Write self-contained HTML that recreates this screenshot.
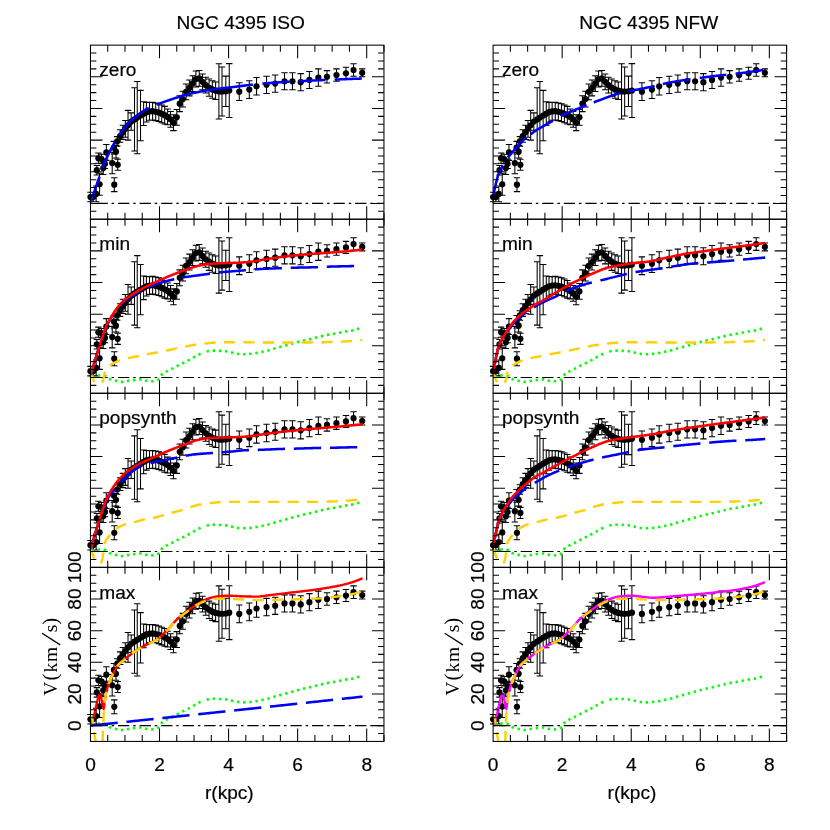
<!DOCTYPE html>
<html><head><meta charset="utf-8"><title>NGC 4395 rotation curve fits</title>
<style>
html,body{margin:0;padding:0;background:#fff;}
svg{display:block;will-change:transform;}
.t{font-family:"Liberation Sans",sans-serif;font-size:19.1px;fill:#000;stroke:#000;stroke-width:0.2px;}
.s{font-family:"Liberation Serif",serif;font-size:19.5px;fill:#000;}
</style></head><body>
<svg width="830" height="830" viewBox="0 0 830 830">
<rect width="830" height="830" fill="#ffffff"/>
<defs>
<clipPath id="c00"><rect x="90.45" y="45.15" width="293.50" height="174.07"/></clipPath>
<clipPath id="c01"><rect x="90.45" y="219.22" width="293.50" height="174.07"/></clipPath>
<clipPath id="c02"><rect x="90.45" y="393.29" width="293.50" height="174.07"/></clipPath>
<clipPath id="c03"><rect x="90.45" y="567.36" width="293.50" height="174.07"/></clipPath>
<clipPath id="c10"><rect x="493.10" y="45.15" width="293.50" height="174.07"/></clipPath>
<clipPath id="c11"><rect x="493.10" y="219.22" width="293.50" height="174.07"/></clipPath>
<clipPath id="c12"><rect x="493.10" y="393.29" width="293.50" height="174.07"/></clipPath>
<clipPath id="c13"><rect x="493.10" y="567.36" width="293.50" height="174.07"/></clipPath>
</defs>
<path d="M90.45 203.40 H383.95" stroke="#000" stroke-width="1.1" fill="none" stroke-dasharray="11.3 3.85 2.5 3.9" stroke-dashoffset="15.5"/>
<path d="M90.45 192.32 V201.81 M87.25 192.32 h6.4 M87.25 201.81 h6.4 M93.21 192.32 V201.81 M90.01 192.32 h6.4 M90.01 201.81 h6.4 M96.15 185.99 V201.81 M92.95 185.99 h6.4 M92.95 201.81 h6.4 M99.60 173.17 V195.32 M96.40 173.17 h6.4 M96.40 195.32 h6.4 M96.84 165.42 V174.91 M93.64 165.42 h6.4 M93.64 174.91 h6.4 M98.39 153.07 V163.20 M95.19 153.07 h6.4 M95.19 163.20 h6.4 M101.50 154.34 V163.83 M98.30 154.34 h6.4 M98.30 163.83 h6.4 M103.23 161.78 V174.44 M100.03 161.78 h6.4 M100.03 174.44 h6.4 M104.95 159.09 V168.58 M101.75 159.09 h6.4 M101.75 168.58 h6.4 M106.33 144.53 V160.35 M103.13 144.53 h6.4 M103.13 160.35 h6.4 M112.20 152.28 V173.80 M109.00 152.28 h6.4 M109.00 173.80 h6.4 M114.28 177.68 V191.61 M111.08 177.68 h6.4 M111.08 191.61 h6.4 M117.73 159.24 V170.32 M114.53 159.24 h6.4 M114.53 170.32 h6.4 M116.00 145.32 V157.98 M112.80 145.32 h6.4 M112.80 157.98 h6.4 M113.93 141.36 V154.02 M110.73 141.36 h6.4 M110.73 154.02 h6.4 M117.21 136.62 V146.11 M114.01 136.62 h6.4 M114.01 146.11 h6.4 M120.15 129.65 V142.31 M116.95 129.65 h6.4 M116.95 142.31 h6.4 M122.91 125.22 V139.47 M119.71 125.22 h6.4 M119.71 139.47 h6.4 M125.32 120.47 V137.24 M122.12 120.47 h6.4 M122.12 137.24 h6.4 M128.02 110.38 V140.13 M124.82 110.38 h6.4 M124.82 140.13 h6.4 M131.19 112.88 V130.29 M127.99 112.88 h6.4 M127.99 130.29 h6.4 M134.51 87.75 V151.05 M131.31 87.75 h6.4 M131.31 151.05 h6.4 M137.24 81.54 V153.70 M134.04 81.54 h6.4 M134.04 153.70 h6.4 M140.52 90.39 V140.71 M137.32 90.39 h6.4 M137.32 140.71 h6.4 M143.63 101.83 V125.57 M140.43 101.83 h6.4 M140.43 125.57 h6.4 M146.39 102.37 V121.99 M143.19 102.37 h6.4 M143.19 121.99 h6.4 M149.50 102.57 V120.30 M146.30 102.57 h6.4 M146.30 120.30 h6.4 M152.60 102.31 V120.03 M149.40 102.31 h6.4 M149.40 120.03 h6.4 M155.71 102.91 V120.63 M152.51 102.91 h6.4 M152.51 120.63 h6.4 M158.82 103.69 V121.41 M155.62 103.69 h6.4 M155.62 121.41 h6.4 M161.75 104.95 V122.67 M158.55 104.95 h6.4 M158.55 122.67 h6.4 M164.69 106.35 V124.07 M161.49 106.35 h6.4 M161.49 124.07 h6.4 M167.62 108.98 V124.81 M164.42 108.98 h6.4 M164.42 124.81 h6.4 M170.56 111.44 V127.27 M167.36 111.44 h6.4 M167.36 127.27 h6.4 M173.49 114.78 V130.60 M170.29 114.78 h6.4 M170.29 130.60 h6.4 M176.77 109.40 V125.22 M173.57 109.40 h6.4 M173.57 125.22 h6.4 M179.71 95.79 V111.61 M176.51 95.79 h6.4 M176.51 111.61 h6.4 M182.82 91.18 V107.00 M179.62 91.18 h6.4 M179.62 107.00 h6.4 M186.10 83.94 V99.76 M182.90 83.94 h6.4 M182.90 99.76 h6.4 M189.38 80.05 V95.87 M186.18 80.05 h6.4 M186.18 95.87 h6.4 M192.66 75.69 V91.51 M189.46 75.69 h6.4 M189.46 91.51 h6.4 M195.94 71.08 V86.90 M192.74 71.08 h6.4 M192.74 86.90 h6.4 M199.22 70.47 V86.29 M196.02 70.47 h6.4 M196.02 86.29 h6.4 M202.50 73.95 V89.78 M199.30 73.95 h6.4 M199.30 89.78 h6.4 M205.78 77.27 V93.09 M202.58 77.27 h6.4 M202.58 93.09 h6.4 M209.06 78.91 V96.32 M205.86 78.91 h6.4 M205.86 96.32 h6.4 M212.34 80.76 V98.16 M209.14 80.76 h6.4 M209.14 98.16 h6.4 M215.62 82.00 V99.40 M212.42 82.00 h6.4 M212.42 99.40 h6.4 M218.90 63.68 V119.07 M215.70 63.68 h6.4 M215.70 119.07 h6.4 M222.01 66.99 V116.04 M218.81 66.99 h6.4 M218.81 116.04 h6.4 M225.81 76.11 V106.49 M222.61 76.11 h6.4 M222.61 106.49 h6.4 M229.26 63.61 V117.41 M226.06 63.61 h6.4 M226.06 117.41 h6.4 M239.27 82.81 V100.54 M236.07 82.81 h6.4 M236.07 100.54 h6.4 M249.29 80.76 V98.48 M246.09 80.76 h6.4 M246.09 98.48 h6.4 M256.54 77.59 V95.00 M253.34 77.59 h6.4 M253.34 95.00 h6.4 M266.55 76.17 V93.57 M263.35 76.17 h6.4 M263.35 93.57 h6.4 M275.18 75.06 V92.15 M271.98 75.06 h6.4 M271.98 92.15 h6.4 M284.51 72.68 V89.78 M281.31 72.68 h6.4 M281.31 89.78 h6.4 M292.45 72.68 V89.78 M289.25 72.68 h6.4 M289.25 89.78 h6.4 M300.73 73.63 V90.72 M297.53 73.63 h6.4 M297.53 90.72 h6.4 M309.37 71.42 V88.51 M306.17 71.42 h6.4 M306.17 88.51 h6.4 M318.34 68.89 V86.29 M315.14 68.89 h6.4 M315.14 86.29 h6.4 M326.98 70.63 V82.97 M323.78 70.63 h6.4 M323.78 82.97 h6.4 M336.47 68.89 V81.23 M333.27 68.89 h6.4 M333.27 81.23 h6.4 M345.97 67.30 V79.33 M342.77 67.30 h6.4 M342.77 79.33 h6.4 M353.56 63.66 V76.32 M350.36 63.66 h6.4 M350.36 76.32 h6.4 M362.20 68.89 V76.80 M359.00 68.89 h6.4 M359.00 76.80 h6.4" stroke="#000" stroke-width="1.05" fill="none"/>
<circle cx="90.45" cy="197.07" r="3.1" fill="#000"/>
<circle cx="93.21" cy="197.07" r="3.1" fill="#000"/>
<circle cx="96.15" cy="193.90" r="3.1" fill="#000"/>
<circle cx="99.60" cy="184.25" r="3.1" fill="#000"/>
<circle cx="96.84" cy="170.16" r="3.1" fill="#000"/>
<circle cx="98.39" cy="158.14" r="3.1" fill="#000"/>
<circle cx="101.50" cy="159.09" r="3.1" fill="#000"/>
<circle cx="103.23" cy="168.11" r="3.1" fill="#000"/>
<circle cx="104.95" cy="163.83" r="3.1" fill="#000"/>
<circle cx="106.33" cy="152.44" r="3.1" fill="#000"/>
<circle cx="112.20" cy="163.04" r="3.1" fill="#000"/>
<circle cx="114.28" cy="184.64" r="3.1" fill="#000"/>
<circle cx="117.73" cy="164.78" r="3.1" fill="#000"/>
<circle cx="116.00" cy="151.65" r="3.1" fill="#000"/>
<circle cx="113.93" cy="147.69" r="3.1" fill="#000"/>
<circle cx="117.21" cy="141.36" r="3.1" fill="#000"/>
<circle cx="120.15" cy="135.98" r="3.1" fill="#000"/>
<circle cx="122.91" cy="132.34" r="3.1" fill="#000"/>
<circle cx="125.32" cy="128.85" r="3.1" fill="#000"/>
<circle cx="128.02" cy="125.25" r="3.1" fill="#000"/>
<circle cx="131.19" cy="121.58" r="3.1" fill="#000"/>
<circle cx="134.51" cy="119.40" r="3.1" fill="#000"/>
<circle cx="137.24" cy="117.62" r="3.1" fill="#000"/>
<circle cx="140.52" cy="115.55" r="3.1" fill="#000"/>
<circle cx="143.63" cy="113.70" r="3.1" fill="#000"/>
<circle cx="146.39" cy="112.18" r="3.1" fill="#000"/>
<circle cx="149.50" cy="111.44" r="3.1" fill="#000"/>
<circle cx="152.60" cy="111.17" r="3.1" fill="#000"/>
<circle cx="155.71" cy="111.77" r="3.1" fill="#000"/>
<circle cx="158.82" cy="112.55" r="3.1" fill="#000"/>
<circle cx="161.75" cy="113.81" r="3.1" fill="#000"/>
<circle cx="164.69" cy="115.21" r="3.1" fill="#000"/>
<circle cx="167.62" cy="116.89" r="3.1" fill="#000"/>
<circle cx="170.56" cy="119.35" r="3.1" fill="#000"/>
<circle cx="173.49" cy="122.69" r="3.1" fill="#000"/>
<circle cx="176.77" cy="117.31" r="3.1" fill="#000"/>
<circle cx="179.71" cy="103.70" r="3.1" fill="#000"/>
<circle cx="182.82" cy="99.09" r="3.1" fill="#000"/>
<circle cx="186.10" cy="91.85" r="3.1" fill="#000"/>
<circle cx="189.38" cy="87.96" r="3.1" fill="#000"/>
<circle cx="192.66" cy="83.60" r="3.1" fill="#000"/>
<circle cx="195.94" cy="78.99" r="3.1" fill="#000"/>
<circle cx="199.22" cy="78.38" r="3.1" fill="#000"/>
<circle cx="202.50" cy="81.86" r="3.1" fill="#000"/>
<circle cx="205.78" cy="85.18" r="3.1" fill="#000"/>
<circle cx="209.06" cy="87.62" r="3.1" fill="#000"/>
<circle cx="212.34" cy="89.46" r="3.1" fill="#000"/>
<circle cx="215.62" cy="90.70" r="3.1" fill="#000"/>
<circle cx="218.90" cy="91.38" r="3.1" fill="#000"/>
<circle cx="222.01" cy="91.52" r="3.1" fill="#000"/>
<circle cx="225.81" cy="91.30" r="3.1" fill="#000"/>
<circle cx="229.26" cy="90.51" r="3.1" fill="#000"/>
<circle cx="239.27" cy="91.67" r="3.1" fill="#000"/>
<circle cx="249.29" cy="89.62" r="3.1" fill="#000"/>
<circle cx="256.54" cy="86.29" r="3.1" fill="#000"/>
<circle cx="266.55" cy="84.87" r="3.1" fill="#000"/>
<circle cx="275.18" cy="83.60" r="3.1" fill="#000"/>
<circle cx="284.51" cy="81.23" r="3.1" fill="#000"/>
<circle cx="292.45" cy="81.23" r="3.1" fill="#000"/>
<circle cx="300.73" cy="82.18" r="3.1" fill="#000"/>
<circle cx="309.37" cy="79.96" r="3.1" fill="#000"/>
<circle cx="318.34" cy="77.59" r="3.1" fill="#000"/>
<circle cx="326.98" cy="76.80" r="3.1" fill="#000"/>
<circle cx="336.47" cy="75.06" r="3.1" fill="#000"/>
<circle cx="345.97" cy="73.32" r="3.1" fill="#000"/>
<circle cx="353.56" cy="69.99" r="3.1" fill="#000"/>
<circle cx="362.20" cy="72.84" r="3.1" fill="#000"/>
<g clip-path="url(#c00)">
<path d="M90.45 201.02 L90.70 200.91 L90.95 200.72 L91.20 200.39 L91.44 199.87 L91.50 199.72 L91.69 199.19 L91.94 198.50 L92.19 197.80 L92.44 197.10 L92.55 196.80 L92.69 196.40 L92.93 195.70 L93.18 194.99 L93.43 194.27 L93.59 193.80 L93.68 193.56 L93.93 192.84 L94.18 192.12 L94.42 191.40 L94.64 190.76 L94.67 190.67 L94.92 189.95 L95.17 189.22 L95.42 188.49 L95.67 187.76 L95.69 187.70 L95.92 187.03 L96.16 186.30 L96.41 185.58 L96.66 184.85 L96.74 184.62 L96.91 184.12 L97.16 183.39 L97.41 182.67 L97.65 181.94 L97.79 181.56 L97.90 181.22 L98.15 180.50 L98.40 179.79 L98.65 179.07 L98.83 178.54 L98.90 178.36 L99.14 177.65 L99.39 176.95 L99.48 176.70 M102.50 168.30 L102.62 167.97 L102.87 167.30 L103.02 166.89 L103.12 166.64 L103.37 165.99 L103.62 165.35 L103.86 164.72 L104.07 164.20 L104.11 164.10 L104.36 163.48 L104.61 162.87 L104.86 162.27 L105.11 161.68 L105.12 161.64 L105.35 161.09 L105.60 160.51 L105.85 159.94 L106.10 159.37 L106.17 159.21 L106.35 158.81 L106.60 158.26 L106.85 157.71 L107.09 157.17 L107.22 156.90 L107.34 156.63 L107.59 156.10 L107.84 155.57 L108.09 155.05 L108.26 154.69 L108.34 154.54 L108.58 154.03 L108.83 153.52 L109.08 153.02 L109.31 152.56 L109.33 152.53 L109.58 152.04 L109.83 151.55 L110.07 151.06 L110.32 150.58 L110.36 150.51 L110.57 150.11 L110.82 149.63 L111.07 149.16 L111.32 148.70 L111.41 148.52 L111.57 148.23 L111.81 147.77 L112.06 147.31 L112.31 146.85 L112.46 146.59 L112.56 146.40 L112.81 145.94 L113.06 145.49 L113.30 145.04 L113.50 144.68 L113.55 144.60 L113.80 144.15 L114.05 143.70 L114.30 143.26 L114.55 142.82 L114.55 142.81 L114.79 142.37 L115.04 141.93 L115.14 141.76 M119.11 135.30 L119.27 135.07 L119.51 134.71 L119.76 134.36 L119.79 134.32 L120.01 134.01 L120.26 133.66 L120.51 133.31 L120.76 132.96 L120.84 132.85 L121.00 132.62 L121.25 132.28 L121.50 131.94 L121.75 131.60 L121.89 131.42 L122.00 131.27 L122.25 130.93 L122.50 130.60 L122.74 130.27 L122.93 130.02 L122.99 129.95 L123.24 129.62 L123.49 129.30 L123.74 128.98 L123.98 128.66 L123.99 128.66 L124.23 128.34 L124.48 128.03 L124.73 127.72 L124.98 127.41 L125.03 127.35 L126.08 126.08 L127.13 124.85 L128.17 123.68 L129.22 122.57 L130.27 121.51 L131.32 120.52 L132.37 119.56 L133.41 118.62 L134.46 117.70 L135.51 116.81 L136.56 115.93 L137.60 115.09 L138.65 114.27 L139.70 113.47 L140.75 112.71 L141.80 111.98 L142.84 111.27 L143.89 110.61 L144.94 109.98 L145.99 109.38 L147.04 108.82 L148.08 108.31 L148.80 107.97 M156.68 104.61 L157.51 104.31 L158.56 103.93 L159.61 103.55 L160.66 103.17 L161.71 102.79 L162.75 102.41 L163.80 102.04 L164.85 101.66 L165.90 101.29 L166.95 100.92 L167.99 100.55 L169.04 100.19 L170.09 99.83 L171.14 99.47 L172.18 99.11 L173.23 98.75 L174.28 98.40 L175.33 98.05 L176.38 97.70 L177.42 97.35 L178.47 97.01 L179.52 96.67 L180.57 96.33 L181.62 96.00 L182.66 95.68 L183.71 95.36 L184.76 95.06 L185.81 94.78 L186.86 94.51 L187.90 94.25 L188.95 94.01 L190.00 93.77 L191.05 93.54 L192.09 93.31 L193.14 93.09 L194.19 92.87 L195.24 92.66 L196.29 92.44 L197.33 92.22 L198.38 92.01 L199.43 91.80 L200.48 91.60 L201.53 91.39 L202.57 91.19 L203.62 91.00 L204.67 90.80 L205.72 90.61 L206.76 90.43 L207.81 90.24 L208.86 90.07 L209.91 89.89 L210.96 89.73 L212.00 89.56 L213.05 89.40 L214.10 89.25 L215.15 89.10 L216.20 88.96 L217.24 88.83 L218.29 88.70 L219.34 88.58 L220.39 88.46 L221.44 88.34 L222.48 88.22 L223.53 88.11 L224.58 88.00 L225.63 87.88 L226.67 87.77 L227.72 87.66 L228.77 87.54 L229.82 87.42 L230.87 87.29 L231.91 87.17 L232.96 87.04 L234.01 86.91 L235.06 86.79 L236.11 86.66 L237.15 86.52 L238.20 86.39 L239.25 86.26 L240.30 86.13 L241.34 86.00 L242.39 85.87 L243.44 85.74 L244.49 85.61 L245.54 85.48 L246.58 85.35 L247.63 85.23 L248.68 85.10 L249.73 84.98 L250.78 84.85 L251.82 84.73 L252.87 84.62 L252.91 84.61 M262.41 83.64 L263.35 83.56 L264.40 83.46 L265.45 83.37 L266.49 83.28 L267.54 83.19 L268.59 83.11 L269.64 83.02 L270.69 82.94 L271.73 82.86 L272.78 82.78 L273.83 82.70 L274.88 82.63 L275.92 82.55 L276.97 82.48 L278.02 82.41 L279.07 82.34 L280.12 82.27 L281.16 82.20 L282.21 82.14 L283.26 82.07 L284.31 82.01 L285.36 81.95 L286.40 81.89 L287.45 81.83 L288.50 81.77 L289.48 81.72 M298.56 81.24 L298.98 81.21 L300.03 81.16 L301.07 81.11 L302.12 81.05 L303.17 81.00 L304.22 80.95 L305.27 80.90 L306.31 80.84 L307.36 80.79 L308.41 80.74 L309.46 80.69 L310.51 80.64 L311.55 80.59 L312.60 80.54 L313.65 80.49 L314.70 80.44 L315.74 80.39 L316.79 80.35 L317.84 80.30 L318.89 80.25 L319.94 80.21 L320.98 80.16 L322.03 80.11 L323.08 80.07 L324.13 80.03 L325.18 79.98 L325.63 79.96 M334.64 79.59 L335.65 79.55 L336.70 79.51 L337.75 79.46 L338.80 79.42 L339.85 79.38 L340.89 79.33 L341.94 79.29 L342.99 79.25 L344.04 79.21 L345.09 79.17 L346.13 79.13 L347.18 79.08 L348.23 79.04 L349.28 79.00 L350.32 78.96 L351.37 78.92 L352.42 78.88 L353.47 78.84 L354.52 78.80 L355.56 78.77 L356.61 78.73 L357.66 78.69 L358.71 78.65 L359.76 78.61 L360.80 78.58 L361.85 78.54" fill="none" stroke="#0000f5" stroke-width="2.55" stroke-linecap="butt" stroke-linejoin="round"/>
</g>
<path d="M107.71 45.15 v6.50 M107.71 219.22 v-6.50 M124.98 45.15 v6.50 M124.98 219.22 v-6.50 M142.24 45.15 v6.50 M142.24 219.22 v-6.50 M159.51 45.15 v13.00 M159.51 219.22 v-13.00 M176.77 45.15 v6.50 M176.77 219.22 v-6.50 M194.04 45.15 v6.50 M194.04 219.22 v-6.50 M211.30 45.15 v6.50 M211.30 219.22 v-6.50 M228.57 45.15 v13.00 M228.57 219.22 v-13.00 M245.83 45.15 v6.50 M245.83 219.22 v-6.50 M263.10 45.15 v6.50 M263.10 219.22 v-6.50 M280.36 45.15 v6.50 M280.36 219.22 v-6.50 M297.63 45.15 v13.00 M297.63 219.22 v-13.00 M314.89 45.15 v6.50 M314.89 219.22 v-6.50 M332.16 45.15 v6.50 M332.16 219.22 v-6.50 M349.42 45.15 v6.50 M349.42 219.22 v-6.50 M366.69 45.15 v13.00 M366.69 219.22 v-13.00 M383.95 45.15 v6.50 M383.95 219.22 v-6.50 M90.45 211.31 h5.90 M383.95 211.31 h-5.90 M90.45 203.40 h12.00 M383.95 203.40 h-12.00 M90.45 195.48 h5.90 M383.95 195.48 h-5.90 M90.45 187.57 h5.90 M383.95 187.57 h-5.90 M90.45 179.66 h5.90 M383.95 179.66 h-5.90 M90.45 171.75 h12.00 M383.95 171.75 h-12.00 M90.45 163.83 h5.90 M383.95 163.83 h-5.90 M90.45 155.92 h5.90 M383.95 155.92 h-5.90 M90.45 148.01 h5.90 M383.95 148.01 h-5.90 M90.45 140.10 h12.00 M383.95 140.10 h-12.00 M90.45 132.19 h5.90 M383.95 132.19 h-5.90 M90.45 124.27 h5.90 M383.95 124.27 h-5.90 M90.45 116.36 h5.90 M383.95 116.36 h-5.90 M90.45 108.45 h12.00 M383.95 108.45 h-12.00 M90.45 100.54 h5.90 M383.95 100.54 h-5.90 M90.45 92.62 h5.90 M383.95 92.62 h-5.90 M90.45 84.71 h5.90 M383.95 84.71 h-5.90 M90.45 76.80 h12.00 M383.95 76.80 h-12.00 M90.45 68.89 h5.90 M383.95 68.89 h-5.90 M90.45 60.97 h5.90 M383.95 60.97 h-5.90 M90.45 53.06 h5.90 M383.95 53.06 h-5.90" stroke="#000" stroke-width="1.05" fill="none"/>
<rect x="90.45" y="45.15" width="293.50" height="174.07" fill="none" stroke="#000" stroke-width="1.05"/>
<text x="99.25" y="76.35" class="t">zero</text>
<path d="M90.45 377.47 H383.95" stroke="#000" stroke-width="1.1" fill="none" stroke-dasharray="11.3 3.85 2.5 3.9" stroke-dashoffset="15.5"/>
<path d="M90.45 366.39 V375.88 M87.25 366.39 h6.4 M87.25 375.88 h6.4 M93.21 366.39 V375.88 M90.01 366.39 h6.4 M90.01 375.88 h6.4 M96.15 360.06 V375.88 M92.95 360.06 h6.4 M92.95 375.88 h6.4 M99.60 347.24 V369.39 M96.40 347.24 h6.4 M96.40 369.39 h6.4 M96.84 339.49 V348.98 M93.64 339.49 h6.4 M93.64 348.98 h6.4 M98.39 327.14 V337.27 M95.19 327.14 h6.4 M95.19 337.27 h6.4 M101.50 328.41 V337.90 M98.30 328.41 h6.4 M98.30 337.90 h6.4 M103.23 335.85 V348.51 M100.03 335.85 h6.4 M100.03 348.51 h6.4 M104.95 333.16 V342.65 M101.75 333.16 h6.4 M101.75 342.65 h6.4 M106.33 318.60 V334.42 M103.13 318.60 h6.4 M103.13 334.42 h6.4 M112.20 326.35 V347.87 M109.00 326.35 h6.4 M109.00 347.87 h6.4 M114.28 351.75 V365.68 M111.08 351.75 h6.4 M111.08 365.68 h6.4 M117.73 333.31 V344.39 M114.53 333.31 h6.4 M114.53 344.39 h6.4 M116.00 319.39 V332.05 M112.80 319.39 h6.4 M112.80 332.05 h6.4 M113.93 315.43 V328.09 M110.73 315.43 h6.4 M110.73 328.09 h6.4 M117.21 310.69 V320.18 M114.01 310.69 h6.4 M114.01 320.18 h6.4 M120.15 303.72 V316.38 M116.95 303.72 h6.4 M116.95 316.38 h6.4 M122.91 299.29 V313.54 M119.71 299.29 h6.4 M119.71 313.54 h6.4 M125.32 294.54 V311.31 M122.12 294.54 h6.4 M122.12 311.31 h6.4 M128.02 284.45 V314.20 M124.82 284.45 h6.4 M124.82 314.20 h6.4 M131.19 286.95 V304.36 M127.99 286.95 h6.4 M127.99 304.36 h6.4 M134.51 261.82 V325.12 M131.31 261.82 h6.4 M131.31 325.12 h6.4 M137.24 255.61 V327.77 M134.04 255.61 h6.4 M134.04 327.77 h6.4 M140.52 264.46 V314.78 M137.32 264.46 h6.4 M137.32 314.78 h6.4 M143.63 275.90 V299.64 M140.43 275.90 h6.4 M140.43 299.64 h6.4 M146.39 276.44 V296.06 M143.19 276.44 h6.4 M143.19 296.06 h6.4 M149.50 276.64 V294.37 M146.30 276.64 h6.4 M146.30 294.37 h6.4 M152.60 276.38 V294.10 M149.40 276.38 h6.4 M149.40 294.10 h6.4 M155.71 276.98 V294.70 M152.51 276.98 h6.4 M152.51 294.70 h6.4 M158.82 277.76 V295.48 M155.62 277.76 h6.4 M155.62 295.48 h6.4 M161.75 279.02 V296.74 M158.55 279.02 h6.4 M158.55 296.74 h6.4 M164.69 280.42 V298.14 M161.49 280.42 h6.4 M161.49 298.14 h6.4 M167.62 283.05 V298.88 M164.42 283.05 h6.4 M164.42 298.88 h6.4 M170.56 285.51 V301.34 M167.36 285.51 h6.4 M167.36 301.34 h6.4 M173.49 288.85 V304.67 M170.29 288.85 h6.4 M170.29 304.67 h6.4 M176.77 283.47 V299.29 M173.57 283.47 h6.4 M173.57 299.29 h6.4 M179.71 269.86 V285.68 M176.51 269.86 h6.4 M176.51 285.68 h6.4 M182.82 265.25 V281.07 M179.62 265.25 h6.4 M179.62 281.07 h6.4 M186.10 258.01 V273.83 M182.90 258.01 h6.4 M182.90 273.83 h6.4 M189.38 254.12 V269.94 M186.18 254.12 h6.4 M186.18 269.94 h6.4 M192.66 249.76 V265.58 M189.46 249.76 h6.4 M189.46 265.58 h6.4 M195.94 245.15 V260.97 M192.74 245.15 h6.4 M192.74 260.97 h6.4 M199.22 244.54 V260.36 M196.02 244.54 h6.4 M196.02 260.36 h6.4 M202.50 248.02 V263.85 M199.30 248.02 h6.4 M199.30 263.85 h6.4 M205.78 251.34 V267.16 M202.58 251.34 h6.4 M202.58 267.16 h6.4 M209.06 252.98 V270.39 M205.86 252.98 h6.4 M205.86 270.39 h6.4 M212.34 254.83 V272.23 M209.14 254.83 h6.4 M209.14 272.23 h6.4 M215.62 256.07 V273.47 M212.42 256.07 h6.4 M212.42 273.47 h6.4 M218.90 237.75 V293.14 M215.70 237.75 h6.4 M215.70 293.14 h6.4 M222.01 241.06 V290.11 M218.81 241.06 h6.4 M218.81 290.11 h6.4 M225.81 250.18 V280.56 M222.61 250.18 h6.4 M222.61 280.56 h6.4 M229.26 237.68 V291.48 M226.06 237.68 h6.4 M226.06 291.48 h6.4 M239.27 256.88 V274.61 M236.07 256.88 h6.4 M236.07 274.61 h6.4 M249.29 254.83 V272.55 M246.09 254.83 h6.4 M246.09 272.55 h6.4 M256.54 251.66 V269.07 M253.34 251.66 h6.4 M253.34 269.07 h6.4 M266.55 250.24 V267.64 M263.35 250.24 h6.4 M263.35 267.64 h6.4 M275.18 249.13 V266.22 M271.98 249.13 h6.4 M271.98 266.22 h6.4 M284.51 246.75 V263.85 M281.31 246.75 h6.4 M281.31 263.85 h6.4 M292.45 246.75 V263.85 M289.25 246.75 h6.4 M289.25 263.85 h6.4 M300.73 247.70 V264.79 M297.53 247.70 h6.4 M297.53 264.79 h6.4 M309.37 245.49 V262.58 M306.17 245.49 h6.4 M306.17 262.58 h6.4 M318.34 242.96 V260.36 M315.14 242.96 h6.4 M315.14 260.36 h6.4 M326.98 244.70 V257.04 M323.78 244.70 h6.4 M323.78 257.04 h6.4 M336.47 242.96 V255.30 M333.27 242.96 h6.4 M333.27 255.30 h6.4 M345.97 241.37 V253.40 M342.77 241.37 h6.4 M342.77 253.40 h6.4 M353.56 237.73 V250.39 M350.36 237.73 h6.4 M350.36 250.39 h6.4 M362.20 242.96 V250.87 M359.00 242.96 h6.4 M359.00 250.87 h6.4" stroke="#000" stroke-width="1.05" fill="none"/>
<circle cx="90.45" cy="371.14" r="3.1" fill="#000"/>
<circle cx="93.21" cy="371.14" r="3.1" fill="#000"/>
<circle cx="96.15" cy="367.97" r="3.1" fill="#000"/>
<circle cx="99.60" cy="358.32" r="3.1" fill="#000"/>
<circle cx="96.84" cy="344.23" r="3.1" fill="#000"/>
<circle cx="98.39" cy="332.21" r="3.1" fill="#000"/>
<circle cx="101.50" cy="333.16" r="3.1" fill="#000"/>
<circle cx="103.23" cy="342.18" r="3.1" fill="#000"/>
<circle cx="104.95" cy="337.90" r="3.1" fill="#000"/>
<circle cx="106.33" cy="326.51" r="3.1" fill="#000"/>
<circle cx="112.20" cy="337.11" r="3.1" fill="#000"/>
<circle cx="114.28" cy="358.71" r="3.1" fill="#000"/>
<circle cx="117.73" cy="338.85" r="3.1" fill="#000"/>
<circle cx="116.00" cy="325.72" r="3.1" fill="#000"/>
<circle cx="113.93" cy="321.76" r="3.1" fill="#000"/>
<circle cx="117.21" cy="315.43" r="3.1" fill="#000"/>
<circle cx="120.15" cy="310.05" r="3.1" fill="#000"/>
<circle cx="122.91" cy="306.41" r="3.1" fill="#000"/>
<circle cx="125.32" cy="302.92" r="3.1" fill="#000"/>
<circle cx="128.02" cy="299.32" r="3.1" fill="#000"/>
<circle cx="131.19" cy="295.65" r="3.1" fill="#000"/>
<circle cx="134.51" cy="293.47" r="3.1" fill="#000"/>
<circle cx="137.24" cy="291.69" r="3.1" fill="#000"/>
<circle cx="140.52" cy="289.62" r="3.1" fill="#000"/>
<circle cx="143.63" cy="287.77" r="3.1" fill="#000"/>
<circle cx="146.39" cy="286.25" r="3.1" fill="#000"/>
<circle cx="149.50" cy="285.51" r="3.1" fill="#000"/>
<circle cx="152.60" cy="285.24" r="3.1" fill="#000"/>
<circle cx="155.71" cy="285.84" r="3.1" fill="#000"/>
<circle cx="158.82" cy="286.62" r="3.1" fill="#000"/>
<circle cx="161.75" cy="287.88" r="3.1" fill="#000"/>
<circle cx="164.69" cy="289.28" r="3.1" fill="#000"/>
<circle cx="167.62" cy="290.96" r="3.1" fill="#000"/>
<circle cx="170.56" cy="293.42" r="3.1" fill="#000"/>
<circle cx="173.49" cy="296.76" r="3.1" fill="#000"/>
<circle cx="176.77" cy="291.38" r="3.1" fill="#000"/>
<circle cx="179.71" cy="277.77" r="3.1" fill="#000"/>
<circle cx="182.82" cy="273.16" r="3.1" fill="#000"/>
<circle cx="186.10" cy="265.92" r="3.1" fill="#000"/>
<circle cx="189.38" cy="262.03" r="3.1" fill="#000"/>
<circle cx="192.66" cy="257.67" r="3.1" fill="#000"/>
<circle cx="195.94" cy="253.06" r="3.1" fill="#000"/>
<circle cx="199.22" cy="252.45" r="3.1" fill="#000"/>
<circle cx="202.50" cy="255.93" r="3.1" fill="#000"/>
<circle cx="205.78" cy="259.25" r="3.1" fill="#000"/>
<circle cx="209.06" cy="261.69" r="3.1" fill="#000"/>
<circle cx="212.34" cy="263.53" r="3.1" fill="#000"/>
<circle cx="215.62" cy="264.77" r="3.1" fill="#000"/>
<circle cx="218.90" cy="265.45" r="3.1" fill="#000"/>
<circle cx="222.01" cy="265.59" r="3.1" fill="#000"/>
<circle cx="225.81" cy="265.37" r="3.1" fill="#000"/>
<circle cx="229.26" cy="264.58" r="3.1" fill="#000"/>
<circle cx="239.27" cy="265.74" r="3.1" fill="#000"/>
<circle cx="249.29" cy="263.69" r="3.1" fill="#000"/>
<circle cx="256.54" cy="260.36" r="3.1" fill="#000"/>
<circle cx="266.55" cy="258.94" r="3.1" fill="#000"/>
<circle cx="275.18" cy="257.67" r="3.1" fill="#000"/>
<circle cx="284.51" cy="255.30" r="3.1" fill="#000"/>
<circle cx="292.45" cy="255.30" r="3.1" fill="#000"/>
<circle cx="300.73" cy="256.25" r="3.1" fill="#000"/>
<circle cx="309.37" cy="254.03" r="3.1" fill="#000"/>
<circle cx="318.34" cy="251.66" r="3.1" fill="#000"/>
<circle cx="326.98" cy="250.87" r="3.1" fill="#000"/>
<circle cx="336.47" cy="249.13" r="3.1" fill="#000"/>
<circle cx="345.97" cy="247.39" r="3.1" fill="#000"/>
<circle cx="353.56" cy="244.06" r="3.1" fill="#000"/>
<circle cx="362.20" cy="246.91" r="3.1" fill="#000"/>
<g clip-path="url(#c01)">
<path d="M91.63 376.53 L91.69 376.52 L91.76 376.51 L91.94 376.48 L92.19 376.45 L92.20 376.45 L92.44 376.42 L92.64 376.39 L92.69 376.38 L92.93 376.35 L93.07 376.33 L93.18 376.31 L93.43 376.27 L93.51 376.26 L93.68 376.23 L93.93 376.18 L93.95 376.17 L94.00 376.16 M97.69 375.48 L97.88 375.46 L97.90 375.46 L98.15 375.44 L98.32 375.43 L98.40 375.42 L98.65 375.41 L98.76 375.41 L98.90 375.41 L99.14 375.41 L99.20 375.41 L99.39 375.41 L99.63 375.41 L99.64 375.41 L99.89 375.42 L100.07 375.42 L100.08 375.42 M103.83 375.64 L103.86 375.65 L104.01 375.66 L104.11 375.67 L104.36 375.70 L104.44 375.71 L104.61 375.73 L104.86 375.76 L104.88 375.77 L105.11 375.82 L105.32 375.88 L105.35 375.90 L105.60 375.99 L105.75 376.05 L105.85 376.09 L106.10 376.21 L106.13 376.23 M109.01 378.60 L109.08 378.65 L109.25 378.76 L109.33 378.81 L109.58 378.95 L109.69 379.00 L109.83 379.06 L110.07 379.17 L110.13 379.19 L110.32 379.27 L110.57 379.36 L110.57 379.36 L110.82 379.45 L111.00 379.51 L111.07 379.54 L111.19 379.58 M114.82 380.54 L114.94 380.56 L115.04 380.59 L115.29 380.64 L115.38 380.66 L115.54 380.70 L115.79 380.76 L115.81 380.76 L116.04 380.81 L116.25 380.87 L116.28 380.87 L116.53 380.94 L116.69 380.97 L116.78 381.00 L117.03 381.06 L117.12 381.09 L117.15 381.09 M120.82 381.84 L121.00 381.86 L121.06 381.86 L121.25 381.88 L121.50 381.89 L121.50 381.89 L121.75 381.90 L121.93 381.90 L122.00 381.90 L122.25 381.89 L122.37 381.88 L122.50 381.88 L122.74 381.86 L122.81 381.86 L122.99 381.84 L123.22 381.82 M126.91 381.16 L127.18 381.10 L127.62 381.02 L128.06 380.95 L128.49 380.88 L128.93 380.81 L129.27 380.76 M132.97 380.16 L133.30 380.11 L133.74 380.05 L134.18 379.99 L134.62 379.94 L135.05 379.89 L135.35 379.85 M139.08 379.44 L139.43 379.41 L139.86 379.39 L140.30 379.37 L140.74 379.36 L141.17 379.37 L141.48 379.40 M145.09 380.39 L145.11 380.40 L145.55 380.52 L145.99 380.62 L146.42 380.70 L146.86 380.76 L147.30 380.81 L147.44 380.83 M151.18 381.19 L151.23 381.20 L151.67 381.22 L152.11 381.24 L152.54 381.25 L152.98 381.26 L153.42 381.26 L153.57 381.25 M157.13 380.15 L157.35 380.05 L157.79 379.83 L158.23 379.56 L158.67 379.20 L159.09 378.80 M161.19 375.71 L161.29 375.52 L161.73 374.70 L162.16 374.02 L162.47 373.70 M165.66 371.77 L166.10 371.58 L166.54 371.40 L166.97 371.21 L167.41 371.01 L167.85 370.79 L167.85 370.79 M171.23 369.15 L171.35 369.10 L171.78 368.89 L172.22 368.67 L172.66 368.46 L173.10 368.24 L173.38 368.10 M176.70 366.35 L177.03 366.17 L177.47 365.93 L177.91 365.70 L178.34 365.47 L178.78 365.24 L178.82 365.22 M182.18 363.55 L182.28 363.50 L182.72 363.28 L183.15 363.07 L183.59 362.85 L184.03 362.63 L184.33 362.49 M187.67 360.79 L187.96 360.63 L188.40 360.41 L188.84 360.18 L189.28 359.95 L189.71 359.71 L189.79 359.67 M193.04 357.80 L193.21 357.69 L193.65 357.44 L194.09 357.18 L194.52 356.92 L194.96 356.67 L195.12 356.59 M198.40 354.78 L198.46 354.75 L198.90 354.52 L199.33 354.30 L199.77 354.09 L200.21 353.88 L200.56 353.73" fill="none" stroke="#00ff00" stroke-width="2.60" stroke-linecap="butt" stroke-linejoin="round"/>
<path d="M206.62 351.49 L206.74 351.47 L207.35 351.34 L207.95 351.22 L208.56 351.10 L208.97 351.02 M212.69 350.60 L212.81 350.60 L213.41 350.60 L214.02 350.61 L214.63 350.63 L215.09 350.64 M218.84 350.82 L218.87 350.82 L219.48 350.85 L220.08 350.88 L220.69 350.90 L221.23 350.93 M224.98 351.15 L225.54 351.20 L226.15 351.28 L226.76 351.38 L227.35 351.50 M230.99 352.41 L231.00 352.41 L231.61 352.55 L232.22 352.69 L232.82 352.84 L233.32 352.97 M236.98 353.79 L237.07 353.80 L237.68 353.87 L238.28 353.93 L238.89 353.98 L239.37 354.02 M243.11 354.22 L243.14 354.22 L243.74 354.22 L244.35 354.21 L244.96 354.19 L245.51 354.17 M249.25 353.91 L249.81 353.87 L250.41 353.82 L251.02 353.76 L251.63 353.69 L251.64 353.69 M255.35 353.15 L255.87 353.07 L256.48 352.97 L257.09 352.86 L257.69 352.75 L257.72 352.74 M261.39 351.97 L261.94 351.86 L262.55 351.73 L263.15 351.60 L263.73 351.48 M267.40 350.67 L267.40 350.67 L268.01 350.52 L268.61 350.36 L269.22 350.19 L269.71 350.04 M273.28 348.88 L273.47 348.82 L274.07 348.63 L274.68 348.45 L275.29 348.28 L275.58 348.20 M279.20 347.24 L279.53 347.15 L280.14 346.99 L280.74 346.82 L281.35 346.65 L281.52 346.61 M285.13 345.60 L285.60 345.46 L286.20 345.29 L286.81 345.12 L287.42 344.94 L287.44 344.93 M291.03 343.85 L291.06 343.84 L291.66 343.67 L292.27 343.49 L292.88 343.32 L293.34 343.20 M296.96 342.23 L297.12 342.18 L297.73 342.03 L298.34 341.87 L298.94 341.71 L299.28 341.62 M302.91 340.67 L303.19 340.60 L303.80 340.45 L304.40 340.31 L305.01 340.17 L305.24 340.12 M308.92 339.37 L309.25 339.30 L309.86 339.17 L310.47 339.04 L311.07 338.89 L311.26 338.85 M314.89 337.88 L315.32 337.77 L315.93 337.61 L316.53 337.45 L317.14 337.30 L317.21 337.28 M320.85 336.39 L321.39 336.26 L321.99 336.12 L322.60 335.98 L323.19 335.84 M326.84 334.99 L326.85 334.99 L327.45 334.86 L328.06 334.74 L328.67 334.62 L329.19 334.52 M332.90 333.95 L332.91 333.95 L333.52 333.86 L334.12 333.77 L334.73 333.66 L335.27 333.57 M338.94 332.82 L338.98 332.81 L339.58 332.68 L340.19 332.56 L340.80 332.43 L341.29 332.33 M344.97 331.61 L345.04 331.59 L345.65 331.48 L346.26 331.37 L346.86 331.26 L347.33 331.18 M351.05 330.66 L351.11 330.66 L351.72 330.57 L352.32 330.47 L352.93 330.36 L353.41 330.27 M357.02 329.23 L357.18 329.18 L357.78 328.97 L358.39 328.76 L359.00 328.55 L359.29 328.46" fill="none" stroke="#00ff00" stroke-width="2.60" stroke-linecap="butt" stroke-linejoin="round"/>
<path d="M91.27 373.35 L91.44 372.85 L91.47 372.77 L91.69 372.05 L91.94 371.21 L92.19 370.36 L92.44 369.48 L92.49 369.31 L92.69 368.60 L92.93 367.70 L93.18 366.79 L93.43 365.89 L93.51 365.62 L93.68 364.98 L93.93 364.08 L94.18 363.19 L94.42 362.31 L94.52 361.97 L94.67 361.45 L94.92 360.61 L95.17 359.79 L95.42 359.00 L95.54 358.60 L95.67 358.21 L95.92 357.42 L96.16 356.64 L96.41 355.85 L96.56 355.38 L96.66 355.07 L96.91 354.29 L97.16 353.51 L97.41 352.73 L97.58 352.18 L97.65 351.95 L97.90 351.17 L98.15 350.40 L98.40 349.63 L98.60 349.01 L98.65 348.86 L98.90 348.09 L99.14 347.32 L99.17 347.23 M101.92 338.87 L102.13 338.24 L102.37 337.50 L102.62 336.77 L102.67 336.62 L102.87 336.04 L103.12 335.32 L103.37 334.60 L103.62 333.88 L103.69 333.67 L103.86 333.18 L104.11 332.48 L104.36 331.79 L104.61 331.10 L104.71 330.83 L104.86 330.42 L105.11 329.75 L105.35 329.09 L105.60 328.45 L105.73 328.14 L105.85 327.84 L106.10 327.24 L106.35 326.66 L106.60 326.10 L106.75 325.77 L106.85 325.56 L107.09 325.03 L107.34 324.51 L107.59 324.01 L107.77 323.67 L107.84 323.53 L108.09 323.05 L108.34 322.58 L108.58 322.13 L108.78 321.77 L108.83 321.68 L109.08 321.24 L109.33 320.81 L109.58 320.38 L109.80 320.00 L109.83 319.96 L110.07 319.54 L110.32 319.13 L110.57 318.71 L110.82 318.30 L110.82 318.30 L111.07 317.89 L111.32 317.47 L111.57 317.06 L111.81 316.65 L111.84 316.61 L112.06 316.24 L112.31 315.84 L112.56 315.43 L112.81 315.03 L112.86 314.95 L113.06 314.63 L113.30 314.24 L113.34 314.19 M118.51 307.08 L118.52 307.07 L118.77 306.79 L118.97 306.56 L119.02 306.51 L119.27 306.23 L119.51 305.95 L119.76 305.67 L119.99 305.43 L120.01 305.40 L120.26 305.13 L120.51 304.87 L120.76 304.60 L121.00 304.34 L121.01 304.34 L121.25 304.08 L121.50 303.83 L121.75 303.57 L122.00 303.32 L122.03 303.30 L122.25 303.08 L122.50 302.84 L122.74 302.60 L122.99 302.36 L123.04 302.31 L123.24 302.13 L123.49 301.90 L123.74 301.67 L123.99 301.45 L124.06 301.38 L124.23 301.23 L124.48 301.02 L124.73 300.81 L124.98 300.60 L125.08 300.52 L126.10 299.72 L127.12 298.99 L128.14 298.29 L129.15 297.60 L130.17 296.93 L131.19 296.26 L132.21 295.60 L133.23 294.96 L134.25 294.34 L135.27 293.73 L136.28 293.14 L137.30 292.57 L138.32 292.02 L139.34 291.49 L140.32 290.98 M148.24 287.15 L148.51 287.04 L149.53 286.61 L150.54 286.19 L151.56 285.78 L152.58 285.38 L153.60 284.98 L154.62 284.61 L155.64 284.24 L156.66 283.89 L157.67 283.55 L158.69 283.24 L159.71 282.93 L160.73 282.64 L161.75 282.36 L162.77 282.07 L163.79 281.80 L164.80 281.52 L165.82 281.26 L166.84 280.99 L167.86 280.73 L168.88 280.48 L169.90 280.23 L170.92 279.99 L171.93 279.75 L172.95 279.51 L173.97 279.28 L174.31 279.21 M182.92 277.41 L183.14 277.37 L184.16 277.23 L185.18 277.09 L186.19 276.95 L187.21 276.81 L188.23 276.67 L189.25 276.53 L190.27 276.39 L191.29 276.25 L192.31 276.11 L193.32 275.97 L194.34 275.83 L195.36 275.69 L196.38 275.55 L197.40 275.41 L198.42 275.27 L199.43 275.13 L200.45 274.99 L201.47 274.86 L202.49 274.72 L203.51 274.58 L204.53 274.44 L205.55 274.30 L206.56 274.16 L207.58 274.02 L208.60 273.88 L209.62 273.74 L209.97 273.70 M218.69 272.49 L218.79 272.48 L219.81 272.37 L220.82 272.26 L221.84 272.16 L222.86 272.07 L223.88 271.99 L224.90 271.91 L225.92 271.83 L226.94 271.76 L227.95 271.68 L228.97 271.60 L229.99 271.52 L231.01 271.43 L232.03 271.35 L233.05 271.26 L234.07 271.18 L235.08 271.09 L236.10 271.01 L237.12 270.93 L238.14 270.84 L239.16 270.76 L240.18 270.67 L241.20 270.59 L242.21 270.50 L243.23 270.42 L244.25 270.34 L245.27 270.25 L245.89 270.20 M254.65 269.37 L255.46 269.32 L256.47 269.25 L257.49 269.18 L258.51 269.12 L259.53 269.06 L260.55 269.01 L261.57 268.95 L262.59 268.90 L263.60 268.85 L264.62 268.80 L265.64 268.75 L266.66 268.70 L267.68 268.66 L268.70 268.62 L269.71 268.57 L270.73 268.53 L271.75 268.49 L272.77 268.45 L273.79 268.42 L274.81 268.38 L275.83 268.34 L276.84 268.30 L277.86 268.27 L278.88 268.23 L279.90 268.20 L280.92 268.16 L281.92 268.12 M290.71 267.82 L291.10 267.81 L292.12 267.78 L293.14 267.75 L294.16 267.72 L295.18 267.70 L296.20 267.67 L297.22 267.64 L298.23 267.62 L299.25 267.60 L300.27 267.58 L301.29 267.56 L302.31 267.53 L303.33 267.51 L304.35 267.49 L305.36 267.47 L306.38 267.45 L307.40 267.43 L308.42 267.41 L309.44 267.39 L310.46 267.37 L311.48 267.34 L312.49 267.32 L313.51 267.29 L314.53 267.27 L315.55 267.24 L316.57 267.21 L317.59 267.18 L318.01 267.17 M326.79 266.70 L327.77 266.67 L328.79 266.65 L329.81 266.62 L330.83 266.59 L331.85 266.57 L332.87 266.54 L333.88 266.51 L334.90 266.49 L335.92 266.46 L336.94 266.44 L337.96 266.41 L338.98 266.39 L339.99 266.37 L341.01 266.34 L342.03 266.32 L343.05 266.30 L344.07 266.27 L345.09 266.25 L346.11 266.23 L347.12 266.21 L348.14 266.19 L349.16 266.16 L350.18 266.14 L351.20 266.12 L352.22 266.10 L353.24 266.08 L354.09 266.06" fill="none" stroke="#0000f5" stroke-width="2.55" stroke-linecap="butt" stroke-linejoin="round"/>
<path d="M90.45 374.62 L90.70 374.99 L90.95 375.37 L91.20 375.77 L91.44 376.18 L91.50 376.28 L91.69 376.61 L91.94 377.04 L92.19 377.49 L92.44 377.98 L92.55 378.21 L92.69 378.51 L92.93 379.07 L93.18 379.62 L93.43 380.14 L93.60 380.46 L93.68 380.60 L93.93 380.98 L94.18 381.31 L94.42 381.62 L94.65 381.89 L94.67 381.92 L94.70 381.95 M101.80 382.60 L101.88 382.52 L101.99 382.38 L102.13 382.21 L102.37 381.86 L102.62 381.44 L102.87 380.97 L103.04 380.52 L103.12 380.25 L103.37 379.21 L103.62 378.05 L103.86 376.90 L104.09 375.70 L104.11 375.57 L104.36 374.16 L104.61 372.87 L104.86 371.87 L104.86 371.86 M109.92 365.51 L110.07 365.39 L110.32 365.20 L110.39 365.15 L110.57 365.02 L110.82 364.85 L111.07 364.68 L111.32 364.52 L111.43 364.44 L111.57 364.36 L111.81 364.20 L112.06 364.05 L112.31 363.89 L112.48 363.79 L112.56 363.75 L112.81 363.60 L113.06 363.45 L113.30 363.31 L113.53 363.18 L113.55 363.17 L113.80 363.04 L114.05 362.90 L114.30 362.77 L114.55 362.64 L114.58 362.62 L114.79 362.51 L115.04 362.39 L115.29 362.27 L115.54 362.15 L115.63 362.10 L115.79 362.03 L116.04 361.91 L116.28 361.80 L116.53 361.68 L116.68 361.62 L116.78 361.57 L117.03 361.47 L117.28 361.36 L117.53 361.25 L117.73 361.17 L117.78 361.15 L118.02 361.05 L118.27 360.95 L118.52 360.85 L118.77 360.76 L118.78 360.75 L119.02 360.66 L119.27 360.57 L119.51 360.48 L119.76 360.39 L119.83 360.36 L119.92 360.33 M127.81 358.15 L128.22 358.05 L129.27 357.83 L130.32 357.62 L131.37 357.42 L132.42 357.22 L133.47 357.03 L134.52 356.84 L135.57 356.66 L136.62 356.47 L137.66 356.28 L138.71 356.08 L138.91 356.04 M146.93 354.30 L147.11 354.27 L148.16 354.06 L149.21 353.86 L150.26 353.67 L151.30 353.48 L152.35 353.30 L153.40 353.12 L154.45 352.94 L155.50 352.75 L156.55 352.57 L157.60 352.38 L158.05 352.29 M166.08 350.65 L167.04 350.44 L168.09 350.22 L169.14 349.99 L170.19 349.77 L171.24 349.54 L172.29 349.31 L173.34 349.08 L174.39 348.85 L175.44 348.62 L176.49 348.40 L177.13 348.26 M185.14 346.50 L185.93 346.35 L186.98 346.15 L188.03 345.95 L189.08 345.75 L190.13 345.56 L191.17 345.38 L192.22 345.20 L193.27 345.03 L194.32 344.86 L195.37 344.70 L196.27 344.58 M204.41 343.64 L204.81 343.59 L205.86 343.48 L206.91 343.36 L207.96 343.24 L209.01 343.12 L210.06 343.01 L211.11 342.89 L212.16 342.79 L213.21 342.69 L214.26 342.61 L215.31 342.54 L215.66 342.52 M223.85 342.20 L224.75 342.18 L225.80 342.18 L226.85 342.18 L227.90 342.18 L228.95 342.18 L230.00 342.18 L231.04 342.18 L232.09 342.18 L233.14 342.18 L234.19 342.18 L235.15 342.18 M243.35 342.22 L243.64 342.22 L244.68 342.23 L245.73 342.25 L246.78 342.27 L247.83 342.29 L248.88 342.30 L249.93 342.32 L250.98 342.34 L252.03 342.36 L253.08 342.38 L254.13 342.40 L254.65 342.41 M262.85 342.49 L263.57 342.49 L264.62 342.49 L265.67 342.49 L266.72 342.49 L267.77 342.49 L268.82 342.49 L269.87 342.49 L270.91 342.49 L271.96 342.49 L273.01 342.49 L274.06 342.49 L274.15 342.49 M282.35 342.49 L282.46 342.49 L283.51 342.49 L284.55 342.49 L285.60 342.49 L286.65 342.49 L287.70 342.49 L288.75 342.49 L289.80 342.49 L290.85 342.49 L291.90 342.49 L292.95 342.49 L293.65 342.49 M301.85 342.48 L302.39 342.48 L303.44 342.48 L304.49 342.47 L305.54 342.46 L306.59 342.46 L307.64 342.45 L308.69 342.44 L309.74 342.43 L310.78 342.42 L311.83 342.41 L312.88 342.40 L313.15 342.40 M321.35 342.29 L322.33 342.27 L323.38 342.24 L324.42 342.22 L325.47 342.19 L326.52 342.16 L327.57 342.13 L328.62 342.10 L329.67 342.06 L330.72 342.03 L331.77 341.99 L332.64 341.96 M340.84 341.66 L341.21 341.65 L342.26 341.60 L343.31 341.55 L344.36 341.50 L345.41 341.45 L346.46 341.40 L347.51 341.34 L348.56 341.28 L349.61 341.22 L350.66 341.15 L351.70 341.07 L352.12 341.04 M360.28 340.26 L361.15 340.16 L362.20 340.04" fill="none" stroke="#ffd000" stroke-width="2.40" stroke-linecap="butt" stroke-linejoin="round"/>
<path d="M90.45 374.93 L90.70 374.50 L90.95 374.00 L91.20 373.40 L91.44 372.69 L91.50 372.51 L91.69 371.88 L91.94 371.04 L92.19 370.18 L92.44 369.29 L92.55 368.88 L92.69 368.39 L92.93 367.48 L93.18 366.56 L93.43 365.64 L93.60 365.01 L93.68 364.72 L93.93 363.81 L94.18 362.90 L94.42 362.01 L94.65 361.22 L94.67 361.14 L94.92 360.30 L95.17 359.48 L95.42 358.68 L95.67 357.89 L95.70 357.78 L95.92 357.11 L96.16 356.32 L96.41 355.54 L96.66 354.75 L96.75 354.46 L96.91 353.97 L97.16 353.19 L97.41 352.41 L97.65 351.64 L97.80 351.17 L97.90 350.86 L98.15 350.09 L98.40 349.32 L98.65 348.54 L98.85 347.90 L98.90 347.77 L99.14 347.01 L99.39 346.24 L99.64 345.47 L99.89 344.71 L99.90 344.66 L100.14 343.94 L100.39 343.18 L100.63 342.42 L100.88 341.65 L100.96 341.43 L101.13 340.89 L101.38 340.14 L101.63 339.38 L101.88 338.63 L102.01 338.24 L102.13 337.88 L102.37 337.13 L102.62 336.39 L102.87 335.66 L103.06 335.11 L103.12 334.92 L103.37 334.20 L103.62 333.47 L103.86 332.76 L104.11 332.07 L104.11 332.05 L104.36 331.35 L104.61 330.65 L104.86 329.96 L105.11 329.28 L105.16 329.14 L105.35 328.61 L105.60 327.96 L105.85 327.34 L106.10 326.73 L106.21 326.48 L106.35 326.15 L106.60 325.59 L106.85 325.04 L107.09 324.51 L107.26 324.16 L107.34 323.99 L107.59 323.49 L107.84 323.00 L108.09 322.52 L108.31 322.11 L108.34 322.06 L108.58 321.60 L108.83 321.16 L109.08 320.72 L109.33 320.28 L109.36 320.23 L109.58 319.85 L109.83 319.43 L110.07 319.01 L110.32 318.59 L110.41 318.44 L110.57 318.17 L110.82 317.75 L111.07 317.33 L111.32 316.91 L111.46 316.66 L111.57 316.49 L111.81 316.07 L112.06 315.65 L112.31 315.24 L112.51 314.90 L112.56 314.83 L112.81 314.41 L113.06 314.01 L113.30 313.60 L113.55 313.20 L113.56 313.18 L113.80 312.80 L114.05 312.41 L114.30 312.02 L114.55 311.63 L114.61 311.53 L114.79 311.25 L115.04 310.87 L115.29 310.50 L115.54 310.14 L115.66 309.96 L115.79 309.78 L116.04 309.43 L116.28 309.08 L116.53 308.74 L116.71 308.50 L116.78 308.41 L117.03 308.08 L117.28 307.76 L117.53 307.45 L117.76 307.16 L117.78 307.15 L118.02 306.85 L118.27 306.55 L118.52 306.26 L118.77 305.97 L118.81 305.92 L119.02 305.68 L119.27 305.40 L119.51 305.11 L119.76 304.83 L119.87 304.72 L120.01 304.56 L120.26 304.28 L120.51 304.01 L120.76 303.74 L120.92 303.57 L121.00 303.48 L121.25 303.22 L121.50 302.96 L121.75 302.70 L121.97 302.48 L122.00 302.45 L122.25 302.20 L122.50 301.95 L122.74 301.71 L122.99 301.47 L123.02 301.45 L123.24 301.23 L123.49 301.00 L123.74 300.77 L123.99 300.55 L124.07 300.47 L124.23 300.33 L124.48 300.11 L124.73 299.89 L124.98 299.68 L125.12 299.57 L126.17 298.73 L127.22 297.97 L128.27 297.22 L129.32 296.48 L130.37 295.75 L131.42 295.03 L132.47 294.33 L133.52 293.63 L134.57 292.96 L135.62 292.30 L136.67 291.66 L137.72 291.04 L138.78 290.45 L139.83 289.89 L140.88 289.34 L141.93 288.80 L142.98 288.25 L144.03 287.71 L145.08 287.17 L146.13 286.64 L147.18 286.11 L148.23 285.58 L149.28 285.06 L150.33 284.55 L151.38 284.05 L152.43 283.55 L153.48 283.06 L154.53 282.58 L155.58 282.10 L156.63 281.62 L157.69 281.14 L158.74 280.67 L159.79 280.19 L160.84 279.72 L161.89 279.26 L162.94 278.79 L163.99 278.33 L165.04 277.88 L166.09 277.43 L167.14 276.99 L168.19 276.55 L169.24 276.12 L170.29 275.69 L171.34 275.27 L172.39 274.85 L173.44 274.43 L174.49 274.01 L175.54 273.60 L176.59 273.19 L177.65 272.78 L178.70 272.37 L179.75 271.97 L180.80 271.56 L181.85 271.17 L182.90 270.78 L183.95 270.40 L185.00 270.02 L186.05 269.65 L187.10 269.28 L188.15 268.92 L189.20 268.57 L190.25 268.22 L191.30 267.87 L192.35 267.53 L193.40 267.20 L194.45 266.88 L195.50 266.57 L196.56 266.27 L197.61 265.99 L198.66 265.73 L199.71 265.48 L200.76 265.25 L201.81 265.03 L202.86 264.83 L203.91 264.65 L204.96 264.49 L206.01 264.35 L207.06 264.23 L208.11 264.12 L209.16 264.01 L210.21 263.90 L211.26 263.81 L212.31 263.72 L213.36 263.64 L214.41 263.57 L215.47 263.50 L216.52 263.44 L217.57 263.38 L218.62 263.33 L219.67 263.29 L220.72 263.25 L221.77 263.22 L222.82 263.19 L223.87 263.16 L224.92 263.13 L225.97 263.10 L227.02 263.07 L228.07 263.05 L229.12 263.02 L230.17 262.98 L231.22 262.95 L232.27 262.91 L233.32 262.87 L234.37 262.83 L235.43 262.79 L236.48 262.75 L237.53 262.71 L238.58 262.66 L239.63 262.61 L240.68 262.56 L241.73 262.51 L242.78 262.45 L243.83 262.38 L244.88 262.31 L245.93 262.24 L246.98 262.15 L248.03 262.06 L249.08 261.96 L250.13 261.85 L251.18 261.73 L252.23 261.59 L253.28 261.44 L254.34 261.29 L255.39 261.12 L256.44 260.94 L257.49 260.76 L258.54 260.57 L259.59 260.38 L260.64 260.19 L261.69 260.00 L262.74 259.80 L263.79 259.61 L264.84 259.42 L265.89 259.23 L266.94 259.05 L267.99 258.87 L269.04 258.71 L270.09 258.55 L271.14 258.40 L272.19 258.26 L273.25 258.11 L274.30 257.96 L275.35 257.82 L276.40 257.67 L277.45 257.53 L278.50 257.38 L279.55 257.24 L280.60 257.10 L281.65 256.96 L282.70 256.82 L283.75 256.69 L284.80 256.55 L285.85 256.42 L286.90 256.29 L287.95 256.17 L289.00 256.04 L290.05 255.92 L291.10 255.81 L292.16 255.69 L293.21 255.58 L294.26 255.47 L295.31 255.36 L296.36 255.26 L297.41 255.15 L298.46 255.05 L299.51 254.94 L300.56 254.84 L301.61 254.74 L302.66 254.65 L303.71 254.55 L304.76 254.46 L305.81 254.36 L306.86 254.27 L307.91 254.19 L308.96 254.10 L310.01 254.01 L311.06 253.93 L312.12 253.85 L313.17 253.77 L314.22 253.69 L315.27 253.62 L316.32 253.54 L317.37 253.47 L318.42 253.40 L319.47 253.33 L320.52 253.25 L321.57 253.18 L322.62 253.11 L323.67 253.04 L324.72 252.97 L325.77 252.90 L326.82 252.83 L327.87 252.76 L328.92 252.68 L329.97 252.61 L331.03 252.53 L332.08 252.46 L333.13 252.38 L334.18 252.30 L335.23 252.22 L336.28 252.14 L337.33 252.06 L338.38 251.97 L339.43 251.89 L340.48 251.80 L341.53 251.71 L342.58 251.63 L343.63 251.54 L344.68 251.45 L345.73 251.35 L346.78 251.26 L347.83 251.17 L348.88 251.07 L349.94 250.97 L350.99 250.87 L352.04 250.77 L353.09 250.67 L354.14 250.56 L355.19 250.43 L356.24 250.29 L357.29 250.14 L358.34 249.99 L359.39 249.82 L360.44 249.65 L361.49 249.47 L362.54 249.29" fill="none" stroke="#ff0000" stroke-width="2.55" stroke-linecap="butt" stroke-linejoin="miter"/>
</g>
<path d="M107.71 219.22 v6.50 M107.71 393.29 v-6.50 M124.98 219.22 v6.50 M124.98 393.29 v-6.50 M142.24 219.22 v6.50 M142.24 393.29 v-6.50 M159.51 219.22 v13.00 M159.51 393.29 v-13.00 M176.77 219.22 v6.50 M176.77 393.29 v-6.50 M194.04 219.22 v6.50 M194.04 393.29 v-6.50 M211.30 219.22 v6.50 M211.30 393.29 v-6.50 M228.57 219.22 v13.00 M228.57 393.29 v-13.00 M245.83 219.22 v6.50 M245.83 393.29 v-6.50 M263.10 219.22 v6.50 M263.10 393.29 v-6.50 M280.36 219.22 v6.50 M280.36 393.29 v-6.50 M297.63 219.22 v13.00 M297.63 393.29 v-13.00 M314.89 219.22 v6.50 M314.89 393.29 v-6.50 M332.16 219.22 v6.50 M332.16 393.29 v-6.50 M349.42 219.22 v6.50 M349.42 393.29 v-6.50 M366.69 219.22 v13.00 M366.69 393.29 v-13.00 M383.95 219.22 v6.50 M383.95 393.29 v-6.50 M90.45 385.38 h5.90 M383.95 385.38 h-5.90 M90.45 377.47 h12.00 M383.95 377.47 h-12.00 M90.45 369.55 h5.90 M383.95 369.55 h-5.90 M90.45 361.64 h5.90 M383.95 361.64 h-5.90 M90.45 353.73 h5.90 M383.95 353.73 h-5.90 M90.45 345.82 h12.00 M383.95 345.82 h-12.00 M90.45 337.90 h5.90 M383.95 337.90 h-5.90 M90.45 329.99 h5.90 M383.95 329.99 h-5.90 M90.45 322.08 h5.90 M383.95 322.08 h-5.90 M90.45 314.17 h12.00 M383.95 314.17 h-12.00 M90.45 306.25 h5.90 M383.95 306.25 h-5.90 M90.45 298.34 h5.90 M383.95 298.34 h-5.90 M90.45 290.43 h5.90 M383.95 290.43 h-5.90 M90.45 282.52 h12.00 M383.95 282.52 h-12.00 M90.45 274.61 h5.90 M383.95 274.61 h-5.90 M90.45 266.69 h5.90 M383.95 266.69 h-5.90 M90.45 258.78 h5.90 M383.95 258.78 h-5.90 M90.45 250.87 h12.00 M383.95 250.87 h-12.00 M90.45 242.96 h5.90 M383.95 242.96 h-5.90 M90.45 235.04 h5.90 M383.95 235.04 h-5.90 M90.45 227.13 h5.90 M383.95 227.13 h-5.90" stroke="#000" stroke-width="1.05" fill="none"/>
<rect x="90.45" y="219.22" width="293.50" height="174.07" fill="none" stroke="#000" stroke-width="1.05"/>
<text x="99.25" y="250.42" class="t">min</text>
<path d="M90.45 551.54 H383.95" stroke="#000" stroke-width="1.1" fill="none" stroke-dasharray="11.3 3.85 2.5 3.9" stroke-dashoffset="15.5"/>
<path d="M90.45 540.46 V549.95 M87.25 540.46 h6.4 M87.25 549.95 h6.4 M93.21 540.46 V549.95 M90.01 540.46 h6.4 M90.01 549.95 h6.4 M96.15 534.13 V549.95 M92.95 534.13 h6.4 M92.95 549.95 h6.4 M99.60 521.31 V543.46 M96.40 521.31 h6.4 M96.40 543.46 h6.4 M96.84 513.56 V523.05 M93.64 513.56 h6.4 M93.64 523.05 h6.4 M98.39 501.21 V511.34 M95.19 501.21 h6.4 M95.19 511.34 h6.4 M101.50 502.48 V511.97 M98.30 502.48 h6.4 M98.30 511.97 h6.4 M103.23 509.92 V522.58 M100.03 509.92 h6.4 M100.03 522.58 h6.4 M104.95 507.23 V516.72 M101.75 507.23 h6.4 M101.75 516.72 h6.4 M106.33 492.67 V508.49 M103.13 492.67 h6.4 M103.13 508.49 h6.4 M112.20 500.42 V521.94 M109.00 500.42 h6.4 M109.00 521.94 h6.4 M114.28 525.82 V539.75 M111.08 525.82 h6.4 M111.08 539.75 h6.4 M117.73 507.38 V518.46 M114.53 507.38 h6.4 M114.53 518.46 h6.4 M116.00 493.46 V506.12 M112.80 493.46 h6.4 M112.80 506.12 h6.4 M113.93 489.50 V502.16 M110.73 489.50 h6.4 M110.73 502.16 h6.4 M117.21 484.76 V494.25 M114.01 484.76 h6.4 M114.01 494.25 h6.4 M120.15 477.79 V490.45 M116.95 477.79 h6.4 M116.95 490.45 h6.4 M122.91 473.36 V487.61 M119.71 473.36 h6.4 M119.71 487.61 h6.4 M125.32 468.61 V485.38 M122.12 468.61 h6.4 M122.12 485.38 h6.4 M128.02 458.52 V488.27 M124.82 458.52 h6.4 M124.82 488.27 h6.4 M131.19 461.02 V478.43 M127.99 461.02 h6.4 M127.99 478.43 h6.4 M134.51 435.89 V499.19 M131.31 435.89 h6.4 M131.31 499.19 h6.4 M137.24 429.68 V501.84 M134.04 429.68 h6.4 M134.04 501.84 h6.4 M140.52 438.53 V488.85 M137.32 438.53 h6.4 M137.32 488.85 h6.4 M143.63 449.97 V473.71 M140.43 449.97 h6.4 M140.43 473.71 h6.4 M146.39 450.51 V470.13 M143.19 450.51 h6.4 M143.19 470.13 h6.4 M149.50 450.71 V468.44 M146.30 450.71 h6.4 M146.30 468.44 h6.4 M152.60 450.45 V468.17 M149.40 450.45 h6.4 M149.40 468.17 h6.4 M155.71 451.05 V468.77 M152.51 451.05 h6.4 M152.51 468.77 h6.4 M158.82 451.83 V469.55 M155.62 451.83 h6.4 M155.62 469.55 h6.4 M161.75 453.09 V470.81 M158.55 453.09 h6.4 M158.55 470.81 h6.4 M164.69 454.49 V472.21 M161.49 454.49 h6.4 M161.49 472.21 h6.4 M167.62 457.12 V472.95 M164.42 457.12 h6.4 M164.42 472.95 h6.4 M170.56 459.58 V475.41 M167.36 459.58 h6.4 M167.36 475.41 h6.4 M173.49 462.92 V478.74 M170.29 462.92 h6.4 M170.29 478.74 h6.4 M176.77 457.54 V473.36 M173.57 457.54 h6.4 M173.57 473.36 h6.4 M179.71 443.93 V459.75 M176.51 443.93 h6.4 M176.51 459.75 h6.4 M182.82 439.32 V455.14 M179.62 439.32 h6.4 M179.62 455.14 h6.4 M186.10 432.08 V447.90 M182.90 432.08 h6.4 M182.90 447.90 h6.4 M189.38 428.19 V444.01 M186.18 428.19 h6.4 M186.18 444.01 h6.4 M192.66 423.83 V439.65 M189.46 423.83 h6.4 M189.46 439.65 h6.4 M195.94 419.22 V435.04 M192.74 419.22 h6.4 M192.74 435.04 h6.4 M199.22 418.61 V434.43 M196.02 418.61 h6.4 M196.02 434.43 h6.4 M202.50 422.09 V437.92 M199.30 422.09 h6.4 M199.30 437.92 h6.4 M205.78 425.41 V441.23 M202.58 425.41 h6.4 M202.58 441.23 h6.4 M209.06 427.05 V444.46 M205.86 427.05 h6.4 M205.86 444.46 h6.4 M212.34 428.90 V446.30 M209.14 428.90 h6.4 M209.14 446.30 h6.4 M215.62 430.14 V447.54 M212.42 430.14 h6.4 M212.42 447.54 h6.4 M218.90 411.82 V467.21 M215.70 411.82 h6.4 M215.70 467.21 h6.4 M222.01 415.13 V464.18 M218.81 415.13 h6.4 M218.81 464.18 h6.4 M225.81 424.25 V454.63 M222.61 424.25 h6.4 M222.61 454.63 h6.4 M229.26 411.75 V465.55 M226.06 411.75 h6.4 M226.06 465.55 h6.4 M239.27 430.95 V448.68 M236.07 430.95 h6.4 M236.07 448.68 h6.4 M249.29 428.90 V446.62 M246.09 428.90 h6.4 M246.09 446.62 h6.4 M256.54 425.73 V443.14 M253.34 425.73 h6.4 M253.34 443.14 h6.4 M266.55 424.31 V441.71 M263.35 424.31 h6.4 M263.35 441.71 h6.4 M275.18 423.20 V440.29 M271.98 423.20 h6.4 M271.98 440.29 h6.4 M284.51 420.82 V437.92 M281.31 420.82 h6.4 M281.31 437.92 h6.4 M292.45 420.82 V437.92 M289.25 420.82 h6.4 M289.25 437.92 h6.4 M300.73 421.77 V438.86 M297.53 421.77 h6.4 M297.53 438.86 h6.4 M309.37 419.56 V436.65 M306.17 419.56 h6.4 M306.17 436.65 h6.4 M318.34 417.03 V434.43 M315.14 417.03 h6.4 M315.14 434.43 h6.4 M326.98 418.77 V431.11 M323.78 418.77 h6.4 M323.78 431.11 h6.4 M336.47 417.03 V429.37 M333.27 417.03 h6.4 M333.27 429.37 h6.4 M345.97 415.44 V427.47 M342.77 415.44 h6.4 M342.77 427.47 h6.4 M353.56 411.80 V424.46 M350.36 411.80 h6.4 M350.36 424.46 h6.4 M362.20 417.03 V424.94 M359.00 417.03 h6.4 M359.00 424.94 h6.4" stroke="#000" stroke-width="1.05" fill="none"/>
<circle cx="90.45" cy="545.21" r="3.1" fill="#000"/>
<circle cx="93.21" cy="545.21" r="3.1" fill="#000"/>
<circle cx="96.15" cy="542.04" r="3.1" fill="#000"/>
<circle cx="99.60" cy="532.39" r="3.1" fill="#000"/>
<circle cx="96.84" cy="518.30" r="3.1" fill="#000"/>
<circle cx="98.39" cy="506.28" r="3.1" fill="#000"/>
<circle cx="101.50" cy="507.23" r="3.1" fill="#000"/>
<circle cx="103.23" cy="516.25" r="3.1" fill="#000"/>
<circle cx="104.95" cy="511.97" r="3.1" fill="#000"/>
<circle cx="106.33" cy="500.58" r="3.1" fill="#000"/>
<circle cx="112.20" cy="511.18" r="3.1" fill="#000"/>
<circle cx="114.28" cy="532.78" r="3.1" fill="#000"/>
<circle cx="117.73" cy="512.92" r="3.1" fill="#000"/>
<circle cx="116.00" cy="499.79" r="3.1" fill="#000"/>
<circle cx="113.93" cy="495.83" r="3.1" fill="#000"/>
<circle cx="117.21" cy="489.50" r="3.1" fill="#000"/>
<circle cx="120.15" cy="484.12" r="3.1" fill="#000"/>
<circle cx="122.91" cy="480.48" r="3.1" fill="#000"/>
<circle cx="125.32" cy="476.99" r="3.1" fill="#000"/>
<circle cx="128.02" cy="473.39" r="3.1" fill="#000"/>
<circle cx="131.19" cy="469.72" r="3.1" fill="#000"/>
<circle cx="134.51" cy="467.54" r="3.1" fill="#000"/>
<circle cx="137.24" cy="465.76" r="3.1" fill="#000"/>
<circle cx="140.52" cy="463.69" r="3.1" fill="#000"/>
<circle cx="143.63" cy="461.84" r="3.1" fill="#000"/>
<circle cx="146.39" cy="460.32" r="3.1" fill="#000"/>
<circle cx="149.50" cy="459.58" r="3.1" fill="#000"/>
<circle cx="152.60" cy="459.31" r="3.1" fill="#000"/>
<circle cx="155.71" cy="459.91" r="3.1" fill="#000"/>
<circle cx="158.82" cy="460.69" r="3.1" fill="#000"/>
<circle cx="161.75" cy="461.95" r="3.1" fill="#000"/>
<circle cx="164.69" cy="463.35" r="3.1" fill="#000"/>
<circle cx="167.62" cy="465.03" r="3.1" fill="#000"/>
<circle cx="170.56" cy="467.49" r="3.1" fill="#000"/>
<circle cx="173.49" cy="470.83" r="3.1" fill="#000"/>
<circle cx="176.77" cy="465.45" r="3.1" fill="#000"/>
<circle cx="179.71" cy="451.84" r="3.1" fill="#000"/>
<circle cx="182.82" cy="447.23" r="3.1" fill="#000"/>
<circle cx="186.10" cy="439.99" r="3.1" fill="#000"/>
<circle cx="189.38" cy="436.10" r="3.1" fill="#000"/>
<circle cx="192.66" cy="431.74" r="3.1" fill="#000"/>
<circle cx="195.94" cy="427.13" r="3.1" fill="#000"/>
<circle cx="199.22" cy="426.52" r="3.1" fill="#000"/>
<circle cx="202.50" cy="430.00" r="3.1" fill="#000"/>
<circle cx="205.78" cy="433.32" r="3.1" fill="#000"/>
<circle cx="209.06" cy="435.76" r="3.1" fill="#000"/>
<circle cx="212.34" cy="437.60" r="3.1" fill="#000"/>
<circle cx="215.62" cy="438.84" r="3.1" fill="#000"/>
<circle cx="218.90" cy="439.52" r="3.1" fill="#000"/>
<circle cx="222.01" cy="439.66" r="3.1" fill="#000"/>
<circle cx="225.81" cy="439.44" r="3.1" fill="#000"/>
<circle cx="229.26" cy="438.65" r="3.1" fill="#000"/>
<circle cx="239.27" cy="439.81" r="3.1" fill="#000"/>
<circle cx="249.29" cy="437.76" r="3.1" fill="#000"/>
<circle cx="256.54" cy="434.43" r="3.1" fill="#000"/>
<circle cx="266.55" cy="433.01" r="3.1" fill="#000"/>
<circle cx="275.18" cy="431.74" r="3.1" fill="#000"/>
<circle cx="284.51" cy="429.37" r="3.1" fill="#000"/>
<circle cx="292.45" cy="429.37" r="3.1" fill="#000"/>
<circle cx="300.73" cy="430.32" r="3.1" fill="#000"/>
<circle cx="309.37" cy="428.10" r="3.1" fill="#000"/>
<circle cx="318.34" cy="425.73" r="3.1" fill="#000"/>
<circle cx="326.98" cy="424.94" r="3.1" fill="#000"/>
<circle cx="336.47" cy="423.20" r="3.1" fill="#000"/>
<circle cx="345.97" cy="421.46" r="3.1" fill="#000"/>
<circle cx="353.56" cy="418.13" r="3.1" fill="#000"/>
<circle cx="362.20" cy="420.98" r="3.1" fill="#000"/>
<g clip-path="url(#c02)">
<path d="M91.63 550.60 L91.69 550.59 L91.76 550.58 L91.94 550.55 L92.19 550.52 L92.20 550.52 L92.44 550.49 L92.64 550.46 L92.69 550.45 L92.93 550.42 L93.07 550.40 L93.18 550.38 L93.43 550.34 L93.51 550.33 L93.68 550.30 L93.93 550.25 L93.95 550.24 L94.00 550.23 M97.69 549.55 L97.88 549.53 L97.90 549.53 L98.15 549.51 L98.32 549.50 L98.40 549.49 L98.65 549.48 L98.76 549.48 L98.90 549.48 L99.14 549.48 L99.20 549.48 L99.39 549.48 L99.63 549.48 L99.64 549.48 L99.89 549.49 L100.07 549.49 L100.08 549.49 M103.83 549.71 L103.86 549.72 L104.01 549.73 L104.11 549.74 L104.36 549.77 L104.44 549.78 L104.61 549.80 L104.86 549.83 L104.88 549.84 L105.11 549.89 L105.32 549.95 L105.35 549.97 L105.60 550.06 L105.75 550.12 L105.85 550.16 L106.10 550.28 L106.13 550.30 M109.01 552.67 L109.08 552.72 L109.25 552.83 L109.33 552.88 L109.58 553.02 L109.69 553.07 L109.83 553.13 L110.07 553.24 L110.13 553.26 L110.32 553.34 L110.57 553.43 L110.57 553.43 L110.82 553.52 L111.00 553.58 L111.07 553.61 L111.19 553.65 M114.82 554.61 L114.94 554.63 L115.04 554.66 L115.29 554.71 L115.38 554.73 L115.54 554.77 L115.79 554.83 L115.81 554.83 L116.04 554.88 L116.25 554.94 L116.28 554.94 L116.53 555.01 L116.69 555.04 L116.78 555.07 L117.03 555.13 L117.12 555.16 L117.15 555.16 M120.82 555.91 L121.00 555.93 L121.06 555.93 L121.25 555.95 L121.50 555.96 L121.50 555.96 L121.75 555.97 L121.93 555.97 L122.00 555.97 L122.25 555.96 L122.37 555.95 L122.50 555.95 L122.74 555.93 L122.81 555.93 L122.99 555.91 L123.22 555.89 M126.91 555.23 L127.18 555.17 L127.62 555.09 L128.06 555.02 L128.49 554.95 L128.93 554.88 L129.27 554.83 M132.97 554.23 L133.30 554.18 L133.74 554.12 L134.18 554.06 L134.62 554.01 L135.05 553.96 L135.35 553.92 M139.08 553.51 L139.43 553.48 L139.86 553.46 L140.30 553.44 L140.74 553.43 L141.17 553.44 L141.48 553.47 M145.09 554.46 L145.11 554.47 L145.55 554.59 L145.99 554.69 L146.42 554.77 L146.86 554.83 L147.30 554.88 L147.44 554.90 M151.18 555.26 L151.23 555.27 L151.67 555.29 L152.11 555.31 L152.54 555.32 L152.98 555.33 L153.42 555.33 L153.57 555.32 M157.13 554.22 L157.35 554.12 L157.79 553.90 L158.23 553.63 L158.67 553.27 L159.09 552.87 M161.19 549.78 L161.29 549.59 L161.73 548.77 L162.16 548.09 L162.47 547.77 M165.66 545.84 L166.10 545.65 L166.54 545.47 L166.97 545.28 L167.41 545.08 L167.85 544.86 L167.85 544.86 M171.23 543.22 L171.35 543.17 L171.78 542.96 L172.22 542.74 L172.66 542.53 L173.10 542.31 L173.38 542.17 M176.70 540.42 L177.03 540.24 L177.47 540.00 L177.91 539.77 L178.34 539.54 L178.78 539.31 L178.82 539.29 M182.18 537.62 L182.28 537.57 L182.72 537.35 L183.15 537.14 L183.59 536.92 L184.03 536.70 L184.33 536.56 M187.67 534.86 L187.96 534.70 L188.40 534.48 L188.84 534.25 L189.28 534.02 L189.71 533.78 L189.79 533.74 M193.04 531.87 L193.21 531.76 L193.65 531.51 L194.09 531.25 L194.52 530.99 L194.96 530.74 L195.12 530.66 M198.40 528.85 L198.46 528.82 L198.90 528.59 L199.33 528.37 L199.77 528.16 L200.21 527.95 L200.56 527.80" fill="none" stroke="#00ff00" stroke-width="2.60" stroke-linecap="butt" stroke-linejoin="round"/>
<path d="M206.62 525.56 L206.74 525.54 L207.35 525.41 L207.95 525.29 L208.56 525.17 L208.97 525.09 M212.69 524.67 L212.81 524.67 L213.41 524.67 L214.02 524.68 L214.63 524.70 L215.09 524.71 M218.84 524.89 L218.87 524.89 L219.48 524.92 L220.08 524.95 L220.69 524.97 L221.23 525.00 M224.98 525.22 L225.54 525.27 L226.15 525.35 L226.76 525.45 L227.35 525.57 M230.99 526.48 L231.00 526.48 L231.61 526.62 L232.22 526.76 L232.82 526.91 L233.32 527.04 M236.98 527.86 L237.07 527.87 L237.68 527.94 L238.28 528.00 L238.89 528.05 L239.37 528.09 M243.11 528.29 L243.14 528.29 L243.74 528.29 L244.35 528.28 L244.96 528.26 L245.51 528.24 M249.25 527.98 L249.81 527.94 L250.41 527.89 L251.02 527.83 L251.63 527.76 L251.64 527.76 M255.35 527.22 L255.87 527.14 L256.48 527.04 L257.09 526.93 L257.69 526.82 L257.72 526.81 M261.39 526.04 L261.94 525.93 L262.55 525.80 L263.15 525.67 L263.73 525.55 M267.40 524.74 L267.40 524.74 L268.01 524.59 L268.61 524.43 L269.22 524.26 L269.71 524.11 M273.28 522.95 L273.47 522.89 L274.07 522.70 L274.68 522.52 L275.29 522.35 L275.58 522.27 M279.20 521.31 L279.53 521.22 L280.14 521.06 L280.74 520.89 L281.35 520.72 L281.52 520.68 M285.13 519.67 L285.60 519.53 L286.20 519.36 L286.81 519.19 L287.42 519.01 L287.44 519.00 M291.03 517.92 L291.06 517.91 L291.66 517.74 L292.27 517.56 L292.88 517.39 L293.34 517.27 M296.96 516.30 L297.12 516.25 L297.73 516.10 L298.34 515.94 L298.94 515.78 L299.28 515.69 M302.91 514.74 L303.19 514.67 L303.80 514.52 L304.40 514.38 L305.01 514.24 L305.24 514.19 M308.92 513.44 L309.25 513.37 L309.86 513.24 L310.47 513.11 L311.07 512.96 L311.26 512.92 M314.89 511.95 L315.32 511.84 L315.93 511.68 L316.53 511.52 L317.14 511.37 L317.21 511.35 M320.85 510.46 L321.39 510.33 L321.99 510.19 L322.60 510.05 L323.19 509.91 M326.84 509.06 L326.85 509.06 L327.45 508.93 L328.06 508.81 L328.67 508.69 L329.19 508.59 M332.90 508.02 L332.91 508.02 L333.52 507.93 L334.12 507.84 L334.73 507.73 L335.27 507.64 M338.94 506.89 L338.98 506.88 L339.58 506.75 L340.19 506.63 L340.80 506.50 L341.29 506.40 M344.97 505.68 L345.04 505.66 L345.65 505.55 L346.26 505.44 L346.86 505.33 L347.33 505.25 M351.05 504.73 L351.11 504.73 L351.72 504.64 L352.32 504.54 L352.93 504.43 L353.41 504.34 M357.02 503.30 L357.18 503.25 L357.78 503.04 L358.39 502.83 L359.00 502.62 L359.29 502.53" fill="none" stroke="#00ff00" stroke-width="2.60" stroke-linecap="butt" stroke-linejoin="round"/>
<path d="M91.37 547.13 L91.44 546.92 L91.48 546.80 L91.69 546.12 L91.94 545.28 L92.19 544.43 L92.44 543.56 L92.52 543.27 L92.69 542.67 L92.93 541.77 L93.18 540.87 L93.43 539.97 L93.55 539.53 L93.68 539.06 L93.93 538.16 L94.18 537.27 L94.42 536.39 L94.58 535.84 L94.67 535.53 L94.92 534.68 L95.17 533.86 L95.42 533.07 L95.62 532.43 L95.67 532.27 L95.92 531.48 L96.16 530.69 L96.41 529.91 L96.65 529.16 L96.66 529.12 L96.91 528.34 L97.16 527.56 L97.41 526.78 L97.65 526.00 L97.68 525.91 L97.90 525.23 L98.15 524.45 L98.40 523.68 L98.65 522.92 L98.72 522.71 L98.90 522.15 L99.14 521.39 L99.27 521.00 M102.06 512.65 L102.13 512.45 L102.37 511.73 L102.62 511.02 L102.85 510.37 L102.87 510.31 L103.12 509.61 L103.37 508.92 L103.62 508.23 L103.86 507.56 L103.88 507.51 L104.11 506.88 L104.36 506.22 L104.61 505.57 L104.86 504.92 L104.92 504.77 L105.11 504.28 L105.35 503.66 L105.60 503.05 L105.85 502.46 L105.95 502.24 L106.10 501.89 L106.35 501.34 L106.60 500.81 L106.85 500.29 L106.98 500.01 L107.09 499.78 L107.34 499.30 L107.59 498.82 L107.84 498.36 L108.01 498.05 L108.09 497.92 L108.34 497.49 L108.58 497.07 L108.83 496.66 L109.05 496.31 L109.08 496.26 L109.33 495.88 L109.58 495.50 L109.83 495.14 L110.07 494.78 L110.08 494.77 L110.32 494.43 L110.57 494.09 L110.82 493.76 L111.07 493.43 L111.11 493.37 L111.32 493.11 L111.57 492.78 L111.81 492.46 L112.06 492.14 L112.15 492.03 L112.31 491.82 L112.56 491.50 L112.81 491.18 L113.06 490.86 L113.18 490.70 L113.30 490.55 L113.55 490.24 L113.80 489.93 L114.05 489.62 L114.21 489.42 L114.30 489.31 L114.55 489.01 L114.76 488.75 M120.73 482.28 L120.76 482.26 L121.00 482.00 L121.25 481.75 L121.45 481.55 L121.50 481.50 L121.75 481.25 L122.00 481.00 L122.25 480.75 L122.48 480.51 L122.50 480.50 L122.74 480.25 L122.99 480.00 L123.24 479.76 L123.49 479.51 L123.51 479.49 L123.74 479.27 L123.99 479.02 L124.23 478.78 L124.48 478.53 L124.55 478.47 L124.73 478.29 L124.98 478.05 L125.58 477.47 L126.61 476.49 L127.65 475.53 L128.68 474.58 L129.71 473.65 L130.75 472.74 L131.78 471.87 L132.81 471.03 L133.85 470.24 L134.88 469.49 L135.91 468.80 L136.94 468.16 L137.98 467.56 L139.01 467.00 L140.04 466.48 L141.08 465.99 L142.06 465.56 M150.50 463.11 L151.41 462.92 L152.44 462.70 L153.48 462.47 L154.51 462.25 L155.54 462.03 L156.58 461.81 L157.61 461.59 L158.64 461.38 L159.68 461.16 L160.71 460.94 L161.74 460.73 L162.78 460.51 L163.81 460.30 L164.84 460.08 L165.87 459.87 L166.91 459.65 L167.94 459.44 L168.97 459.23 L170.01 459.01 L171.04 458.80 L172.07 458.58 L173.11 458.37 L174.14 458.16 L175.17 457.94 L176.21 457.73 L177.22 457.52 M185.83 455.71 L186.54 455.58 L187.57 455.39 L188.61 455.21 L189.64 455.04 L190.67 454.89 L191.71 454.74 L192.74 454.61 L193.77 454.48 L194.80 454.36 L195.84 454.25 L196.87 454.14 L197.90 454.05 L198.94 453.95 L199.97 453.86 L201.00 453.78 L202.04 453.70 L203.07 453.63 L204.10 453.55 L205.14 453.48 L206.17 453.41 L207.20 453.34 L208.24 453.28 L209.27 453.21 L210.30 453.14 L211.34 453.07 L212.37 453.00 L212.97 452.95 M221.75 452.34 L222.70 452.26 L223.73 452.18 L224.77 452.10 L225.80 452.02 L226.83 451.94 L227.87 451.85 L228.90 451.77 L229.93 451.68 L230.97 451.60 L232.00 451.50 L233.03 451.40 L234.07 451.29 L235.10 451.18 L236.13 451.06 L237.17 450.95 L238.20 450.84 L239.23 450.73 L240.27 450.63 L241.30 450.53 L242.33 450.44 L243.37 450.35 L244.40 450.28 L245.43 450.22 L246.47 450.18 L247.50 450.14 L248.53 450.11 L248.95 450.10 M257.75 449.94 L257.83 449.93 L258.86 449.89 L259.90 449.85 L260.93 449.81 L261.96 449.77 L263.00 449.73 L264.03 449.68 L265.06 449.64 L266.10 449.59 L267.13 449.55 L268.16 449.50 L269.20 449.45 L270.23 449.41 L271.26 449.36 L272.30 449.32 L273.33 449.27 L274.36 449.23 L275.40 449.18 L276.43 449.14 L277.46 449.10 L278.50 449.06 L279.53 449.02 L280.56 448.98 L281.59 448.95 L282.63 448.91 L283.66 448.88 L284.69 448.85 L285.03 448.84 M293.83 448.68 L293.99 448.67 L295.03 448.65 L296.06 448.62 L297.09 448.59 L298.13 448.56 L299.16 448.53 L300.19 448.50 L301.23 448.47 L302.26 448.44 L303.29 448.40 L304.33 448.37 L305.36 448.34 L306.39 448.31 L307.43 448.27 L308.46 448.24 L309.49 448.21 L310.53 448.17 L311.56 448.14 L312.59 448.11 L313.62 448.08 L314.66 448.05 L315.69 448.02 L316.72 447.99 L317.76 447.96 L318.79 447.94 L319.82 447.91 L320.86 447.89 L321.11 447.89 M329.91 447.80 L330.16 447.80 L331.19 447.78 L332.22 447.76 L333.26 447.73 L334.29 447.71 L335.32 447.69 L336.36 447.67 L337.39 447.64 L338.42 447.62 L339.46 447.60 L340.49 447.57 L341.52 447.55 L342.55 447.52 L343.59 447.50 L344.62 447.47 L345.65 447.45 L346.69 447.42 L347.72 447.39 L348.75 447.36 L349.79 447.34 L350.82 447.31 L351.85 447.28 L352.89 447.25 L353.92 447.22 L354.95 447.19 L355.99 447.16 L357.02 447.13 L357.21 447.12" fill="none" stroke="#0000f5" stroke-width="2.55" stroke-linecap="butt" stroke-linejoin="round"/>
<path d="M90.45 549.16 L90.70 549.73 L90.95 550.30 L91.20 550.87 L91.44 551.44 L91.49 551.55 L91.69 552.01 L91.94 552.58 L92.19 553.15 L92.44 553.73 L92.54 553.98 L92.69 554.34 L92.93 554.96 L93.18 555.57 L93.43 556.17 L93.58 556.52 L93.68 556.74 L93.93 557.26 L94.18 557.74 L94.42 558.16 L94.63 558.50 L94.64 558.52 M100.58 563.32 L100.63 563.27 L100.88 562.95 L100.89 562.94 L101.13 562.54 L101.38 562.06 L101.63 561.52 L101.88 560.95 L101.93 560.80 L102.13 560.15 L102.37 559.06 L102.62 557.76 L102.87 556.34 L102.98 555.67 L103.12 554.61 L103.37 552.59 L103.38 552.51 M104.42 544.37 L104.61 543.46 L104.86 542.72 L105.06 542.17 L105.11 542.06 L105.35 541.49 L105.60 540.98 L105.85 540.53 L106.10 540.12 L106.11 540.11 L106.35 539.76 L106.60 539.41 L106.85 539.09 L107.09 538.77 L107.15 538.69 L107.34 538.44 L107.59 538.10 L107.84 537.75 L108.09 537.40 L108.20 537.25 L108.34 537.06 L108.58 536.73 L108.83 536.42 L109.08 536.11 L109.24 535.91 L109.33 535.81 L109.58 535.51 L109.83 535.22 L110.07 534.94 L110.18 534.82 M115.95 529.02 L116.04 528.96 L116.28 528.79 L116.53 528.62 L116.55 528.61 L116.78 528.46 L117.03 528.30 L117.28 528.13 L117.53 527.98 L117.59 527.94 L117.78 527.82 L118.02 527.67 L118.27 527.52 L118.52 527.37 L118.63 527.30 L118.77 527.22 L119.02 527.08 L119.27 526.93 L119.51 526.79 L119.68 526.70 L119.76 526.66 L120.01 526.52 L120.26 526.39 L120.51 526.26 L120.72 526.15 L120.76 526.13 L121.00 526.01 L121.25 525.88 L121.50 525.76 L121.75 525.64 L121.77 525.64 L122.00 525.53 L122.25 525.41 L122.50 525.30 L122.74 525.20 L122.81 525.17 L122.99 525.09 L123.24 524.99 L123.49 524.88 L123.74 524.79 L123.85 524.74 L123.99 524.69 L124.23 524.60 L124.48 524.51 L124.73 524.42 L124.90 524.36 L124.98 524.33 L125.94 524.02 L126.02 524.00 M134.03 522.23 L134.29 522.17 L135.34 521.90 L136.38 521.61 L137.42 521.32 L138.47 521.03 L139.51 520.73 L140.56 520.44 L141.60 520.15 L142.64 519.88 L143.69 519.62 L144.73 519.38 L144.95 519.34 M153.03 517.95 L153.08 517.94 L154.13 517.73 L155.17 517.49 L156.21 517.25 L157.26 516.99 L158.30 516.71 L159.35 516.43 L160.39 516.14 L161.43 515.85 L162.48 515.55 L163.52 515.25 L163.97 515.13 M171.83 512.80 L171.87 512.78 L172.92 512.50 L173.96 512.22 L175.00 511.96 L176.05 511.70 L177.09 511.44 L178.14 511.18 L179.18 510.92 L180.22 510.65 L181.27 510.37 L182.31 510.07 L182.76 509.93 M190.45 507.11 L190.66 507.04 L191.71 506.73 L192.75 506.41 L193.79 506.10 L194.84 505.81 L195.88 505.52 L196.93 505.25 L197.97 504.99 L199.01 504.74 L200.06 504.52 L201.10 504.32 L201.38 504.27 M209.51 503.16 L210.50 503.05 L211.54 502.94 L212.58 502.82 L213.63 502.71 L214.67 502.60 L215.72 502.50 L216.76 502.40 L217.80 502.31 L218.85 502.23 L219.89 502.16 L220.76 502.11 M228.95 501.85 L229.29 501.85 L230.33 501.85 L231.37 501.85 L232.42 501.85 L233.46 501.85 L234.51 501.85 L235.55 501.85 L236.59 501.85 L237.64 501.85 L238.68 501.85 L239.73 501.85 L240.25 501.85 M248.45 501.85 L249.12 501.86 L250.16 501.86 L251.21 501.86 L252.25 501.86 L253.30 501.87 L254.34 501.87 L255.38 501.87 L256.43 501.87 L257.47 501.88 L258.51 501.88 L259.56 501.88 L259.75 501.88 M267.95 501.91 L268.95 501.91 L270.00 501.91 L271.04 501.91 L272.09 501.92 L273.13 501.92 L274.17 501.92 L275.22 501.92 L276.26 501.92 L277.30 501.92 L278.35 501.92 L279.25 501.93 M287.45 501.92 L287.74 501.92 L288.79 501.92 L289.83 501.92 L290.88 501.92 L291.92 501.92 L292.96 501.91 L294.01 501.91 L295.05 501.91 L296.09 501.91 L297.14 501.91 L298.18 501.90 L298.75 501.90 M306.95 501.88 L307.58 501.88 L308.62 501.87 L309.67 501.87 L310.71 501.86 L311.75 501.86 L312.80 501.86 L313.84 501.85 L314.88 501.85 L315.93 501.84 L316.97 501.83 L318.02 501.82 L318.25 501.81 M326.45 501.63 L327.41 501.60 L328.45 501.57 L329.50 501.53 L330.54 501.50 L331.59 501.47 L332.63 501.44 L333.67 501.40 L334.72 501.36 L335.76 501.33 L336.81 501.28 L337.74 501.24 M345.93 500.82 L346.20 500.80 L347.24 500.73 L348.29 500.66 L349.33 500.58 L350.38 500.49 L351.42 500.40 L352.46 500.30 L353.51 500.21 L354.55 500.11 L355.60 500.00 L356.64 499.90 L357.19 499.85" fill="none" stroke="#ffd000" stroke-width="2.40" stroke-linecap="butt" stroke-linejoin="round"/>
<path d="M90.45 549.00 L90.70 548.58 L90.95 548.08 L91.20 547.49 L91.44 546.77 L91.50 546.58 L91.69 545.94 L91.94 545.08 L92.19 544.19 L92.44 543.29 L92.55 542.87 L92.69 542.37 L92.93 541.44 L93.18 540.50 L93.43 539.56 L93.60 538.91 L93.68 538.62 L93.93 537.68 L94.18 536.76 L94.42 535.84 L94.65 535.03 L94.67 534.95 L94.92 534.08 L95.17 533.24 L95.42 532.42 L95.67 531.61 L95.70 531.49 L95.92 530.80 L96.16 530.00 L96.41 529.19 L96.66 528.39 L96.75 528.08 L96.91 527.58 L97.16 526.78 L97.41 525.98 L97.65 525.19 L97.80 524.71 L97.90 524.39 L98.15 523.60 L98.40 522.81 L98.65 522.03 L98.85 521.37 L98.90 521.24 L99.14 520.46 L99.39 519.68 L99.64 518.90 L99.89 518.12 L99.90 518.08 L100.14 517.35 L100.39 516.58 L100.63 515.81 L100.88 515.04 L100.96 514.81 L101.13 514.27 L101.38 513.51 L101.63 512.75 L101.88 512.00 L102.01 511.61 L102.13 511.25 L102.37 510.50 L102.62 509.76 L102.87 509.03 L103.06 508.48 L103.12 508.30 L103.37 507.58 L103.62 506.86 L103.86 506.15 L104.11 505.46 L104.11 505.45 L104.36 504.75 L104.61 504.07 L104.86 503.39 L105.11 502.71 L105.16 502.58 L105.35 502.05 L105.60 501.41 L105.85 500.79 L106.10 500.19 L106.21 499.93 L106.35 499.60 L106.60 499.03 L106.85 498.48 L107.09 497.94 L107.26 497.59 L107.34 497.42 L107.59 496.90 L107.84 496.41 L108.09 495.92 L108.31 495.49 L108.34 495.44 L108.58 494.98 L108.83 494.52 L109.08 494.07 L109.33 493.63 L109.36 493.58 L109.58 493.20 L109.83 492.77 L110.07 492.35 L110.32 491.93 L110.41 491.78 L110.57 491.51 L110.82 491.10 L111.07 490.69 L111.32 490.28 L111.46 490.05 L111.57 489.88 L111.81 489.47 L112.06 489.07 L112.31 488.67 L112.51 488.35 L112.56 488.27 L112.81 487.88 L113.06 487.48 L113.30 487.09 L113.55 486.71 L113.56 486.69 L113.80 486.33 L114.05 485.95 L114.30 485.58 L114.55 485.21 L114.61 485.11 L114.79 484.84 L115.04 484.48 L115.29 484.13 L115.54 483.78 L115.66 483.60 L115.79 483.43 L116.04 483.09 L116.28 482.76 L116.53 482.43 L116.71 482.20 L116.78 482.11 L117.03 481.80 L117.28 481.49 L117.53 481.20 L117.76 480.92 L117.78 480.90 L118.02 480.61 L118.27 480.33 L118.52 480.04 L118.77 479.76 L118.81 479.71 L119.02 479.48 L119.27 479.20 L119.51 478.92 L119.76 478.65 L119.87 478.53 L120.01 478.37 L120.26 478.10 L120.51 477.83 L120.76 477.57 L120.92 477.40 L121.00 477.30 L121.25 477.04 L121.50 476.79 L121.75 476.53 L121.97 476.31 L122.00 476.28 L122.25 476.03 L122.50 475.78 L122.74 475.54 L122.99 475.29 L123.02 475.27 L123.24 475.06 L123.49 474.82 L123.74 474.59 L123.99 474.36 L124.07 474.29 L124.23 474.14 L124.48 473.91 L124.73 473.70 L124.98 473.48 L125.12 473.36 L126.17 472.50 L127.22 471.71 L128.27 470.94 L129.32 470.17 L130.37 469.42 L131.42 468.67 L132.47 467.95 L133.52 467.24 L134.57 466.56 L135.62 465.90 L136.67 465.28 L137.72 464.69 L138.78 464.14 L139.83 463.63 L140.88 463.15 L141.93 462.67 L142.98 462.20 L144.03 461.72 L145.08 461.24 L146.13 460.77 L147.18 460.29 L148.23 459.81 L149.28 459.34 L150.33 458.87 L151.38 458.39 L152.43 457.92 L153.48 457.45 L154.53 456.98 L155.58 456.51 L156.63 456.04 L157.69 455.57 L158.74 455.10 L159.79 454.62 L160.84 454.15 L161.89 453.68 L162.94 453.22 L163.99 452.75 L165.04 452.29 L166.09 451.82 L167.14 451.37 L168.19 450.92 L169.24 450.48 L170.29 450.05 L171.34 449.63 L172.39 449.22 L173.44 448.80 L174.49 448.39 L175.54 447.99 L176.59 447.58 L177.65 447.17 L178.70 446.77 L179.75 446.36 L180.80 445.94 L181.85 445.53 L182.90 445.13 L183.95 444.73 L185.00 444.33 L186.05 443.93 L187.10 443.54 L188.15 443.15 L189.20 442.76 L190.25 442.38 L191.30 442.00 L192.35 441.63 L193.40 441.26 L194.45 440.90 L195.50 440.57 L196.56 440.26 L197.61 439.96 L198.66 439.69 L199.71 439.44 L200.76 439.22 L201.81 439.01 L202.86 438.83 L203.91 438.67 L204.96 438.53 L206.01 438.42 L207.06 438.32 L208.11 438.23 L209.16 438.15 L210.21 438.07 L211.26 438.00 L212.31 437.93 L213.36 437.87 L214.41 437.81 L215.47 437.76 L216.52 437.71 L217.57 437.67 L218.62 437.63 L219.67 437.60 L220.72 437.57 L221.77 437.54 L222.82 437.52 L223.87 437.49 L224.92 437.47 L225.97 437.45 L227.02 437.43 L228.07 437.41 L229.12 437.39 L230.17 437.36 L231.22 437.33 L232.27 437.30 L233.32 437.26 L234.37 437.22 L235.43 437.18 L236.48 437.13 L237.53 437.09 L238.58 437.04 L239.63 436.98 L240.68 436.93 L241.73 436.86 L242.78 436.80 L243.83 436.73 L244.88 436.65 L245.93 436.56 L246.98 436.47 L248.03 436.37 L249.08 436.27 L250.13 436.16 L251.18 436.04 L252.23 435.90 L253.28 435.77 L254.34 435.62 L255.39 435.47 L256.44 435.31 L257.49 435.15 L258.54 434.99 L259.59 434.82 L260.64 434.65 L261.69 434.48 L262.74 434.32 L263.79 434.15 L264.84 433.99 L265.89 433.83 L266.94 433.67 L267.99 433.52 L269.04 433.38 L270.09 433.24 L271.14 433.11 L272.19 432.99 L273.25 432.86 L274.30 432.73 L275.35 432.60 L276.40 432.48 L277.45 432.35 L278.50 432.22 L279.55 432.10 L280.60 431.97 L281.65 431.85 L282.70 431.73 L283.75 431.61 L284.80 431.49 L285.85 431.37 L286.90 431.26 L287.95 431.15 L289.00 431.04 L290.05 430.93 L291.10 430.82 L292.16 430.72 L293.21 430.62 L294.26 430.52 L295.31 430.42 L296.36 430.32 L297.41 430.21 L298.46 430.11 L299.51 430.02 L300.56 429.92 L301.61 429.82 L302.66 429.72 L303.71 429.62 L304.76 429.53 L305.81 429.43 L306.86 429.33 L307.91 429.24 L308.96 429.14 L310.01 429.05 L311.06 428.96 L312.12 428.87 L313.17 428.77 L314.22 428.68 L315.27 428.59 L316.32 428.50 L317.37 428.41 L318.42 428.33 L319.47 428.24 L320.52 428.15 L321.57 428.06 L322.62 427.97 L323.67 427.88 L324.72 427.79 L325.77 427.70 L326.82 427.61 L327.87 427.52 L328.92 427.43 L329.97 427.34 L331.03 427.25 L332.08 427.16 L333.13 427.07 L334.18 426.98 L335.23 426.88 L336.28 426.79 L337.33 426.70 L338.38 426.60 L339.43 426.51 L340.48 426.41 L341.53 426.31 L342.58 426.22 L343.63 426.12 L344.68 426.02 L345.73 425.92 L346.78 425.82 L347.83 425.72 L348.88 425.62 L349.94 425.52 L350.99 425.42 L352.04 425.32 L353.09 425.22 L354.14 425.11 L355.19 425.00 L356.24 424.89 L357.29 424.77 L358.34 424.65 L359.39 424.53 L360.44 424.40 L361.49 424.28 L362.54 424.15" fill="none" stroke="#ff0000" stroke-width="2.55" stroke-linecap="butt" stroke-linejoin="miter"/>
</g>
<path d="M107.71 393.29 v6.50 M107.71 567.36 v-6.50 M124.98 393.29 v6.50 M124.98 567.36 v-6.50 M142.24 393.29 v6.50 M142.24 567.36 v-6.50 M159.51 393.29 v13.00 M159.51 567.36 v-13.00 M176.77 393.29 v6.50 M176.77 567.36 v-6.50 M194.04 393.29 v6.50 M194.04 567.36 v-6.50 M211.30 393.29 v6.50 M211.30 567.36 v-6.50 M228.57 393.29 v13.00 M228.57 567.36 v-13.00 M245.83 393.29 v6.50 M245.83 567.36 v-6.50 M263.10 393.29 v6.50 M263.10 567.36 v-6.50 M280.36 393.29 v6.50 M280.36 567.36 v-6.50 M297.63 393.29 v13.00 M297.63 567.36 v-13.00 M314.89 393.29 v6.50 M314.89 567.36 v-6.50 M332.16 393.29 v6.50 M332.16 567.36 v-6.50 M349.42 393.29 v6.50 M349.42 567.36 v-6.50 M366.69 393.29 v13.00 M366.69 567.36 v-13.00 M383.95 393.29 v6.50 M383.95 567.36 v-6.50 M90.45 559.45 h5.90 M383.95 559.45 h-5.90 M90.45 551.54 h12.00 M383.95 551.54 h-12.00 M90.45 543.62 h5.90 M383.95 543.62 h-5.90 M90.45 535.71 h5.90 M383.95 535.71 h-5.90 M90.45 527.80 h5.90 M383.95 527.80 h-5.90 M90.45 519.89 h12.00 M383.95 519.89 h-12.00 M90.45 511.97 h5.90 M383.95 511.97 h-5.90 M90.45 504.06 h5.90 M383.95 504.06 h-5.90 M90.45 496.15 h5.90 M383.95 496.15 h-5.90 M90.45 488.24 h12.00 M383.95 488.24 h-12.00 M90.45 480.32 h5.90 M383.95 480.32 h-5.90 M90.45 472.41 h5.90 M383.95 472.41 h-5.90 M90.45 464.50 h5.90 M383.95 464.50 h-5.90 M90.45 456.59 h12.00 M383.95 456.59 h-12.00 M90.45 448.68 h5.90 M383.95 448.68 h-5.90 M90.45 440.76 h5.90 M383.95 440.76 h-5.90 M90.45 432.85 h5.90 M383.95 432.85 h-5.90 M90.45 424.94 h12.00 M383.95 424.94 h-12.00 M90.45 417.03 h5.90 M383.95 417.03 h-5.90 M90.45 409.11 h5.90 M383.95 409.11 h-5.90 M90.45 401.20 h5.90 M383.95 401.20 h-5.90" stroke="#000" stroke-width="1.05" fill="none"/>
<rect x="90.45" y="393.29" width="293.50" height="174.07" fill="none" stroke="#000" stroke-width="1.05"/>
<text x="99.25" y="424.49" class="t">popsynth</text>
<path d="M90.45 725.61 H383.95" stroke="#000" stroke-width="1.1" fill="none" stroke-dasharray="11.3 3.85 2.5 3.9" stroke-dashoffset="15.5"/>
<path d="M90.45 714.53 V724.02 M87.25 714.53 h6.4 M87.25 724.02 h6.4 M93.21 714.53 V724.02 M90.01 714.53 h6.4 M90.01 724.02 h6.4 M96.15 708.20 V724.02 M92.95 708.20 h6.4 M92.95 724.02 h6.4 M99.60 695.38 V717.53 M96.40 695.38 h6.4 M96.40 717.53 h6.4 M96.84 687.63 V697.12 M93.64 687.63 h6.4 M93.64 697.12 h6.4 M98.39 675.28 V685.41 M95.19 675.28 h6.4 M95.19 685.41 h6.4 M101.50 676.55 V686.04 M98.30 676.55 h6.4 M98.30 686.04 h6.4 M103.23 683.99 V696.65 M100.03 683.99 h6.4 M100.03 696.65 h6.4 M104.95 681.30 V690.79 M101.75 681.30 h6.4 M101.75 690.79 h6.4 M106.33 666.74 V682.56 M103.13 666.74 h6.4 M103.13 682.56 h6.4 M112.20 674.49 V696.01 M109.00 674.49 h6.4 M109.00 696.01 h6.4 M114.28 699.89 V713.82 M111.08 699.89 h6.4 M111.08 713.82 h6.4 M117.73 681.45 V692.53 M114.53 681.45 h6.4 M114.53 692.53 h6.4 M116.00 667.53 V680.19 M112.80 667.53 h6.4 M112.80 680.19 h6.4 M113.93 663.57 V676.23 M110.73 663.57 h6.4 M110.73 676.23 h6.4 M117.21 658.83 V668.32 M114.01 658.83 h6.4 M114.01 668.32 h6.4 M120.15 651.86 V664.52 M116.95 651.86 h6.4 M116.95 664.52 h6.4 M122.91 647.43 V661.68 M119.71 647.43 h6.4 M119.71 661.68 h6.4 M125.32 642.68 V659.45 M122.12 642.68 h6.4 M122.12 659.45 h6.4 M128.02 632.59 V662.34 M124.82 632.59 h6.4 M124.82 662.34 h6.4 M131.19 635.09 V652.50 M127.99 635.09 h6.4 M127.99 652.50 h6.4 M134.51 609.96 V673.26 M131.31 609.96 h6.4 M131.31 673.26 h6.4 M137.24 603.75 V675.91 M134.04 603.75 h6.4 M134.04 675.91 h6.4 M140.52 612.60 V662.92 M137.32 612.60 h6.4 M137.32 662.92 h6.4 M143.63 624.04 V647.78 M140.43 624.04 h6.4 M140.43 647.78 h6.4 M146.39 624.58 V644.20 M143.19 624.58 h6.4 M143.19 644.20 h6.4 M149.50 624.78 V642.51 M146.30 624.78 h6.4 M146.30 642.51 h6.4 M152.60 624.52 V642.24 M149.40 624.52 h6.4 M149.40 642.24 h6.4 M155.71 625.12 V642.84 M152.51 625.12 h6.4 M152.51 642.84 h6.4 M158.82 625.90 V643.62 M155.62 625.90 h6.4 M155.62 643.62 h6.4 M161.75 627.16 V644.88 M158.55 627.16 h6.4 M158.55 644.88 h6.4 M164.69 628.56 V646.28 M161.49 628.56 h6.4 M161.49 646.28 h6.4 M167.62 631.19 V647.02 M164.42 631.19 h6.4 M164.42 647.02 h6.4 M170.56 633.65 V649.48 M167.36 633.65 h6.4 M167.36 649.48 h6.4 M173.49 636.99 V652.81 M170.29 636.99 h6.4 M170.29 652.81 h6.4 M176.77 631.61 V647.43 M173.57 631.61 h6.4 M173.57 647.43 h6.4 M179.71 618.00 V633.82 M176.51 618.00 h6.4 M176.51 633.82 h6.4 M182.82 613.39 V629.21 M179.62 613.39 h6.4 M179.62 629.21 h6.4 M186.10 606.15 V621.97 M182.90 606.15 h6.4 M182.90 621.97 h6.4 M189.38 602.26 V618.08 M186.18 602.26 h6.4 M186.18 618.08 h6.4 M192.66 597.90 V613.72 M189.46 597.90 h6.4 M189.46 613.72 h6.4 M195.94 593.29 V609.11 M192.74 593.29 h6.4 M192.74 609.11 h6.4 M199.22 592.68 V608.50 M196.02 592.68 h6.4 M196.02 608.50 h6.4 M202.50 596.16 V611.99 M199.30 596.16 h6.4 M199.30 611.99 h6.4 M205.78 599.48 V615.30 M202.58 599.48 h6.4 M202.58 615.30 h6.4 M209.06 601.12 V618.53 M205.86 601.12 h6.4 M205.86 618.53 h6.4 M212.34 602.97 V620.37 M209.14 602.97 h6.4 M209.14 620.37 h6.4 M215.62 604.21 V621.61 M212.42 604.21 h6.4 M212.42 621.61 h6.4 M218.90 585.89 V641.28 M215.70 585.89 h6.4 M215.70 641.28 h6.4 M222.01 589.20 V638.25 M218.81 589.20 h6.4 M218.81 638.25 h6.4 M225.81 598.32 V628.70 M222.61 598.32 h6.4 M222.61 628.70 h6.4 M229.26 585.82 V639.62 M226.06 585.82 h6.4 M226.06 639.62 h6.4 M239.27 605.02 V622.75 M236.07 605.02 h6.4 M236.07 622.75 h6.4 M249.29 602.97 V620.69 M246.09 602.97 h6.4 M246.09 620.69 h6.4 M256.54 599.80 V617.21 M253.34 599.80 h6.4 M253.34 617.21 h6.4 M266.55 598.38 V615.78 M263.35 598.38 h6.4 M263.35 615.78 h6.4 M275.18 597.27 V614.36 M271.98 597.27 h6.4 M271.98 614.36 h6.4 M284.51 594.89 V611.99 M281.31 594.89 h6.4 M281.31 611.99 h6.4 M292.45 594.89 V611.99 M289.25 594.89 h6.4 M289.25 611.99 h6.4 M300.73 595.84 V612.93 M297.53 595.84 h6.4 M297.53 612.93 h6.4 M309.37 593.63 V610.72 M306.17 593.63 h6.4 M306.17 610.72 h6.4 M318.34 591.10 V608.50 M315.14 591.10 h6.4 M315.14 608.50 h6.4 M326.98 592.84 V605.18 M323.78 592.84 h6.4 M323.78 605.18 h6.4 M336.47 591.10 V603.44 M333.27 591.10 h6.4 M333.27 603.44 h6.4 M345.97 589.51 V601.54 M342.77 589.51 h6.4 M342.77 601.54 h6.4 M353.56 585.87 V598.53 M350.36 585.87 h6.4 M350.36 598.53 h6.4 M362.20 591.10 V599.01 M359.00 591.10 h6.4 M359.00 599.01 h6.4" stroke="#000" stroke-width="1.05" fill="none"/>
<circle cx="90.45" cy="719.28" r="3.1" fill="#000"/>
<circle cx="93.21" cy="719.28" r="3.1" fill="#000"/>
<circle cx="96.15" cy="716.11" r="3.1" fill="#000"/>
<circle cx="99.60" cy="706.46" r="3.1" fill="#000"/>
<circle cx="96.84" cy="692.37" r="3.1" fill="#000"/>
<circle cx="98.39" cy="680.35" r="3.1" fill="#000"/>
<circle cx="101.50" cy="681.30" r="3.1" fill="#000"/>
<circle cx="103.23" cy="690.32" r="3.1" fill="#000"/>
<circle cx="104.95" cy="686.04" r="3.1" fill="#000"/>
<circle cx="106.33" cy="674.65" r="3.1" fill="#000"/>
<circle cx="112.20" cy="685.25" r="3.1" fill="#000"/>
<circle cx="114.28" cy="706.85" r="3.1" fill="#000"/>
<circle cx="117.73" cy="686.99" r="3.1" fill="#000"/>
<circle cx="116.00" cy="673.86" r="3.1" fill="#000"/>
<circle cx="113.93" cy="669.90" r="3.1" fill="#000"/>
<circle cx="117.21" cy="663.57" r="3.1" fill="#000"/>
<circle cx="120.15" cy="658.19" r="3.1" fill="#000"/>
<circle cx="122.91" cy="654.55" r="3.1" fill="#000"/>
<circle cx="125.32" cy="651.06" r="3.1" fill="#000"/>
<circle cx="128.02" cy="647.46" r="3.1" fill="#000"/>
<circle cx="131.19" cy="643.79" r="3.1" fill="#000"/>
<circle cx="134.51" cy="641.61" r="3.1" fill="#000"/>
<circle cx="137.24" cy="639.83" r="3.1" fill="#000"/>
<circle cx="140.52" cy="637.76" r="3.1" fill="#000"/>
<circle cx="143.63" cy="635.91" r="3.1" fill="#000"/>
<circle cx="146.39" cy="634.39" r="3.1" fill="#000"/>
<circle cx="149.50" cy="633.65" r="3.1" fill="#000"/>
<circle cx="152.60" cy="633.38" r="3.1" fill="#000"/>
<circle cx="155.71" cy="633.98" r="3.1" fill="#000"/>
<circle cx="158.82" cy="634.76" r="3.1" fill="#000"/>
<circle cx="161.75" cy="636.02" r="3.1" fill="#000"/>
<circle cx="164.69" cy="637.42" r="3.1" fill="#000"/>
<circle cx="167.62" cy="639.10" r="3.1" fill="#000"/>
<circle cx="170.56" cy="641.56" r="3.1" fill="#000"/>
<circle cx="173.49" cy="644.90" r="3.1" fill="#000"/>
<circle cx="176.77" cy="639.52" r="3.1" fill="#000"/>
<circle cx="179.71" cy="625.91" r="3.1" fill="#000"/>
<circle cx="182.82" cy="621.30" r="3.1" fill="#000"/>
<circle cx="186.10" cy="614.06" r="3.1" fill="#000"/>
<circle cx="189.38" cy="610.17" r="3.1" fill="#000"/>
<circle cx="192.66" cy="605.81" r="3.1" fill="#000"/>
<circle cx="195.94" cy="601.20" r="3.1" fill="#000"/>
<circle cx="199.22" cy="600.59" r="3.1" fill="#000"/>
<circle cx="202.50" cy="604.07" r="3.1" fill="#000"/>
<circle cx="205.78" cy="607.39" r="3.1" fill="#000"/>
<circle cx="209.06" cy="609.83" r="3.1" fill="#000"/>
<circle cx="212.34" cy="611.67" r="3.1" fill="#000"/>
<circle cx="215.62" cy="612.91" r="3.1" fill="#000"/>
<circle cx="218.90" cy="613.59" r="3.1" fill="#000"/>
<circle cx="222.01" cy="613.73" r="3.1" fill="#000"/>
<circle cx="225.81" cy="613.51" r="3.1" fill="#000"/>
<circle cx="229.26" cy="612.72" r="3.1" fill="#000"/>
<circle cx="239.27" cy="613.88" r="3.1" fill="#000"/>
<circle cx="249.29" cy="611.83" r="3.1" fill="#000"/>
<circle cx="256.54" cy="608.50" r="3.1" fill="#000"/>
<circle cx="266.55" cy="607.08" r="3.1" fill="#000"/>
<circle cx="275.18" cy="605.81" r="3.1" fill="#000"/>
<circle cx="284.51" cy="603.44" r="3.1" fill="#000"/>
<circle cx="292.45" cy="603.44" r="3.1" fill="#000"/>
<circle cx="300.73" cy="604.39" r="3.1" fill="#000"/>
<circle cx="309.37" cy="602.17" r="3.1" fill="#000"/>
<circle cx="318.34" cy="599.80" r="3.1" fill="#000"/>
<circle cx="326.98" cy="599.01" r="3.1" fill="#000"/>
<circle cx="336.47" cy="597.27" r="3.1" fill="#000"/>
<circle cx="345.97" cy="595.53" r="3.1" fill="#000"/>
<circle cx="353.56" cy="592.20" r="3.1" fill="#000"/>
<circle cx="362.20" cy="595.05" r="3.1" fill="#000"/>
<g clip-path="url(#c03)">
<path d="M91.63 724.67 L91.69 724.66 L91.76 724.65 L91.94 724.62 L92.19 724.59 L92.20 724.59 L92.44 724.56 L92.64 724.53 L92.69 724.52 L92.93 724.49 L93.07 724.47 L93.18 724.45 L93.43 724.41 L93.51 724.40 L93.68 724.37 L93.93 724.32 L93.95 724.31 L94.00 724.30 M97.69 723.62 L97.88 723.60 L97.90 723.60 L98.15 723.58 L98.32 723.57 L98.40 723.56 L98.65 723.55 L98.76 723.55 L98.90 723.55 L99.14 723.55 L99.20 723.55 L99.39 723.55 L99.63 723.55 L99.64 723.55 L99.89 723.56 L100.07 723.56 L100.08 723.56 M103.83 723.78 L103.86 723.79 L104.01 723.80 L104.11 723.81 L104.36 723.84 L104.44 723.85 L104.61 723.87 L104.86 723.90 L104.88 723.91 L105.11 723.96 L105.32 724.02 L105.35 724.04 L105.60 724.13 L105.75 724.19 L105.85 724.23 L106.10 724.35 L106.13 724.37 M109.01 726.74 L109.08 726.79 L109.25 726.90 L109.33 726.95 L109.58 727.09 L109.69 727.14 L109.83 727.20 L110.07 727.31 L110.13 727.33 L110.32 727.41 L110.57 727.50 L110.57 727.50 L110.82 727.59 L111.00 727.65 L111.07 727.68 L111.19 727.72 M114.82 728.68 L114.94 728.70 L115.04 728.73 L115.29 728.78 L115.38 728.80 L115.54 728.84 L115.79 728.90 L115.81 728.90 L116.04 728.95 L116.25 729.01 L116.28 729.01 L116.53 729.08 L116.69 729.11 L116.78 729.14 L117.03 729.20 L117.12 729.23 L117.15 729.23 M120.82 729.98 L121.00 730.00 L121.06 730.00 L121.25 730.02 L121.50 730.03 L121.50 730.03 L121.75 730.04 L121.93 730.04 L122.00 730.04 L122.25 730.03 L122.37 730.02 L122.50 730.02 L122.74 730.00 L122.81 730.00 L122.99 729.98 L123.22 729.96 M126.91 729.30 L127.18 729.24 L127.62 729.16 L128.06 729.09 L128.49 729.02 L128.93 728.95 L129.27 728.90 M132.97 728.30 L133.30 728.25 L133.74 728.19 L134.18 728.13 L134.62 728.08 L135.05 728.03 L135.35 727.99 M139.08 727.58 L139.43 727.55 L139.86 727.53 L140.30 727.51 L140.74 727.50 L141.17 727.51 L141.48 727.54 M145.09 728.53 L145.11 728.54 L145.55 728.66 L145.99 728.76 L146.42 728.84 L146.86 728.90 L147.30 728.95 L147.44 728.97 M151.18 729.33 L151.23 729.34 L151.67 729.36 L152.11 729.38 L152.54 729.39 L152.98 729.40 L153.42 729.40 L153.57 729.39 M157.13 728.29 L157.35 728.19 L157.79 727.97 L158.23 727.70 L158.67 727.34 L159.09 726.94 M161.19 723.85 L161.29 723.66 L161.73 722.84 L162.16 722.16 L162.47 721.84 M165.66 719.91 L166.10 719.72 L166.54 719.54 L166.97 719.35 L167.41 719.15 L167.85 718.93 L167.85 718.93 M171.23 717.29 L171.35 717.24 L171.78 717.03 L172.22 716.81 L172.66 716.60 L173.10 716.38 L173.38 716.24 M176.70 714.49 L177.03 714.31 L177.47 714.07 L177.91 713.84 L178.34 713.61 L178.78 713.38 L178.82 713.36 M182.18 711.69 L182.28 711.64 L182.72 711.42 L183.15 711.21 L183.59 710.99 L184.03 710.77 L184.33 710.63 M187.67 708.93 L187.96 708.77 L188.40 708.55 L188.84 708.32 L189.28 708.09 L189.71 707.85 L189.79 707.81 M193.04 705.94 L193.21 705.83 L193.65 705.58 L194.09 705.32 L194.52 705.06 L194.96 704.81 L195.12 704.73 M198.40 702.92 L198.46 702.89 L198.90 702.66 L199.33 702.44 L199.77 702.23 L200.21 702.02 L200.56 701.87" fill="none" stroke="#00ff00" stroke-width="2.60" stroke-linecap="butt" stroke-linejoin="round"/>
<path d="M206.62 699.63 L206.74 699.61 L207.35 699.48 L207.95 699.36 L208.56 699.24 L208.97 699.16 M212.69 698.74 L212.81 698.74 L213.41 698.74 L214.02 698.75 L214.63 698.77 L215.09 698.78 M218.84 698.96 L218.87 698.96 L219.48 698.99 L220.08 699.02 L220.69 699.04 L221.23 699.07 M224.98 699.29 L225.54 699.34 L226.15 699.42 L226.76 699.52 L227.35 699.64 M230.99 700.55 L231.00 700.55 L231.61 700.69 L232.22 700.83 L232.82 700.98 L233.32 701.11 M236.98 701.93 L237.07 701.94 L237.68 702.01 L238.28 702.07 L238.89 702.12 L239.37 702.16 M243.11 702.36 L243.14 702.36 L243.74 702.36 L244.35 702.35 L244.96 702.33 L245.51 702.31 M249.25 702.05 L249.81 702.01 L250.41 701.96 L251.02 701.90 L251.63 701.83 L251.64 701.83 M255.35 701.29 L255.87 701.21 L256.48 701.11 L257.09 701.00 L257.69 700.89 L257.72 700.88 M261.39 700.11 L261.94 700.00 L262.55 699.87 L263.15 699.74 L263.73 699.62 M267.40 698.81 L267.40 698.81 L268.01 698.66 L268.61 698.50 L269.22 698.33 L269.71 698.18 M273.28 697.02 L273.47 696.96 L274.07 696.77 L274.68 696.59 L275.29 696.42 L275.58 696.34 M279.20 695.38 L279.53 695.29 L280.14 695.13 L280.74 694.96 L281.35 694.79 L281.52 694.75 M285.13 693.74 L285.60 693.60 L286.20 693.43 L286.81 693.26 L287.42 693.08 L287.44 693.07 M291.03 691.99 L291.06 691.98 L291.66 691.81 L292.27 691.63 L292.88 691.46 L293.34 691.34 M296.96 690.37 L297.12 690.32 L297.73 690.17 L298.34 690.01 L298.94 689.85 L299.28 689.76 M302.91 688.81 L303.19 688.74 L303.80 688.59 L304.40 688.45 L305.01 688.31 L305.24 688.26 M308.92 687.51 L309.25 687.44 L309.86 687.31 L310.47 687.18 L311.07 687.03 L311.26 686.99 M314.89 686.02 L315.32 685.91 L315.93 685.75 L316.53 685.59 L317.14 685.44 L317.21 685.42 M320.85 684.53 L321.39 684.40 L321.99 684.26 L322.60 684.12 L323.19 683.98 M326.84 683.13 L326.85 683.13 L327.45 683.00 L328.06 682.88 L328.67 682.76 L329.19 682.66 M332.90 682.09 L332.91 682.09 L333.52 682.00 L334.12 681.91 L334.73 681.80 L335.27 681.71 M338.94 680.96 L338.98 680.95 L339.58 680.82 L340.19 680.70 L340.80 680.57 L341.29 680.47 M344.97 679.75 L345.04 679.73 L345.65 679.62 L346.26 679.51 L346.86 679.40 L347.33 679.32 M351.05 678.80 L351.11 678.80 L351.72 678.71 L352.32 678.61 L352.93 678.50 L353.41 678.41 M357.02 677.37 L357.18 677.32 L357.78 677.11 L358.39 676.90 L359.00 676.69 L359.29 676.60" fill="none" stroke="#00ff00" stroke-width="2.60" stroke-linecap="butt" stroke-linejoin="round"/>
<path d="M90.55 725.59 L90.70 725.58 L90.95 725.55 L91.20 725.53 L91.44 725.50 L91.50 725.50 L91.69 725.48 L91.94 725.45 L92.19 725.42 L92.44 725.40 L92.55 725.39 L92.69 725.37 L92.93 725.35 L93.18 725.32 L93.43 725.29 L93.60 725.28 L93.68 725.27 L93.93 725.24 L94.18 725.22 L94.42 725.19 L94.65 725.17 L94.67 725.16 L94.92 725.14 L95.17 725.11 L95.42 725.09 L95.67 725.06 L95.70 725.06 L95.92 725.03 L96.16 725.01 L96.41 724.98 L96.66 724.96 L96.75 724.95 L96.91 724.93 L97.16 724.91 L97.41 724.88 L97.65 724.85 L97.80 724.84 L97.90 724.83 L98.15 724.80 L98.40 724.78 L98.65 724.75 L98.85 724.73 L98.90 724.72 L99.14 724.70 L99.39 724.67 L99.64 724.65 L99.89 724.62 L99.90 724.62 L100.14 724.59 L100.39 724.57 L100.63 724.54 L100.88 724.52 L100.96 724.51 L101.13 724.49 L101.38 724.46 L101.63 724.44 L101.88 724.41 L102.01 724.40 L102.13 724.39 L102.37 724.36 L102.62 724.33 L102.87 724.31 L103.06 724.29 L103.12 724.28 L103.37 724.26 L103.62 724.23 L103.86 724.20 L104.11 724.18 L104.11 724.18 L104.36 724.15 L104.61 724.13 L104.86 724.10 L105.11 724.07 L105.16 724.07 L105.35 724.05 L105.60 724.02 L105.85 724.00 L106.10 723.97 L106.21 723.96 L106.35 723.94 L106.60 723.92 L106.85 723.89 L107.09 723.87 L107.26 723.85 L107.34 723.84 L107.59 723.81 L107.84 723.79 L108.09 723.76 L108.31 723.74 L108.34 723.74 L108.58 723.71 L108.83 723.68 L109.08 723.66 L109.33 723.63 L109.36 723.63 L109.58 723.61 L109.83 723.58 L110.07 723.55 L110.32 723.53 L110.41 723.52 L110.57 723.50 L110.82 723.48 L111.07 723.45 L111.32 723.42 L111.46 723.41 L111.57 723.40 L111.81 723.37 L112.06 723.35 L112.31 723.32 L112.51 723.30 L112.56 723.29 L112.81 723.27 L113.06 723.24 L113.30 723.22 L113.55 723.19 L113.56 723.19 L113.80 723.16 L114.05 723.14 L114.30 723.11 L114.55 723.09 L114.61 723.08 L114.79 723.06 L115.04 723.03 L115.29 723.01 L115.54 722.98 L115.66 722.97 L115.79 722.96 L116.04 722.93 L116.28 722.90 L116.53 722.88 L116.71 722.86 L116.78 722.85 L117.03 722.83 L117.28 722.80 L117.53 722.77 L117.70 722.76 M126.45 721.84 L127.22 721.76 L128.27 721.65 L129.32 721.54 L130.37 721.43 L131.42 721.32 L132.47 721.21 L133.52 721.10 L134.57 720.99 L135.62 720.88 L136.67 720.77 L137.72 720.65 L138.78 720.54 L139.83 720.43 L140.88 720.32 L141.93 720.21 L142.98 720.10 L144.03 719.99 L145.08 719.88 L146.13 719.77 L147.18 719.66 L148.23 719.55 L149.28 719.44 L150.33 719.33 L151.38 719.22 L152.43 719.11 L153.48 719.00 L153.60 718.98 M162.36 718.06 L162.94 718.00 L163.99 717.89 L165.04 717.78 L166.09 717.67 L167.14 717.56 L168.19 717.45 L169.24 717.34 L170.29 717.22 L171.34 717.11 L172.39 717.00 L173.44 716.89 L174.49 716.78 L175.54 716.67 L176.59 716.56 L177.65 716.45 L178.70 716.34 L179.75 716.23 L180.80 716.11 L181.85 716.00 L182.90 715.89 L183.95 715.78 L185.00 715.67 L186.05 715.56 L187.10 715.45 L188.15 715.34 L189.20 715.23 L189.51 715.19 M198.26 714.27 L198.66 714.22 L199.71 714.11 L200.76 714.00 L201.81 713.89 L202.86 713.78 L203.91 713.67 L204.96 713.56 L206.01 713.44 L207.06 713.33 L208.11 713.22 L209.16 713.11 L210.21 713.00 L211.26 712.89 L212.31 712.78 L213.36 712.66 L214.41 712.55 L215.47 712.44 L216.52 712.33 L217.57 712.22 L218.62 712.11 L219.67 711.99 L220.72 711.88 L221.77 711.77 L222.82 711.66 L223.87 711.55 L224.92 711.44 L225.40 711.38 M234.15 710.45 L234.37 710.43 L235.43 710.32 L236.48 710.20 L237.53 710.09 L238.58 709.98 L239.63 709.87 L240.68 709.76 L241.73 709.64 L242.78 709.53 L243.83 709.42 L244.88 709.31 L245.93 709.20 L246.98 709.08 L248.03 708.97 L249.08 708.86 L250.13 708.75 L251.18 708.64 L252.23 708.52 L253.28 708.41 L254.34 708.30 L255.39 708.19 L256.44 708.07 L257.49 707.96 L258.54 707.85 L259.59 707.74 L260.64 707.63 L261.30 707.55 M270.05 706.62 L270.09 706.61 L271.14 706.50 L272.19 706.39 L273.25 706.28 L274.30 706.16 L275.35 706.05 L276.40 705.94 L277.45 705.83 L278.50 705.71 L279.55 705.60 L280.60 705.49 L281.65 705.37 L282.70 705.26 L283.75 705.15 L284.80 705.04 L285.85 704.92 L286.90 704.81 L287.95 704.70 L289.00 704.59 L290.05 704.47 L291.10 704.36 L292.16 704.25 L293.21 704.13 L294.26 704.02 L295.31 703.91 L296.36 703.80 L297.19 703.71 M305.94 702.76 L306.86 702.67 L307.91 702.55 L308.96 702.44 L310.01 702.33 L311.06 702.21 L312.12 702.10 L313.17 701.99 L314.22 701.87 L315.27 701.76 L316.32 701.65 L317.37 701.53 L318.42 701.42 L319.47 701.31 L320.52 701.19 L321.57 701.08 L322.62 700.97 L323.67 700.85 L324.72 700.74 L325.77 700.63 L326.82 700.51 L327.87 700.40 L328.92 700.29 L329.97 700.17 L331.03 700.06 L332.08 699.95 L333.09 699.84 M341.84 698.89 L342.58 698.81 L343.63 698.70 L344.68 698.58 L345.73 698.47 L346.78 698.35 L347.83 698.24 L348.88 698.13 L349.94 698.01 L350.99 697.90 L352.04 697.79 L353.09 697.67 L354.14 697.56 L355.19 697.44 L356.24 697.33 L357.29 697.22 L358.34 697.10 L359.39 696.99 L360.44 696.87 L361.49 696.76 L362.54 696.65" fill="none" stroke="#0000f5" stroke-width="2.55" stroke-linecap="butt" stroke-linejoin="round"/>
<path d="M90.45 724.66 L90.70 724.21 L90.95 723.76 L91.20 723.29 L91.44 722.80 L91.50 722.68 L91.69 722.29 L91.94 721.76 L92.19 721.21 L92.44 720.64 L92.55 720.37 L92.69 720.04 L92.93 719.42 L93.18 718.73 L93.43 717.95 L93.60 717.37 L93.68 717.10 L93.93 716.18 L94.18 715.20 L94.42 714.18 L94.65 713.19 L94.67 713.10 L94.92 711.99 L95.17 710.86 L95.42 709.70 L95.67 708.53 L95.70 708.36 L95.92 707.36 L96.16 706.19 L96.41 705.03 L96.66 703.89 L96.75 703.47 L96.91 702.77 L97.16 701.69 L97.41 700.66 L97.65 699.67 L97.80 699.10 L97.90 698.74 L98.15 697.88 L98.40 697.09 L98.65 696.38 L98.85 695.85 L98.90 695.76 L99.14 695.24 L99.39 694.82 L99.64 694.51 L99.89 694.33 L99.90 694.32 L100.14 694.27 L100.39 694.57 L100.63 695.28 L100.88 696.30 L100.96 696.64 L101.13 697.52 L101.38 698.82 L101.63 700.09 L101.88 701.22 L102.01 701.82 L102.13 702.45 L102.37 703.88 L102.62 705.37 L102.87 706.75 L103.06 707.63 L103.12 707.88 L103.37 708.62 L103.62 708.81 L103.86 708.00 L104.11 706.41 L104.11 706.37 L104.36 704.42 L104.61 702.64 L104.86 701.03 L105.11 699.31 L105.16 698.95 L105.35 697.57 L105.60 695.90 L105.85 694.39 L106.10 693.12 L106.21 692.62 L106.35 692.00 L106.60 690.94 L106.85 689.94 L107.09 688.99 L107.26 688.39 L107.34 688.09 L107.59 687.23 L107.84 686.42 L108.09 685.64 L108.31 684.97 L108.34 684.89 L108.58 684.16 L108.83 683.45 L109.08 682.76 L109.33 682.09 L109.36 682.01 L109.58 681.44 L109.83 680.80 L110.07 680.19 L110.32 679.59 L110.41 679.39 L110.57 679.01 L110.82 678.44 L111.07 677.89 L111.32 677.34 L111.46 677.03 L111.57 676.81 L111.81 676.29 L112.06 675.77 L112.31 675.26 L112.51 674.85 L112.56 674.76 L112.81 674.26 L113.06 673.76 L113.30 673.26 L113.55 672.77 L113.56 672.75 L113.80 672.27 L114.05 671.77 L114.30 671.27 L114.55 670.77 L114.61 670.63 L114.79 670.27 L115.04 669.78 L115.29 669.29 L115.54 668.82 L115.66 668.58 L115.79 668.35 L116.04 667.90 L116.28 667.46 L116.53 667.04 L116.71 666.75 L116.78 666.64 L117.03 666.26 L117.28 665.90 L117.53 665.57 L117.76 665.27 L117.78 665.26 L118.02 664.96 L118.27 664.68 L118.52 664.40 L118.77 664.14 L118.81 664.09 L119.02 663.88 L119.27 663.62 L119.51 663.38 L119.76 663.14 L119.87 663.05 L120.01 662.91 L120.26 662.68 L120.51 662.46 L120.76 662.25 L120.92 662.11 L121.00 662.04 L121.25 661.83 L121.50 661.63 L121.75 661.43 L121.97 661.26 L122.00 661.23 L122.25 661.04 L122.50 660.85 L122.74 660.66 L122.99 660.48 L123.02 660.46 L123.24 660.29 L123.49 660.11 L123.74 659.92 L123.99 659.74 L124.07 659.68 L124.23 659.55 L124.48 659.37 L124.73 659.18 L124.98 659.00 L125.12 658.89 L126.17 658.07 L127.22 657.23 L128.27 656.40 L129.32 655.58 L130.37 654.76 L131.42 653.97 L132.47 653.19 L133.52 652.43 L134.57 651.69 L135.62 650.98 L136.67 650.29 L137.72 649.63 L138.78 648.99 L139.83 648.36 L140.88 647.75 L141.93 647.16 L142.98 646.58 L144.03 646.00 L145.08 645.44 L146.13 644.88 L147.18 644.34 L148.23 643.83 L149.28 643.35 L150.33 642.89 L151.38 642.43 L152.43 641.96 L153.48 641.47 L154.53 640.94 L155.58 640.38 L156.63 639.75 L157.69 639.05 L158.74 638.26 L159.79 637.40 L160.84 636.47 L161.89 635.50 L162.94 634.49 L163.99 633.45 L165.04 632.40 L166.09 631.34 L167.14 630.29 L168.19 629.20 L169.24 628.03 L170.29 626.83 L171.34 625.60 L172.39 624.37 L173.44 623.14 L174.49 621.96 L175.54 620.82 L176.59 619.76 L177.65 618.78 L178.70 617.86 L179.75 616.97 L180.80 616.11 L181.85 615.28 L182.90 614.46 L183.95 613.67 L185.00 612.88 L186.05 612.10 L187.10 611.32 L188.15 610.53 L189.20 609.73 L190.25 608.94 L191.30 608.15 L192.35 607.37 L193.40 606.61 L194.45 605.87 L195.50 605.16 L196.56 604.48 L197.61 603.85 L198.66 603.23 L199.71 602.61 L200.76 602.00 L201.81 601.41 L202.86 600.85 L203.91 600.31 L204.96 599.82 L206.01 599.36 L207.06 598.96 L208.11 598.61 L209.16 598.29 L210.21 597.98 L211.26 597.68 L212.31 597.40 L213.36 597.15 L214.41 596.91 L215.47 596.71 L216.52 596.53 L217.57 596.39 L218.62 596.28 L219.67 596.18 L220.72 596.08 L221.77 595.99 L222.82 595.91 L223.87 595.84 L224.92 595.77 L225.97 595.73 L227.02 595.70 L228.07 595.69 L229.12 595.69 L230.17 595.71 L231.22 595.74 L232.27 595.79 L233.32 595.84 L234.37 595.90 L235.43 595.96 L236.48 596.02 L237.53 596.08 L238.58 596.15 L239.63 596.20 L240.68 596.25 L241.73 596.30 L242.78 596.33 L243.83 596.36 L244.88 596.40 L245.93 596.43 L246.98 596.46 L248.03 596.49 L249.08 596.52 L250.13 596.55 L251.18 596.57 L252.23 596.59 L253.28 596.61 L254.34 596.62 L255.39 596.63 L256.44 596.64 L257.49 596.62 L258.54 596.58 L259.59 596.51 L260.64 596.41 L261.69 596.30 L262.74 596.17 L263.79 596.03 L264.84 595.88 L265.89 595.72 L266.94 595.56 L267.99 595.41 L269.04 595.26 L270.09 595.13 L271.14 595.00 L272.19 594.88 L273.25 594.75 L274.30 594.63 L275.35 594.50 L276.40 594.37 L277.45 594.24 L278.50 594.11 L279.55 593.98 L280.60 593.85 L281.65 593.72 L282.70 593.59 L283.75 593.46 L284.80 593.33 L285.85 593.20 L286.90 593.07 L287.95 592.94 L289.00 592.81 L290.05 592.68 L291.10 592.56 L292.16 592.43 L293.21 592.31 L294.26 592.19 L295.31 592.07 L296.36 591.95 L297.41 591.83 L298.46 591.72 L299.51 591.60 L300.56 591.49 L301.61 591.37 L302.66 591.25 L303.71 591.13 L304.76 591.01 L305.81 590.89 L306.86 590.77 L307.91 590.64 L308.96 590.51 L310.01 590.38 L311.06 590.24 L312.12 590.10 L313.17 589.96 L314.22 589.82 L315.27 589.67 L316.32 589.53 L317.37 589.38 L318.42 589.23 L319.47 589.07 L320.52 588.91 L321.57 588.76 L322.62 588.59 L323.67 588.43 L324.72 588.26 L325.77 588.09 L326.82 587.92 L327.87 587.74 L328.92 587.56 L329.97 587.38 L331.03 587.19 L332.08 587.00 L333.13 586.80 L334.18 586.60 L335.23 586.40 L336.28 586.20 L337.33 585.99 L338.38 585.77 L339.43 585.55 L340.48 585.33 L341.53 585.09 L342.58 584.85 L343.63 584.61 L344.68 584.35 L345.73 584.09 L346.78 583.82 L347.83 583.54 L348.88 583.25 L349.94 582.95 L350.99 582.63 L352.04 582.29 L353.09 581.94 L354.14 581.58 L355.19 581.20 L356.24 580.82 L357.29 580.42 L358.34 580.01 L359.39 579.59 L360.44 579.16 L361.49 578.72 L362.54 578.28" fill="none" stroke="#ff0000" stroke-width="2.40" stroke-linecap="butt" stroke-linejoin="miter"/>
<path d="M90.45 716.51 L90.70 716.53 L90.72 716.54 L90.95 716.61 L90.98 716.62 L91.20 716.72 L91.25 716.75 L91.44 716.87 L91.52 716.93 L91.69 717.17 L91.78 717.36 L91.94 717.79 L92.05 718.15 L92.19 718.66 L92.32 719.17 L92.44 719.69 L92.58 720.37 L92.69 721.02 L92.85 722.28 L92.93 723.00 L93.02 723.70 M94.11 731.83 L94.18 732.25 L94.18 732.30 L94.42 733.86 L94.45 734.02 L94.67 735.39 L94.72 735.65 L94.92 736.87 L94.98 737.23 L95.17 738.32 L95.25 738.78 L95.42 739.77 L95.52 740.34 L95.67 741.24 L95.78 741.95 L95.92 742.80 L95.94 742.98 M97.46 751.03 L97.65 751.75 L97.65 751.77 L97.90 752.64 L97.92 752.69 L98.15 753.45 L98.18 753.54 L98.40 754.16 L98.45 754.30 L98.65 754.77 L98.72 754.91 L98.90 755.23 L98.98 755.36 L99.14 755.54 L99.25 755.62 L99.39 755.67 L99.52 755.66 L99.64 755.59 L99.78 755.45 L99.89 755.30 L100.05 755.02 L100.14 754.84 L100.32 754.41 L100.39 754.21 L100.58 753.63 L100.63 753.46 L100.85 752.72 L100.88 752.59 L101.12 751.70 L101.13 751.64 L101.38 750.63 L101.38 750.62 L101.52 750.05 M102.56 741.93 L102.62 741.14 L102.72 738.65 L102.87 732.87 L102.95 730.63 M103.29 722.44 L103.37 720.61 L103.52 717.44 L103.62 715.51 L103.78 712.60 L103.86 711.39 L103.88 711.16 M104.67 703.00 L104.85 701.49 L104.86 701.41 L105.11 699.48 L105.12 699.42 L105.35 697.73 L105.38 697.55 L105.60 696.15 L105.65 695.88 L105.85 694.72 L105.91 694.38 L106.10 693.43 L106.18 693.02 L106.35 692.23 L106.43 691.84 M108.71 683.97 L108.83 683.61 L108.85 683.57 L109.08 682.91 L109.11 682.82 L109.33 682.24 L109.38 682.10 L109.58 681.59 L109.65 681.40 L109.83 680.95 L109.91 680.73 L110.07 680.34 L110.18 680.08 L110.32 679.74 L110.45 679.44 L110.57 679.16 L110.71 678.83 L110.82 678.59 L110.98 678.23 L111.07 678.03 L111.25 677.64 L111.32 677.49 L111.51 677.07 L111.57 676.96 L111.78 676.50 L111.81 676.44 L112.05 675.95 L112.06 675.92 L112.31 675.41 L112.31 675.41 L112.56 674.91 L112.58 674.87 L112.81 674.41 L112.85 674.33 L113.06 673.92 L113.11 673.80 L113.21 673.61 M117.05 666.38 L117.11 666.29 L117.28 666.05 L117.38 665.91 L117.53 665.72 L117.65 665.57 L117.78 665.42 L117.91 665.25 L118.02 665.13 L118.18 664.95 L118.27 664.85 L118.45 664.66 L118.52 664.58 L118.71 664.37 L118.77 664.32 L118.98 664.10 L119.02 664.06 L119.25 663.83 L119.27 663.81 L119.51 663.58 L119.51 663.58 L119.76 663.34 L119.78 663.33 L120.01 663.12 L120.05 663.09 L120.26 662.90 L120.31 662.85 L120.51 662.68 L120.58 662.62 L120.76 662.47 L120.85 662.40 L121.00 662.27 L121.11 662.18 L121.25 662.07 L121.38 661.97 L121.50 661.87 L121.65 661.76 L121.75 661.68 L121.91 661.56 L122.00 661.49 L122.18 661.35 L122.25 661.30 L122.45 661.16 L122.50 661.12 L122.71 660.96 L122.74 660.94 L122.98 660.77 L122.99 660.76 L123.24 660.58 L123.25 660.57 L123.49 660.40 L123.51 660.38 L123.74 660.22 L123.78 660.19 L123.99 660.04 L124.05 659.99 L124.23 659.86 L124.31 659.80 L124.48 659.68 L124.58 659.60 L124.73 659.49 L124.85 659.41 L124.98 659.31 L125.11 659.21 L125.38 659.01 L125.48 658.93 M131.90 653.83 L132.05 653.73 L132.31 653.52 L132.58 653.32 L132.85 653.12 L133.11 652.92 L133.38 652.73 L133.65 652.53 L133.91 652.34 L134.18 652.14 L134.45 651.95 L134.71 651.77 L134.98 651.58 L135.24 651.40 L135.51 651.22 L135.78 651.04 L136.04 650.86 L136.31 650.68 L136.58 650.51 L136.84 650.34 L137.11 650.17 L137.38 650.00 L137.64 649.83 L137.91 649.67 L138.18 649.50 L138.44 649.34 L138.71 649.18 L138.98 649.02 L139.24 648.86 L139.51 648.70 L139.78 648.54 L140.04 648.39 L140.31 648.23 L140.58 648.08 L140.84 647.92 L141.11 647.77 L141.34 647.64 M148.60 643.82 L148.84 643.71 L149.11 643.59 L149.38 643.47 L149.64 643.35 L149.91 643.23 L150.18 643.12 L150.44 643.00 L150.71 642.88 L150.98 642.77 L151.24 642.65 L151.51 642.53 L151.78 642.41 L152.04 642.29 L152.31 642.17 L152.58 642.05 L152.84 641.93 L153.11 641.80 L153.38 641.68 L153.64 641.55 L153.91 641.42 L154.18 641.29 L154.44 641.15 L154.71 641.01 L154.98 640.87 L155.24 640.72 L155.51 640.58 L155.78 640.42 L156.04 640.27 L156.31 640.11 L156.58 639.94 L156.84 639.78 L157.11 639.60 L157.38 639.42 L157.64 639.23 L157.91 639.04 L158.18 638.84 L158.44 638.64 L158.56 638.55" fill="none" stroke="#ffd000" stroke-width="2.40" stroke-linecap="butt" stroke-linejoin="round"/>
<path d="M159.51 637.78 L160.29 637.11 L160.36 637.05 M166.24 631.34 L166.53 631.06 L167.31 630.28 L168.09 629.47 L168.87 628.63 L169.65 627.76 L170.43 626.88 L171.21 625.98 L171.99 625.08 L172.77 624.18 L173.55 623.29 L173.83 622.97 M179.73 617.29 L179.79 617.25 L180.57 616.60 L181.35 615.98 L182.13 615.36 L182.91 614.76 L183.69 614.16 L184.47 613.57 L185.25 612.99 L186.03 612.42 L186.81 611.84 L187.59 611.27 L188.37 610.70 L188.71 610.44 M195.42 605.72 L196.16 605.28 L196.94 604.84 L197.72 604.43 L198.50 604.03 L199.28 603.63 L200.06 603.25 L200.84 602.87 L201.62 602.50 L202.40 602.15 L203.18 601.82 L203.96 601.50 L204.74 601.20 L205.52 600.93 L205.62 600.90 M213.61 599.10 L214.10 599.02 L214.88 598.92 L215.66 598.83 L216.44 598.76 L217.22 598.71 L218.00 598.69 L218.78 598.69 L219.56 598.69 L220.34 598.69 L221.12 598.69 L221.90 598.69 L222.68 598.69 L223.46 598.69 L224.24 598.69 L224.89 598.69 M233.08 598.91 L233.60 598.94 L234.38 599.01 L235.16 599.07 L235.94 599.13 L236.72 599.19 L237.50 599.24 L238.28 599.29 L239.06 599.33 L239.84 599.37 L240.62 599.41 L241.40 599.46 L242.18 599.50 L242.96 599.54 L243.74 599.59 L244.36 599.62 M252.55 600.02 L253.10 600.04 L253.88 600.06 L254.66 600.08 L255.44 600.09 L256.22 600.11 L257.00 600.11 L257.78 600.12 L258.56 600.12 L259.34 600.11 L260.12 600.11 L260.90 600.10 L261.68 600.10 L262.46 600.09 L263.24 600.08 L263.85 600.07 M272.05 599.91 L272.60 599.90 L273.38 599.88 L274.16 599.86 L274.94 599.84 L275.72 599.83 L276.50 599.81 L277.28 599.79 L278.06 599.78 L278.84 599.76 L279.62 599.74 L280.40 599.72 L281.18 599.70 L281.95 599.68 L282.73 599.66 L283.34 599.64 M291.54 599.41 L292.09 599.39 L292.87 599.37 L293.65 599.34 L294.43 599.32 L295.21 599.29 L295.99 599.27 L296.77 599.25 L297.55 599.23 L298.33 599.20 L299.11 599.18 L299.89 599.16 L300.67 599.14 L301.45 599.11 L302.23 599.09 L302.84 599.07 M311.03 598.80 L311.59 598.78 L312.37 598.75 L313.15 598.71 L313.93 598.68 L314.71 598.64 L315.49 598.61 L316.27 598.57 L317.05 598.53 L317.83 598.49 L318.61 598.44 L319.39 598.39 L320.17 598.33 L320.95 598.28 L321.73 598.21 L322.31 598.16 M330.47 597.34 L331.09 597.26 L331.87 597.17 L332.65 597.08 L333.43 596.99 L334.21 596.89 L334.99 596.80 L335.77 596.70 L336.55 596.60 L337.33 596.51 L338.11 596.41 L338.89 596.31 L339.67 596.20 L340.45 596.10 L341.23 595.99 L341.68 595.93 M349.77 594.59 L349.81 594.58 L350.59 594.43 L351.37 594.27 L352.15 594.10 L352.93 593.93 L353.71 593.75 L354.49 593.55 L355.27 593.34 L356.05 593.11 L356.83 592.87 L357.61 592.62 L358.39 592.36 L359.17 592.09 L359.95 591.82 L360.64 591.57" fill="none" stroke="#ffd000" stroke-width="2.40" stroke-linecap="butt" stroke-linejoin="round"/>
</g>
<path d="M107.71 567.36 v6.50 M107.71 741.43 v-6.50 M124.98 567.36 v6.50 M124.98 741.43 v-6.50 M142.24 567.36 v6.50 M142.24 741.43 v-6.50 M159.51 567.36 v13.00 M159.51 741.43 v-13.00 M176.77 567.36 v6.50 M176.77 741.43 v-6.50 M194.04 567.36 v6.50 M194.04 741.43 v-6.50 M211.30 567.36 v6.50 M211.30 741.43 v-6.50 M228.57 567.36 v13.00 M228.57 741.43 v-13.00 M245.83 567.36 v6.50 M245.83 741.43 v-6.50 M263.10 567.36 v6.50 M263.10 741.43 v-6.50 M280.36 567.36 v6.50 M280.36 741.43 v-6.50 M297.63 567.36 v13.00 M297.63 741.43 v-13.00 M314.89 567.36 v6.50 M314.89 741.43 v-6.50 M332.16 567.36 v6.50 M332.16 741.43 v-6.50 M349.42 567.36 v6.50 M349.42 741.43 v-6.50 M366.69 567.36 v13.00 M366.69 741.43 v-13.00 M383.95 567.36 v6.50 M383.95 741.43 v-6.50 M90.45 733.52 h5.90 M383.95 733.52 h-5.90 M90.45 725.61 h12.00 M383.95 725.61 h-12.00 M90.45 717.69 h5.90 M383.95 717.69 h-5.90 M90.45 709.78 h5.90 M383.95 709.78 h-5.90 M90.45 701.87 h5.90 M383.95 701.87 h-5.90 M90.45 693.96 h12.00 M383.95 693.96 h-12.00 M90.45 686.04 h5.90 M383.95 686.04 h-5.90 M90.45 678.13 h5.90 M383.95 678.13 h-5.90 M90.45 670.22 h5.90 M383.95 670.22 h-5.90 M90.45 662.31 h12.00 M383.95 662.31 h-12.00 M90.45 654.39 h5.90 M383.95 654.39 h-5.90 M90.45 646.48 h5.90 M383.95 646.48 h-5.90 M90.45 638.57 h5.90 M383.95 638.57 h-5.90 M90.45 630.66 h12.00 M383.95 630.66 h-12.00 M90.45 622.75 h5.90 M383.95 622.75 h-5.90 M90.45 614.83 h5.90 M383.95 614.83 h-5.90 M90.45 606.92 h5.90 M383.95 606.92 h-5.90 M90.45 599.01 h12.00 M383.95 599.01 h-12.00 M90.45 591.10 h5.90 M383.95 591.10 h-5.90 M90.45 583.18 h5.90 M383.95 583.18 h-5.90 M90.45 575.27 h5.90 M383.95 575.27 h-5.90" stroke="#000" stroke-width="1.05" fill="none"/>
<rect x="90.45" y="567.36" width="293.50" height="174.07" fill="none" stroke="#000" stroke-width="1.05"/>
<text x="99.25" y="598.56" class="t">max</text>
<path d="M493.10 203.40 H786.60" stroke="#000" stroke-width="1.1" fill="none" stroke-dasharray="11.3 3.85 2.5 3.9" stroke-dashoffset="15.5"/>
<path d="M493.10 192.32 V201.81 M489.90 192.32 h6.4 M489.90 201.81 h6.4 M495.86 192.32 V201.81 M492.66 192.32 h6.4 M492.66 201.81 h6.4 M498.80 185.99 V201.81 M495.60 185.99 h6.4 M495.60 201.81 h6.4 M502.25 173.17 V195.32 M499.05 173.17 h6.4 M499.05 195.32 h6.4 M499.49 165.42 V174.91 M496.29 165.42 h6.4 M496.29 174.91 h6.4 M501.04 153.07 V163.20 M497.84 153.07 h6.4 M497.84 163.20 h6.4 M504.15 154.34 V163.83 M500.95 154.34 h6.4 M500.95 163.83 h6.4 M505.88 161.78 V174.44 M502.68 161.78 h6.4 M502.68 174.44 h6.4 M507.60 159.09 V168.58 M504.40 159.09 h6.4 M504.40 168.58 h6.4 M508.98 144.53 V160.35 M505.78 144.53 h6.4 M505.78 160.35 h6.4 M514.85 152.28 V173.80 M511.65 152.28 h6.4 M511.65 173.80 h6.4 M516.93 177.68 V191.61 M513.73 177.68 h6.4 M513.73 191.61 h6.4 M520.38 159.24 V170.32 M517.18 159.24 h6.4 M517.18 170.32 h6.4 M518.65 145.32 V157.98 M515.45 145.32 h6.4 M515.45 157.98 h6.4 M516.58 141.36 V154.02 M513.38 141.36 h6.4 M513.38 154.02 h6.4 M519.86 136.62 V146.11 M516.66 136.62 h6.4 M516.66 146.11 h6.4 M522.80 129.65 V142.31 M519.60 129.65 h6.4 M519.60 142.31 h6.4 M525.56 125.22 V139.47 M522.36 125.22 h6.4 M522.36 139.47 h6.4 M527.97 120.47 V137.24 M524.77 120.47 h6.4 M524.77 137.24 h6.4 M530.67 110.38 V140.13 M527.47 110.38 h6.4 M527.47 140.13 h6.4 M533.84 112.88 V130.29 M530.64 112.88 h6.4 M530.64 130.29 h6.4 M537.16 87.75 V151.05 M533.96 87.75 h6.4 M533.96 151.05 h6.4 M539.89 81.54 V153.70 M536.69 81.54 h6.4 M536.69 153.70 h6.4 M543.17 90.39 V140.71 M539.97 90.39 h6.4 M539.97 140.71 h6.4 M546.28 101.83 V125.57 M543.08 101.83 h6.4 M543.08 125.57 h6.4 M549.04 102.37 V121.99 M545.84 102.37 h6.4 M545.84 121.99 h6.4 M552.15 102.57 V120.30 M548.95 102.57 h6.4 M548.95 120.30 h6.4 M555.25 102.31 V120.03 M552.05 102.31 h6.4 M552.05 120.03 h6.4 M558.36 102.91 V120.63 M555.16 102.91 h6.4 M555.16 120.63 h6.4 M561.47 103.69 V121.41 M558.27 103.69 h6.4 M558.27 121.41 h6.4 M564.40 104.95 V122.67 M561.20 104.95 h6.4 M561.20 122.67 h6.4 M567.34 106.35 V124.07 M564.14 106.35 h6.4 M564.14 124.07 h6.4 M570.27 108.98 V124.81 M567.07 108.98 h6.4 M567.07 124.81 h6.4 M573.21 111.44 V127.27 M570.01 111.44 h6.4 M570.01 127.27 h6.4 M576.14 114.78 V130.60 M572.94 114.78 h6.4 M572.94 130.60 h6.4 M579.42 109.40 V125.22 M576.22 109.40 h6.4 M576.22 125.22 h6.4 M582.36 95.79 V111.61 M579.16 95.79 h6.4 M579.16 111.61 h6.4 M585.47 91.18 V107.00 M582.27 91.18 h6.4 M582.27 107.00 h6.4 M588.75 83.94 V99.76 M585.55 83.94 h6.4 M585.55 99.76 h6.4 M592.03 80.05 V95.87 M588.83 80.05 h6.4 M588.83 95.87 h6.4 M595.31 75.69 V91.51 M592.11 75.69 h6.4 M592.11 91.51 h6.4 M598.59 71.08 V86.90 M595.39 71.08 h6.4 M595.39 86.90 h6.4 M601.87 70.47 V86.29 M598.67 70.47 h6.4 M598.67 86.29 h6.4 M605.15 73.95 V89.78 M601.95 73.95 h6.4 M601.95 89.78 h6.4 M608.43 77.27 V93.09 M605.23 77.27 h6.4 M605.23 93.09 h6.4 M611.71 78.91 V96.32 M608.51 78.91 h6.4 M608.51 96.32 h6.4 M614.99 80.76 V98.16 M611.79 80.76 h6.4 M611.79 98.16 h6.4 M618.27 82.00 V99.40 M615.07 82.00 h6.4 M615.07 99.40 h6.4 M621.55 63.68 V119.07 M618.35 63.68 h6.4 M618.35 119.07 h6.4 M624.66 66.99 V116.04 M621.46 66.99 h6.4 M621.46 116.04 h6.4 M628.46 76.11 V106.49 M625.26 76.11 h6.4 M625.26 106.49 h6.4 M631.91 63.61 V117.41 M628.71 63.61 h6.4 M628.71 117.41 h6.4 M641.92 82.81 V100.54 M638.72 82.81 h6.4 M638.72 100.54 h6.4 M651.94 80.76 V98.48 M648.74 80.76 h6.4 M648.74 98.48 h6.4 M659.19 77.59 V95.00 M655.99 77.59 h6.4 M655.99 95.00 h6.4 M669.20 76.17 V93.57 M666.00 76.17 h6.4 M666.00 93.57 h6.4 M677.83 75.06 V92.15 M674.63 75.06 h6.4 M674.63 92.15 h6.4 M687.16 72.68 V89.78 M683.96 72.68 h6.4 M683.96 89.78 h6.4 M695.10 72.68 V89.78 M691.90 72.68 h6.4 M691.90 89.78 h6.4 M703.38 73.63 V90.72 M700.18 73.63 h6.4 M700.18 90.72 h6.4 M712.02 71.42 V88.51 M708.82 71.42 h6.4 M708.82 88.51 h6.4 M720.99 68.89 V86.29 M717.79 68.89 h6.4 M717.79 86.29 h6.4 M729.63 70.63 V82.97 M726.43 70.63 h6.4 M726.43 82.97 h6.4 M739.12 68.89 V81.23 M735.92 68.89 h6.4 M735.92 81.23 h6.4 M748.62 67.30 V79.33 M745.42 67.30 h6.4 M745.42 79.33 h6.4 M756.21 63.66 V76.32 M753.01 63.66 h6.4 M753.01 76.32 h6.4 M764.85 68.89 V76.80 M761.65 68.89 h6.4 M761.65 76.80 h6.4" stroke="#000" stroke-width="1.05" fill="none"/>
<circle cx="493.10" cy="197.07" r="3.1" fill="#000"/>
<circle cx="495.86" cy="197.07" r="3.1" fill="#000"/>
<circle cx="498.80" cy="193.90" r="3.1" fill="#000"/>
<circle cx="502.25" cy="184.25" r="3.1" fill="#000"/>
<circle cx="499.49" cy="170.16" r="3.1" fill="#000"/>
<circle cx="501.04" cy="158.14" r="3.1" fill="#000"/>
<circle cx="504.15" cy="159.09" r="3.1" fill="#000"/>
<circle cx="505.88" cy="168.11" r="3.1" fill="#000"/>
<circle cx="507.60" cy="163.83" r="3.1" fill="#000"/>
<circle cx="508.98" cy="152.44" r="3.1" fill="#000"/>
<circle cx="514.85" cy="163.04" r="3.1" fill="#000"/>
<circle cx="516.93" cy="184.64" r="3.1" fill="#000"/>
<circle cx="520.38" cy="164.78" r="3.1" fill="#000"/>
<circle cx="518.65" cy="151.65" r="3.1" fill="#000"/>
<circle cx="516.58" cy="147.69" r="3.1" fill="#000"/>
<circle cx="519.86" cy="141.36" r="3.1" fill="#000"/>
<circle cx="522.80" cy="135.98" r="3.1" fill="#000"/>
<circle cx="525.56" cy="132.34" r="3.1" fill="#000"/>
<circle cx="527.97" cy="128.85" r="3.1" fill="#000"/>
<circle cx="530.67" cy="125.25" r="3.1" fill="#000"/>
<circle cx="533.84" cy="121.58" r="3.1" fill="#000"/>
<circle cx="537.16" cy="119.40" r="3.1" fill="#000"/>
<circle cx="539.89" cy="117.62" r="3.1" fill="#000"/>
<circle cx="543.17" cy="115.55" r="3.1" fill="#000"/>
<circle cx="546.28" cy="113.70" r="3.1" fill="#000"/>
<circle cx="549.04" cy="112.18" r="3.1" fill="#000"/>
<circle cx="552.15" cy="111.44" r="3.1" fill="#000"/>
<circle cx="555.25" cy="111.17" r="3.1" fill="#000"/>
<circle cx="558.36" cy="111.77" r="3.1" fill="#000"/>
<circle cx="561.47" cy="112.55" r="3.1" fill="#000"/>
<circle cx="564.40" cy="113.81" r="3.1" fill="#000"/>
<circle cx="567.34" cy="115.21" r="3.1" fill="#000"/>
<circle cx="570.27" cy="116.89" r="3.1" fill="#000"/>
<circle cx="573.21" cy="119.35" r="3.1" fill="#000"/>
<circle cx="576.14" cy="122.69" r="3.1" fill="#000"/>
<circle cx="579.42" cy="117.31" r="3.1" fill="#000"/>
<circle cx="582.36" cy="103.70" r="3.1" fill="#000"/>
<circle cx="585.47" cy="99.09" r="3.1" fill="#000"/>
<circle cx="588.75" cy="91.85" r="3.1" fill="#000"/>
<circle cx="592.03" cy="87.96" r="3.1" fill="#000"/>
<circle cx="595.31" cy="83.60" r="3.1" fill="#000"/>
<circle cx="598.59" cy="78.99" r="3.1" fill="#000"/>
<circle cx="601.87" cy="78.38" r="3.1" fill="#000"/>
<circle cx="605.15" cy="81.86" r="3.1" fill="#000"/>
<circle cx="608.43" cy="85.18" r="3.1" fill="#000"/>
<circle cx="611.71" cy="87.62" r="3.1" fill="#000"/>
<circle cx="614.99" cy="89.46" r="3.1" fill="#000"/>
<circle cx="618.27" cy="90.70" r="3.1" fill="#000"/>
<circle cx="621.55" cy="91.38" r="3.1" fill="#000"/>
<circle cx="624.66" cy="91.52" r="3.1" fill="#000"/>
<circle cx="628.46" cy="91.30" r="3.1" fill="#000"/>
<circle cx="631.91" cy="90.51" r="3.1" fill="#000"/>
<circle cx="641.92" cy="91.67" r="3.1" fill="#000"/>
<circle cx="651.94" cy="89.62" r="3.1" fill="#000"/>
<circle cx="659.19" cy="86.29" r="3.1" fill="#000"/>
<circle cx="669.20" cy="84.87" r="3.1" fill="#000"/>
<circle cx="677.83" cy="83.60" r="3.1" fill="#000"/>
<circle cx="687.16" cy="81.23" r="3.1" fill="#000"/>
<circle cx="695.10" cy="81.23" r="3.1" fill="#000"/>
<circle cx="703.38" cy="82.18" r="3.1" fill="#000"/>
<circle cx="712.02" cy="79.96" r="3.1" fill="#000"/>
<circle cx="720.99" cy="77.59" r="3.1" fill="#000"/>
<circle cx="729.63" cy="76.80" r="3.1" fill="#000"/>
<circle cx="739.12" cy="75.06" r="3.1" fill="#000"/>
<circle cx="748.62" cy="73.32" r="3.1" fill="#000"/>
<circle cx="756.21" cy="69.99" r="3.1" fill="#000"/>
<circle cx="764.85" cy="72.84" r="3.1" fill="#000"/>
<g clip-path="url(#c10)">
<path d="M493.10 196.27 L493.35 195.10 L493.60 193.96 L493.85 192.84 L494.09 191.72 L494.14 191.50 L494.34 190.59 L494.59 189.47 L494.84 188.34 L495.09 187.22 L495.19 186.78 L495.34 186.11 L495.58 185.01 L495.83 183.93 L496.08 182.87 L496.23 182.25 L496.33 181.83 L496.58 180.83 L496.83 179.86 L497.07 178.92 L497.27 178.22 L497.32 178.03 L497.57 177.18 L497.82 176.38 L498.07 175.63 L498.31 174.92 L498.32 174.91 L498.57 174.22 L498.81 173.58 L499.06 172.96 L499.31 172.37 L499.36 172.27 L499.56 171.81 L499.81 171.27 L500.06 170.75 L500.30 170.26 L500.40 170.08 L500.55 169.78 L500.80 169.32 L501.05 168.87 L501.30 168.42 L501.44 168.17 L501.55 167.99 L501.79 167.56 L502.04 167.14 L502.29 166.71 L502.48 166.38 L502.54 166.29 L502.79 165.86 L502.98 165.53 M507.78 157.66 L508.00 157.39 L508.25 157.09 L508.50 156.79 L508.74 156.51 L508.75 156.49 L509.00 156.20 L509.25 155.90 L509.50 155.60 L509.74 155.31 L509.78 155.27 L509.99 155.01 L510.24 154.72 L510.49 154.43 L510.74 154.14 L510.82 154.03 L510.99 153.84 L511.23 153.55 L511.48 153.26 L511.73 152.97 L511.87 152.81 L511.98 152.68 L512.23 152.39 L512.48 152.10 L512.72 151.81 L512.91 151.60 L512.97 151.52 L513.22 151.23 L513.47 150.94 L513.72 150.66 L513.95 150.39 L513.97 150.37 L514.22 150.08 L514.46 149.79 L514.71 149.50 L514.96 149.22 L514.99 149.18 L515.21 148.93 L515.46 148.64 L515.71 148.35 L515.95 148.06 L516.04 147.97 L516.20 147.77 L516.45 147.49 L516.70 147.20 L516.95 146.91 L517.08 146.76 L517.20 146.63 L517.44 146.34 L517.69 146.06 L517.94 145.77 L518.12 145.57 L518.19 145.49 L518.44 145.21 L518.69 144.92 L518.93 144.64 L519.16 144.39 L519.18 144.36 L519.43 144.09 L519.68 143.81 L519.93 143.54 L520.18 143.26 L520.21 143.23 L520.43 142.99 L520.67 142.73 L520.92 142.47 L521.17 142.22 L521.25 142.14 L521.42 141.97 L521.67 141.72 L521.92 141.48 L522.16 141.24 L522.29 141.12 L522.41 141.01 L522.66 140.78 L522.91 140.55 L523.16 140.32 L523.33 140.17 L523.41 140.10 L523.65 139.89 L523.90 139.67 L524.15 139.46 L524.38 139.27 L524.40 139.25 L524.65 139.04 L524.90 138.83 L525.15 138.63 L525.39 138.43 L525.42 138.41 L525.64 138.23 L525.89 138.03 L526.14 137.83 L526.39 137.64 L526.46 137.58 M530.67 134.34 L531.67 133.58 L532.72 132.81 L533.76 132.05 L534.80 131.32 L535.84 130.60 L536.89 129.92 L537.93 129.26 L538.97 128.64 L540.01 128.03 L541.06 127.43 L542.10 126.84 L543.14 126.25 L544.18 125.66 L545.23 125.08 L546.27 124.51 L547.31 123.93 L548.36 123.35 L549.40 122.76 L550.44 122.17 L551.48 121.58 L552.53 120.97 L552.94 120.73 M560.78 115.88 L560.87 115.84 L561.91 115.40 L562.95 114.96 L563.99 114.52 L565.04 114.08 L566.08 113.64 L567.12 113.21 L568.16 112.77 L569.21 112.34 L570.25 111.90 L571.29 111.47 L572.33 111.03 L573.38 110.59 L574.42 110.15 L575.46 109.72 L576.50 109.28 L577.55 108.84 L578.59 108.40 L579.63 107.96 L580.67 107.52 L581.72 107.08 L582.76 106.64 L583.80 106.21 L584.84 105.77 L585.89 105.34 L586.61 105.05 M593.72 102.38 L594.23 102.19 L595.27 101.80 L596.31 101.41 L597.35 101.02 L598.40 100.63 L599.44 100.24 L600.48 99.85 L601.53 99.46 L602.57 99.07 L603.61 98.68 L604.65 98.30 L605.70 97.91 L606.74 97.52 L607.78 97.14 L608.82 96.75 L609.87 96.37 L610.91 95.99 L611.95 95.62 L612.99 95.25 L614.04 94.90 L615.08 94.56 L616.12 94.23 L617.16 93.92 L618.21 93.62 L619.25 93.34 L620.29 93.07 L620.41 93.04 M628.59 91.31 L628.63 91.30 L629.67 91.09 L630.72 90.88 L631.76 90.67 L632.80 90.46 L633.84 90.26 L634.89 90.05 L635.93 89.84 L636.97 89.64 L638.01 89.43 L639.06 89.23 L640.10 89.02 L641.14 88.82 L642.18 88.61 L643.23 88.41 L644.27 88.20 L645.31 88.00 L646.35 87.79 L647.40 87.58 L648.44 87.36 L649.48 87.14 L650.52 86.91 L651.57 86.68 L652.61 86.45 L653.65 86.21 L654.66 85.99 M662.85 83.95 L663.04 83.91 L664.08 83.69 L665.12 83.48 L666.16 83.27 L667.21 83.06 L668.25 82.86 L669.29 82.66 L670.33 82.47 L671.38 82.28 L672.42 82.09 L673.46 81.90 L674.50 81.72 L675.55 81.54 L676.59 81.36 L677.63 81.19 L678.67 81.02 L679.72 80.85 L680.76 80.68 L681.80 80.51 L682.84 80.35 L683.89 80.19 L684.93 80.03 L685.97 79.87 L687.01 79.71 L688.06 79.55 L689.10 79.40 L690.14 79.24 L690.54 79.18 M699.72 77.89 L700.57 77.78 L701.61 77.65 L702.65 77.52 L703.69 77.39 L704.74 77.26 L705.78 77.13 L706.82 77.01 L707.86 76.88 L708.91 76.75 L709.95 76.63 L710.99 76.50 L712.04 76.38 L713.08 76.25 L714.12 76.13 L715.16 76.01 L716.21 75.88 L717.25 75.76 L718.29 75.64 L719.33 75.52 L720.38 75.40 L721.42 75.28 L722.46 75.16 L723.50 75.04 L724.55 74.93 L725.59 74.81 L726.28 74.73 M735.60 73.78 L736.01 73.73 L737.06 73.61 L738.10 73.49 L739.14 73.36 L740.18 73.24 L741.23 73.11 L742.27 72.98 L743.31 72.84 L744.35 72.71 L745.40 72.57 L746.44 72.43 L747.48 72.29 L748.52 72.15 L749.57 72.00 L750.61 71.86 L751.65 71.71 L752.69 71.56 L753.74 71.41 L754.78 71.26 L755.82 71.10 L756.86 70.95 L757.91 70.79 L758.95 70.63 L759.99 70.48 L761.03 70.32 L762.08 70.16 L763.12 69.99" fill="none" stroke="#0000f5" stroke-width="2.55" stroke-linecap="butt" stroke-linejoin="round"/>
</g>
<path d="M510.36 45.15 v6.50 M510.36 219.22 v-6.50 M527.63 45.15 v6.50 M527.63 219.22 v-6.50 M544.89 45.15 v6.50 M544.89 219.22 v-6.50 M562.16 45.15 v13.00 M562.16 219.22 v-13.00 M579.42 45.15 v6.50 M579.42 219.22 v-6.50 M596.69 45.15 v6.50 M596.69 219.22 v-6.50 M613.95 45.15 v6.50 M613.95 219.22 v-6.50 M631.22 45.15 v13.00 M631.22 219.22 v-13.00 M648.48 45.15 v6.50 M648.48 219.22 v-6.50 M665.75 45.15 v6.50 M665.75 219.22 v-6.50 M683.01 45.15 v6.50 M683.01 219.22 v-6.50 M700.28 45.15 v13.00 M700.28 219.22 v-13.00 M717.54 45.15 v6.50 M717.54 219.22 v-6.50 M734.81 45.15 v6.50 M734.81 219.22 v-6.50 M752.07 45.15 v6.50 M752.07 219.22 v-6.50 M769.34 45.15 v13.00 M769.34 219.22 v-13.00 M786.60 45.15 v6.50 M786.60 219.22 v-6.50 M493.10 211.31 h5.90 M786.60 211.31 h-5.90 M493.10 203.40 h12.00 M786.60 203.40 h-12.00 M493.10 195.48 h5.90 M786.60 195.48 h-5.90 M493.10 187.57 h5.90 M786.60 187.57 h-5.90 M493.10 179.66 h5.90 M786.60 179.66 h-5.90 M493.10 171.75 h12.00 M786.60 171.75 h-12.00 M493.10 163.83 h5.90 M786.60 163.83 h-5.90 M493.10 155.92 h5.90 M786.60 155.92 h-5.90 M493.10 148.01 h5.90 M786.60 148.01 h-5.90 M493.10 140.10 h12.00 M786.60 140.10 h-12.00 M493.10 132.19 h5.90 M786.60 132.19 h-5.90 M493.10 124.27 h5.90 M786.60 124.27 h-5.90 M493.10 116.36 h5.90 M786.60 116.36 h-5.90 M493.10 108.45 h12.00 M786.60 108.45 h-12.00 M493.10 100.54 h5.90 M786.60 100.54 h-5.90 M493.10 92.62 h5.90 M786.60 92.62 h-5.90 M493.10 84.71 h5.90 M786.60 84.71 h-5.90 M493.10 76.80 h12.00 M786.60 76.80 h-12.00 M493.10 68.89 h5.90 M786.60 68.89 h-5.90 M493.10 60.97 h5.90 M786.60 60.97 h-5.90 M493.10 53.06 h5.90 M786.60 53.06 h-5.90" stroke="#000" stroke-width="1.05" fill="none"/>
<rect x="493.10" y="45.15" width="293.50" height="174.07" fill="none" stroke="#000" stroke-width="1.05"/>
<text x="501.90" y="76.35" class="t">zero</text>
<path d="M493.10 377.47 H786.60" stroke="#000" stroke-width="1.1" fill="none" stroke-dasharray="11.3 3.85 2.5 3.9" stroke-dashoffset="15.5"/>
<path d="M493.10 366.39 V375.88 M489.90 366.39 h6.4 M489.90 375.88 h6.4 M495.86 366.39 V375.88 M492.66 366.39 h6.4 M492.66 375.88 h6.4 M498.80 360.06 V375.88 M495.60 360.06 h6.4 M495.60 375.88 h6.4 M502.25 347.24 V369.39 M499.05 347.24 h6.4 M499.05 369.39 h6.4 M499.49 339.49 V348.98 M496.29 339.49 h6.4 M496.29 348.98 h6.4 M501.04 327.14 V337.27 M497.84 327.14 h6.4 M497.84 337.27 h6.4 M504.15 328.41 V337.90 M500.95 328.41 h6.4 M500.95 337.90 h6.4 M505.88 335.85 V348.51 M502.68 335.85 h6.4 M502.68 348.51 h6.4 M507.60 333.16 V342.65 M504.40 333.16 h6.4 M504.40 342.65 h6.4 M508.98 318.60 V334.42 M505.78 318.60 h6.4 M505.78 334.42 h6.4 M514.85 326.35 V347.87 M511.65 326.35 h6.4 M511.65 347.87 h6.4 M516.93 351.75 V365.68 M513.73 351.75 h6.4 M513.73 365.68 h6.4 M520.38 333.31 V344.39 M517.18 333.31 h6.4 M517.18 344.39 h6.4 M518.65 319.39 V332.05 M515.45 319.39 h6.4 M515.45 332.05 h6.4 M516.58 315.43 V328.09 M513.38 315.43 h6.4 M513.38 328.09 h6.4 M519.86 310.69 V320.18 M516.66 310.69 h6.4 M516.66 320.18 h6.4 M522.80 303.72 V316.38 M519.60 303.72 h6.4 M519.60 316.38 h6.4 M525.56 299.29 V313.54 M522.36 299.29 h6.4 M522.36 313.54 h6.4 M527.97 294.54 V311.31 M524.77 294.54 h6.4 M524.77 311.31 h6.4 M530.67 284.45 V314.20 M527.47 284.45 h6.4 M527.47 314.20 h6.4 M533.84 286.95 V304.36 M530.64 286.95 h6.4 M530.64 304.36 h6.4 M537.16 261.82 V325.12 M533.96 261.82 h6.4 M533.96 325.12 h6.4 M539.89 255.61 V327.77 M536.69 255.61 h6.4 M536.69 327.77 h6.4 M543.17 264.46 V314.78 M539.97 264.46 h6.4 M539.97 314.78 h6.4 M546.28 275.90 V299.64 M543.08 275.90 h6.4 M543.08 299.64 h6.4 M549.04 276.44 V296.06 M545.84 276.44 h6.4 M545.84 296.06 h6.4 M552.15 276.64 V294.37 M548.95 276.64 h6.4 M548.95 294.37 h6.4 M555.25 276.38 V294.10 M552.05 276.38 h6.4 M552.05 294.10 h6.4 M558.36 276.98 V294.70 M555.16 276.98 h6.4 M555.16 294.70 h6.4 M561.47 277.76 V295.48 M558.27 277.76 h6.4 M558.27 295.48 h6.4 M564.40 279.02 V296.74 M561.20 279.02 h6.4 M561.20 296.74 h6.4 M567.34 280.42 V298.14 M564.14 280.42 h6.4 M564.14 298.14 h6.4 M570.27 283.05 V298.88 M567.07 283.05 h6.4 M567.07 298.88 h6.4 M573.21 285.51 V301.34 M570.01 285.51 h6.4 M570.01 301.34 h6.4 M576.14 288.85 V304.67 M572.94 288.85 h6.4 M572.94 304.67 h6.4 M579.42 283.47 V299.29 M576.22 283.47 h6.4 M576.22 299.29 h6.4 M582.36 269.86 V285.68 M579.16 269.86 h6.4 M579.16 285.68 h6.4 M585.47 265.25 V281.07 M582.27 265.25 h6.4 M582.27 281.07 h6.4 M588.75 258.01 V273.83 M585.55 258.01 h6.4 M585.55 273.83 h6.4 M592.03 254.12 V269.94 M588.83 254.12 h6.4 M588.83 269.94 h6.4 M595.31 249.76 V265.58 M592.11 249.76 h6.4 M592.11 265.58 h6.4 M598.59 245.15 V260.97 M595.39 245.15 h6.4 M595.39 260.97 h6.4 M601.87 244.54 V260.36 M598.67 244.54 h6.4 M598.67 260.36 h6.4 M605.15 248.02 V263.85 M601.95 248.02 h6.4 M601.95 263.85 h6.4 M608.43 251.34 V267.16 M605.23 251.34 h6.4 M605.23 267.16 h6.4 M611.71 252.98 V270.39 M608.51 252.98 h6.4 M608.51 270.39 h6.4 M614.99 254.83 V272.23 M611.79 254.83 h6.4 M611.79 272.23 h6.4 M618.27 256.07 V273.47 M615.07 256.07 h6.4 M615.07 273.47 h6.4 M621.55 237.75 V293.14 M618.35 237.75 h6.4 M618.35 293.14 h6.4 M624.66 241.06 V290.11 M621.46 241.06 h6.4 M621.46 290.11 h6.4 M628.46 250.18 V280.56 M625.26 250.18 h6.4 M625.26 280.56 h6.4 M631.91 237.68 V291.48 M628.71 237.68 h6.4 M628.71 291.48 h6.4 M641.92 256.88 V274.61 M638.72 256.88 h6.4 M638.72 274.61 h6.4 M651.94 254.83 V272.55 M648.74 254.83 h6.4 M648.74 272.55 h6.4 M659.19 251.66 V269.07 M655.99 251.66 h6.4 M655.99 269.07 h6.4 M669.20 250.24 V267.64 M666.00 250.24 h6.4 M666.00 267.64 h6.4 M677.83 249.13 V266.22 M674.63 249.13 h6.4 M674.63 266.22 h6.4 M687.16 246.75 V263.85 M683.96 246.75 h6.4 M683.96 263.85 h6.4 M695.10 246.75 V263.85 M691.90 246.75 h6.4 M691.90 263.85 h6.4 M703.38 247.70 V264.79 M700.18 247.70 h6.4 M700.18 264.79 h6.4 M712.02 245.49 V262.58 M708.82 245.49 h6.4 M708.82 262.58 h6.4 M720.99 242.96 V260.36 M717.79 242.96 h6.4 M717.79 260.36 h6.4 M729.63 244.70 V257.04 M726.43 244.70 h6.4 M726.43 257.04 h6.4 M739.12 242.96 V255.30 M735.92 242.96 h6.4 M735.92 255.30 h6.4 M748.62 241.37 V253.40 M745.42 241.37 h6.4 M745.42 253.40 h6.4 M756.21 237.73 V250.39 M753.01 237.73 h6.4 M753.01 250.39 h6.4 M764.85 242.96 V250.87 M761.65 242.96 h6.4 M761.65 250.87 h6.4" stroke="#000" stroke-width="1.05" fill="none"/>
<circle cx="493.10" cy="371.14" r="3.1" fill="#000"/>
<circle cx="495.86" cy="371.14" r="3.1" fill="#000"/>
<circle cx="498.80" cy="367.97" r="3.1" fill="#000"/>
<circle cx="502.25" cy="358.32" r="3.1" fill="#000"/>
<circle cx="499.49" cy="344.23" r="3.1" fill="#000"/>
<circle cx="501.04" cy="332.21" r="3.1" fill="#000"/>
<circle cx="504.15" cy="333.16" r="3.1" fill="#000"/>
<circle cx="505.88" cy="342.18" r="3.1" fill="#000"/>
<circle cx="507.60" cy="337.90" r="3.1" fill="#000"/>
<circle cx="508.98" cy="326.51" r="3.1" fill="#000"/>
<circle cx="514.85" cy="337.11" r="3.1" fill="#000"/>
<circle cx="516.93" cy="358.71" r="3.1" fill="#000"/>
<circle cx="520.38" cy="338.85" r="3.1" fill="#000"/>
<circle cx="518.65" cy="325.72" r="3.1" fill="#000"/>
<circle cx="516.58" cy="321.76" r="3.1" fill="#000"/>
<circle cx="519.86" cy="315.43" r="3.1" fill="#000"/>
<circle cx="522.80" cy="310.05" r="3.1" fill="#000"/>
<circle cx="525.56" cy="306.41" r="3.1" fill="#000"/>
<circle cx="527.97" cy="302.92" r="3.1" fill="#000"/>
<circle cx="530.67" cy="299.32" r="3.1" fill="#000"/>
<circle cx="533.84" cy="295.65" r="3.1" fill="#000"/>
<circle cx="537.16" cy="293.47" r="3.1" fill="#000"/>
<circle cx="539.89" cy="291.69" r="3.1" fill="#000"/>
<circle cx="543.17" cy="289.62" r="3.1" fill="#000"/>
<circle cx="546.28" cy="287.77" r="3.1" fill="#000"/>
<circle cx="549.04" cy="286.25" r="3.1" fill="#000"/>
<circle cx="552.15" cy="285.51" r="3.1" fill="#000"/>
<circle cx="555.25" cy="285.24" r="3.1" fill="#000"/>
<circle cx="558.36" cy="285.84" r="3.1" fill="#000"/>
<circle cx="561.47" cy="286.62" r="3.1" fill="#000"/>
<circle cx="564.40" cy="287.88" r="3.1" fill="#000"/>
<circle cx="567.34" cy="289.28" r="3.1" fill="#000"/>
<circle cx="570.27" cy="290.96" r="3.1" fill="#000"/>
<circle cx="573.21" cy="293.42" r="3.1" fill="#000"/>
<circle cx="576.14" cy="296.76" r="3.1" fill="#000"/>
<circle cx="579.42" cy="291.38" r="3.1" fill="#000"/>
<circle cx="582.36" cy="277.77" r="3.1" fill="#000"/>
<circle cx="585.47" cy="273.16" r="3.1" fill="#000"/>
<circle cx="588.75" cy="265.92" r="3.1" fill="#000"/>
<circle cx="592.03" cy="262.03" r="3.1" fill="#000"/>
<circle cx="595.31" cy="257.67" r="3.1" fill="#000"/>
<circle cx="598.59" cy="253.06" r="3.1" fill="#000"/>
<circle cx="601.87" cy="252.45" r="3.1" fill="#000"/>
<circle cx="605.15" cy="255.93" r="3.1" fill="#000"/>
<circle cx="608.43" cy="259.25" r="3.1" fill="#000"/>
<circle cx="611.71" cy="261.69" r="3.1" fill="#000"/>
<circle cx="614.99" cy="263.53" r="3.1" fill="#000"/>
<circle cx="618.27" cy="264.77" r="3.1" fill="#000"/>
<circle cx="621.55" cy="265.45" r="3.1" fill="#000"/>
<circle cx="624.66" cy="265.59" r="3.1" fill="#000"/>
<circle cx="628.46" cy="265.37" r="3.1" fill="#000"/>
<circle cx="631.91" cy="264.58" r="3.1" fill="#000"/>
<circle cx="641.92" cy="265.74" r="3.1" fill="#000"/>
<circle cx="651.94" cy="263.69" r="3.1" fill="#000"/>
<circle cx="659.19" cy="260.36" r="3.1" fill="#000"/>
<circle cx="669.20" cy="258.94" r="3.1" fill="#000"/>
<circle cx="677.83" cy="257.67" r="3.1" fill="#000"/>
<circle cx="687.16" cy="255.30" r="3.1" fill="#000"/>
<circle cx="695.10" cy="255.30" r="3.1" fill="#000"/>
<circle cx="703.38" cy="256.25" r="3.1" fill="#000"/>
<circle cx="712.02" cy="254.03" r="3.1" fill="#000"/>
<circle cx="720.99" cy="251.66" r="3.1" fill="#000"/>
<circle cx="729.63" cy="250.87" r="3.1" fill="#000"/>
<circle cx="739.12" cy="249.13" r="3.1" fill="#000"/>
<circle cx="748.62" cy="247.39" r="3.1" fill="#000"/>
<circle cx="756.21" cy="244.06" r="3.1" fill="#000"/>
<circle cx="764.85" cy="246.91" r="3.1" fill="#000"/>
<g clip-path="url(#c11)">
<path d="M494.28 376.53 L494.34 376.52 L494.41 376.51 L494.59 376.48 L494.84 376.45 L494.85 376.45 L495.09 376.42 L495.29 376.39 L495.34 376.38 L495.58 376.35 L495.72 376.33 L495.83 376.31 L496.08 376.27 L496.16 376.26 L496.33 376.23 L496.58 376.18 L496.60 376.17 L496.65 376.16 M500.34 375.48 L500.53 375.46 L500.55 375.46 L500.80 375.44 L500.97 375.43 L501.05 375.42 L501.30 375.41 L501.41 375.41 L501.55 375.41 L501.79 375.41 L501.85 375.41 L502.04 375.41 L502.28 375.41 L502.29 375.41 L502.54 375.42 L502.72 375.42 L502.73 375.42 M506.48 375.64 L506.51 375.65 L506.66 375.66 L506.76 375.67 L507.01 375.70 L507.09 375.71 L507.26 375.73 L507.51 375.76 L507.53 375.77 L507.76 375.82 L507.97 375.88 L508.00 375.90 L508.25 375.99 L508.40 376.05 L508.50 376.09 L508.75 376.21 L508.78 376.23 M511.66 378.60 L511.73 378.65 L511.90 378.76 L511.98 378.81 L512.23 378.95 L512.34 379.00 L512.48 379.06 L512.72 379.17 L512.78 379.19 L512.97 379.27 L513.22 379.36 L513.22 379.36 L513.47 379.45 L513.65 379.51 L513.72 379.54 L513.84 379.58 M517.47 380.54 L517.59 380.56 L517.69 380.59 L517.94 380.64 L518.03 380.66 L518.19 380.70 L518.44 380.76 L518.46 380.76 L518.69 380.81 L518.90 380.87 L518.93 380.87 L519.18 380.94 L519.34 380.97 L519.43 381.00 L519.68 381.06 L519.77 381.09 L519.80 381.09 M523.47 381.84 L523.65 381.86 L523.71 381.86 L523.90 381.88 L524.15 381.89 L524.15 381.89 L524.40 381.90 L524.58 381.90 L524.65 381.90 L524.90 381.89 L525.02 381.88 L525.15 381.88 L525.39 381.86 L525.46 381.86 L525.64 381.84 L525.87 381.82 M529.56 381.16 L529.83 381.10 L530.27 381.02 L530.71 380.95 L531.14 380.88 L531.58 380.81 L531.92 380.76 M535.62 380.16 L535.95 380.11 L536.39 380.05 L536.83 379.99 L537.27 379.94 L537.70 379.89 L538.00 379.85 M541.73 379.44 L542.08 379.41 L542.51 379.39 L542.95 379.37 L543.39 379.36 L543.82 379.37 L544.13 379.40 M547.74 380.39 L547.76 380.40 L548.20 380.52 L548.64 380.62 L549.07 380.70 L549.51 380.76 L549.95 380.81 L550.09 380.83 M553.83 381.19 L553.88 381.20 L554.32 381.22 L554.76 381.24 L555.19 381.25 L555.63 381.26 L556.07 381.26 L556.22 381.25 M559.78 380.15 L560.00 380.05 L560.44 379.83 L560.88 379.56 L561.32 379.20 L561.74 378.80 M563.84 375.71 L563.94 375.52 L564.38 374.70 L564.81 374.02 L565.12 373.70 M568.31 371.77 L568.75 371.58 L569.19 371.40 L569.62 371.21 L570.06 371.01 L570.50 370.79 L570.50 370.79 M573.88 369.15 L574.00 369.10 L574.43 368.89 L574.87 368.67 L575.31 368.46 L575.75 368.24 L576.03 368.10 M579.35 366.35 L579.68 366.17 L580.12 365.93 L580.56 365.70 L580.99 365.47 L581.43 365.24 L581.47 365.22 M584.83 363.55 L584.93 363.50 L585.37 363.28 L585.80 363.07 L586.24 362.85 L586.68 362.63 L586.98 362.49 M590.32 360.79 L590.61 360.63 L591.05 360.41 L591.49 360.18 L591.93 359.95 L592.36 359.71 L592.44 359.67 M595.69 357.80 L595.86 357.69 L596.30 357.44 L596.74 357.18 L597.17 356.92 L597.61 356.67 L597.77 356.59 M601.05 354.78 L601.11 354.75 L601.55 354.52 L601.98 354.30 L602.42 354.09 L602.86 353.88 L603.21 353.73" fill="none" stroke="#00ff00" stroke-width="2.60" stroke-linecap="butt" stroke-linejoin="round"/>
<path d="M609.27 351.49 L609.39 351.47 L610.00 351.34 L610.60 351.22 L611.21 351.10 L611.62 351.02 M615.34 350.60 L615.46 350.60 L616.06 350.60 L616.67 350.61 L617.28 350.63 L617.74 350.64 M621.49 350.82 L621.52 350.82 L622.13 350.85 L622.73 350.88 L623.34 350.90 L623.88 350.93 M627.63 351.15 L628.19 351.20 L628.80 351.28 L629.41 351.38 L630.00 351.50 M633.64 352.41 L633.65 352.41 L634.26 352.55 L634.87 352.69 L635.47 352.84 L635.97 352.97 M639.63 353.79 L639.72 353.80 L640.33 353.87 L640.93 353.93 L641.54 353.98 L642.02 354.02 M645.76 354.22 L645.79 354.22 L646.39 354.22 L647.00 354.21 L647.61 354.19 L648.16 354.17 M651.90 353.91 L652.46 353.87 L653.06 353.82 L653.67 353.76 L654.28 353.69 L654.29 353.69 M658.00 353.15 L658.52 353.07 L659.13 352.97 L659.74 352.86 L660.34 352.75 L660.37 352.74 M664.04 351.97 L664.59 351.86 L665.20 351.73 L665.80 351.60 L666.38 351.48 M670.05 350.67 L670.05 350.67 L670.66 350.52 L671.26 350.36 L671.87 350.19 L672.36 350.04 M675.93 348.88 L676.12 348.82 L676.72 348.63 L677.33 348.45 L677.94 348.28 L678.23 348.20 M681.85 347.24 L682.18 347.15 L682.79 346.99 L683.39 346.82 L684.00 346.65 L684.17 346.61 M687.78 345.60 L688.25 345.46 L688.85 345.29 L689.46 345.12 L690.07 344.94 L690.09 344.93 M693.68 343.85 L693.71 343.84 L694.31 343.67 L694.92 343.49 L695.53 343.32 L695.99 343.20 M699.61 342.23 L699.77 342.18 L700.38 342.03 L700.99 341.87 L701.59 341.71 L701.93 341.62 M705.56 340.67 L705.84 340.60 L706.45 340.45 L707.05 340.31 L707.66 340.17 L707.89 340.12 M711.57 339.37 L711.90 339.30 L712.51 339.17 L713.12 339.04 L713.72 338.89 L713.91 338.85 M717.54 337.88 L717.97 337.77 L718.58 337.61 L719.18 337.45 L719.79 337.30 L719.86 337.28 M723.50 336.39 L724.04 336.26 L724.64 336.12 L725.25 335.98 L725.84 335.84 M729.49 334.99 L729.50 334.99 L730.10 334.86 L730.71 334.74 L731.32 334.62 L731.84 334.52 M735.55 333.95 L735.56 333.95 L736.17 333.86 L736.77 333.77 L737.38 333.66 L737.92 333.57 M741.59 332.82 L741.63 332.81 L742.23 332.68 L742.84 332.56 L743.45 332.43 L743.94 332.33 M747.62 331.61 L747.69 331.59 L748.30 331.48 L748.91 331.37 L749.51 331.26 L749.98 331.18 M753.70 330.66 L753.76 330.66 L754.37 330.57 L754.97 330.47 L755.58 330.36 L756.06 330.27 M759.67 329.23 L759.83 329.18 L760.43 328.97 L761.04 328.76 L761.65 328.55 L761.94 328.46" fill="none" stroke="#00ff00" stroke-width="2.60" stroke-linecap="butt" stroke-linejoin="round"/>
<path d="M494.57 364.72 L494.59 364.65 L494.84 363.48 L495.09 362.27 L495.20 361.71 L495.34 361.05 L495.58 359.81 L495.83 358.57 L496.08 357.35 L496.25 356.51 L496.33 356.13 L496.58 354.95 L496.83 353.79 L497.07 352.68 L497.30 351.71 L497.32 351.63 L497.57 350.63 L497.82 349.70 L498.07 348.82 L498.32 347.99 L498.35 347.88 L498.57 347.21 L498.81 346.48 L499.06 345.79 L499.31 345.14 L499.40 344.91 L499.56 344.52 L499.81 343.94 L500.06 343.39 L500.30 342.87 L500.45 342.57 L500.55 342.37 L500.80 341.90 L501.05 341.44 L501.30 341.00 L501.50 340.64 L501.55 340.57 L501.79 340.15 L502.04 339.73 L502.29 339.32 L502.54 338.92 L502.55 338.89 L502.59 338.83 M507.25 331.36 L507.26 331.35 L507.51 331.00 L507.76 330.65 L507.81 330.58 L508.00 330.31 L508.25 329.97 L508.50 329.62 L508.75 329.28 L508.86 329.14 L509.00 328.94 L509.25 328.60 L509.50 328.27 L509.74 327.93 L509.91 327.71 L509.99 327.59 L510.24 327.26 L510.49 326.93 L510.74 326.61 L510.96 326.32 L510.99 326.28 L511.23 325.96 L511.48 325.64 L511.73 325.33 L511.98 325.02 L512.01 324.98 L512.23 324.71 L512.48 324.41 L512.72 324.11 L512.97 323.82 L513.06 323.72 L513.22 323.54 L513.47 323.25 L513.72 322.98 L513.97 322.71 L514.11 322.55 L514.22 322.44 L514.46 322.18 L514.71 321.92 L514.96 321.66 L515.16 321.45 L515.21 321.40 L515.46 321.14 L515.71 320.89 L515.95 320.64 L516.20 320.40 L516.21 320.39 L516.45 320.16 L516.70 319.92 L516.95 319.68 L517.20 319.44 L517.26 319.38 L517.44 319.21 L517.69 318.99 L517.94 318.76 L518.19 318.54 L518.31 318.43 L518.44 318.32 L518.69 318.11 L518.93 317.90 L519.18 317.69 L519.36 317.55 L519.43 317.49 L519.68 317.29 L519.93 317.10 L520.18 316.90 L520.41 316.72 L520.43 316.71 L520.67 316.52 L520.92 316.33 L521.17 316.14 L521.42 315.95 L521.46 315.92 L521.67 315.77 L521.92 315.58 L522.16 315.39 L522.41 315.20 L522.52 315.13 L522.66 315.02 L522.91 314.83 L523.16 314.65 L523.41 314.46 L523.57 314.35 L523.65 314.28 L523.90 314.10 L524.15 313.92 L524.40 313.74 L524.62 313.58 L524.65 313.56 L524.90 313.38 L525.15 313.20 L525.39 313.02 L525.64 312.85 L525.67 312.83 L525.89 312.67 L526.14 312.50 L526.39 312.32 L526.48 312.26 M533.81 307.39 L534.07 307.22 L535.12 306.56 L536.17 305.92 L537.22 305.30 L538.27 304.71 L539.32 304.14 L540.37 303.59 L541.43 303.07 L542.48 302.56 L543.53 302.06 L544.58 301.56 L545.63 301.08 L546.68 300.60 L547.73 300.12 L548.78 299.65 L549.83 299.18 L550.88 298.71 L551.93 298.24 L552.98 297.77 L554.03 297.30 L555.08 296.82 L556.13 296.34 L557.18 295.85 L558.23 295.34 L558.27 295.33 M566.01 291.15 L566.64 290.87 L567.69 290.41 L568.74 289.95 L569.79 289.51 L570.84 289.08 L571.89 288.66 L572.94 288.25 L573.99 287.85 L575.04 287.46 L576.09 287.08 L577.14 286.70 L578.19 286.34 L579.24 285.99 L580.30 285.64 L581.35 285.30 L582.40 284.98 L583.45 284.66 L584.50 284.35 L585.55 284.05 L586.60 283.75 L587.65 283.47 L588.70 283.19 L589.75 282.92 L590.80 282.66 L591.83 282.42 M600.39 280.37 L601.31 280.15 L602.36 279.90 L603.41 279.64 L604.46 279.39 L605.51 279.14 L606.56 278.89 L607.61 278.64 L608.66 278.38 L609.71 278.13 L610.76 277.88 L611.81 277.63 L612.86 277.38 L613.91 277.12 L614.96 276.87 L616.01 276.62 L617.06 276.37 L618.12 276.11 L619.17 275.86 L620.22 275.61 L621.27 275.36 L622.32 275.11 L623.37 274.85 L624.42 274.60 L625.47 274.35 L626.52 274.10 L626.93 274.00 M635.51 272.03 L635.97 271.96 L637.02 271.81 L638.08 271.66 L639.13 271.51 L640.18 271.36 L641.23 271.21 L642.28 271.06 L643.33 270.91 L644.38 270.76 L645.43 270.61 L646.48 270.46 L647.53 270.31 L648.58 270.16 L649.63 270.02 L650.68 269.87 L651.73 269.72 L652.78 269.57 L653.83 269.42 L654.88 269.27 L655.93 269.12 L656.99 268.97 L658.04 268.82 L659.09 268.67 L660.14 268.52 L661.19 268.37 L662.24 268.22 L662.54 268.18 M671.20 266.65 L671.69 266.57 L672.74 266.40 L673.79 266.23 L674.84 266.06 L675.90 265.90 L676.95 265.73 L678.00 265.57 L679.05 265.41 L680.10 265.25 L681.15 265.10 L682.20 264.95 L683.25 264.80 L684.30 264.65 L685.35 264.51 L686.40 264.37 L687.45 264.23 L688.50 264.10 L689.55 263.97 L690.60 263.85 L691.65 263.73 L692.70 263.61 L693.75 263.50 L694.81 263.39 L695.86 263.29 L696.91 263.20 L697.96 263.10 L698.26 263.08 M707.04 262.56 L707.41 262.53 L708.46 262.45 L709.51 262.37 L710.56 262.29 L711.61 262.21 L712.66 262.13 L713.71 262.05 L714.77 261.96 L715.82 261.88 L716.87 261.80 L717.92 261.72 L718.97 261.64 L720.02 261.55 L721.07 261.47 L722.12 261.39 L723.17 261.30 L724.22 261.22 L725.27 261.13 L726.32 261.04 L727.37 260.96 L728.42 260.87 L729.47 260.78 L730.52 260.69 L731.57 260.59 L732.62 260.50 L733.68 260.40 L734.25 260.35 M743.02 259.55 L743.13 259.54 L744.18 259.44 L745.23 259.34 L746.28 259.25 L747.33 259.15 L748.38 259.06 L749.43 258.96 L750.48 258.86 L751.53 258.77 L752.59 258.67 L753.64 258.57 L754.69 258.48 L755.74 258.38 L756.79 258.29 L757.84 258.19 L758.89 258.09 L759.94 258.00 L760.99 257.90 L762.04 257.80 L763.09 257.71 L764.14 257.61 L765.19 257.52" fill="none" stroke="#0000f5" stroke-width="2.55" stroke-linecap="butt" stroke-linejoin="round"/>
<path d="M493.10 374.62 L493.35 374.99 L493.60 375.37 L493.85 375.77 L494.09 376.18 L494.15 376.28 L494.34 376.61 L494.59 377.04 L494.84 377.49 L495.09 377.98 L495.20 378.21 L495.34 378.51 L495.58 379.07 L495.83 379.62 L496.08 380.14 L496.25 380.46 L496.33 380.60 L496.58 380.98 L496.83 381.31 L497.07 381.62 L497.30 381.89 L497.32 381.92 L497.35 381.95 M504.45 382.60 L504.53 382.52 L504.64 382.38 L504.78 382.21 L505.02 381.86 L505.27 381.44 L505.52 380.97 L505.69 380.52 L505.77 380.25 L506.02 379.21 L506.27 378.05 L506.51 376.90 L506.74 375.70 L506.76 375.57 L507.01 374.16 L507.26 372.87 L507.51 371.87 L507.51 371.86 M512.57 365.51 L512.72 365.39 L512.97 365.20 L513.04 365.15 L513.22 365.02 L513.47 364.85 L513.72 364.68 L513.97 364.52 L514.08 364.44 L514.22 364.36 L514.46 364.20 L514.71 364.05 L514.96 363.89 L515.13 363.79 L515.21 363.75 L515.46 363.60 L515.71 363.45 L515.95 363.31 L516.18 363.18 L516.20 363.17 L516.45 363.04 L516.70 362.90 L516.95 362.77 L517.20 362.64 L517.23 362.62 L517.44 362.51 L517.69 362.39 L517.94 362.27 L518.19 362.15 L518.28 362.10 L518.44 362.03 L518.69 361.91 L518.93 361.80 L519.18 361.68 L519.33 361.62 L519.43 361.57 L519.68 361.47 L519.93 361.36 L520.18 361.25 L520.38 361.17 L520.43 361.15 L520.67 361.05 L520.92 360.95 L521.17 360.85 L521.42 360.76 L521.43 360.75 L521.67 360.66 L521.92 360.57 L522.16 360.48 L522.41 360.39 L522.48 360.36 L522.57 360.33 M530.46 358.15 L530.87 358.05 L531.92 357.83 L532.97 357.62 L534.02 357.42 L535.07 357.22 L536.12 357.03 L537.17 356.84 L538.22 356.66 L539.27 356.47 L540.31 356.28 L541.36 356.08 L541.56 356.04 M549.58 354.30 L549.76 354.27 L550.81 354.06 L551.86 353.86 L552.91 353.67 L553.95 353.48 L555.00 353.30 L556.05 353.12 L557.10 352.94 L558.15 352.75 L559.20 352.57 L560.25 352.38 L560.70 352.29 M568.73 350.65 L569.69 350.44 L570.74 350.22 L571.79 349.99 L572.84 349.77 L573.89 349.54 L574.94 349.31 L575.99 349.08 L577.04 348.85 L578.09 348.62 L579.14 348.40 L579.78 348.26 M587.79 346.50 L588.58 346.35 L589.63 346.15 L590.68 345.95 L591.73 345.75 L592.78 345.56 L593.82 345.38 L594.87 345.20 L595.92 345.03 L596.97 344.86 L598.02 344.70 L598.92 344.58 M607.06 343.64 L607.46 343.59 L608.51 343.48 L609.56 343.36 L610.61 343.24 L611.66 343.12 L612.71 343.01 L613.76 342.89 L614.81 342.79 L615.86 342.69 L616.91 342.61 L617.96 342.54 L618.31 342.52 M626.50 342.20 L627.40 342.18 L628.45 342.18 L629.50 342.18 L630.55 342.18 L631.60 342.18 L632.65 342.18 L633.69 342.18 L634.74 342.18 L635.79 342.18 L636.84 342.18 L637.80 342.18 M646.00 342.22 L646.29 342.22 L647.33 342.23 L648.38 342.25 L649.43 342.27 L650.48 342.29 L651.53 342.30 L652.58 342.32 L653.63 342.34 L654.68 342.36 L655.73 342.38 L656.78 342.40 L657.30 342.41 M665.50 342.49 L666.22 342.49 L667.27 342.49 L668.32 342.49 L669.37 342.49 L670.42 342.49 L671.47 342.49 L672.52 342.49 L673.56 342.49 L674.61 342.49 L675.66 342.49 L676.71 342.49 L676.80 342.49 M685.00 342.49 L685.11 342.49 L686.16 342.49 L687.20 342.49 L688.25 342.49 L689.30 342.49 L690.35 342.49 L691.40 342.49 L692.45 342.49 L693.50 342.49 L694.55 342.49 L695.60 342.49 L696.30 342.49 M704.50 342.48 L705.04 342.48 L706.09 342.48 L707.14 342.47 L708.19 342.46 L709.24 342.46 L710.29 342.45 L711.34 342.44 L712.39 342.43 L713.43 342.42 L714.48 342.41 L715.53 342.40 L715.80 342.40 M724.00 342.29 L724.98 342.27 L726.03 342.24 L727.07 342.22 L728.12 342.19 L729.17 342.16 L730.22 342.13 L731.27 342.10 L732.32 342.06 L733.37 342.03 L734.42 341.99 L735.29 341.96 M743.49 341.66 L743.86 341.65 L744.91 341.60 L745.96 341.55 L747.01 341.50 L748.06 341.45 L749.11 341.40 L750.16 341.34 L751.21 341.28 L752.26 341.22 L753.31 341.15 L754.35 341.07 L754.77 341.04 M762.93 340.26 L763.80 340.16 L764.85 340.04" fill="none" stroke="#ffd000" stroke-width="2.40" stroke-linecap="butt" stroke-linejoin="round"/>
<path d="M493.10 371.14 L493.35 370.06 L493.60 368.96 L493.85 367.85 L494.09 366.74 L494.15 366.49 L494.34 365.61 L494.59 364.44 L494.84 363.24 L495.09 362.02 L495.20 361.47 L495.34 360.78 L495.58 359.53 L495.83 358.28 L496.08 357.04 L496.25 356.21 L496.33 355.81 L496.58 354.60 L496.83 353.43 L497.07 352.29 L497.30 351.31 L497.32 351.20 L497.57 350.16 L497.82 349.18 L498.07 348.26 L498.32 347.40 L498.35 347.30 L498.57 346.59 L498.81 345.83 L499.06 345.12 L499.31 344.45 L499.40 344.23 L499.56 343.81 L499.81 343.22 L500.06 342.66 L500.30 342.13 L500.44 341.84 L500.55 341.62 L500.80 341.14 L501.05 340.67 L501.30 340.23 L501.49 339.89 L501.55 339.79 L501.79 339.37 L502.04 338.96 L502.29 338.54 L502.54 338.13 L502.54 338.12 L502.79 337.71 L503.04 337.29 L503.28 336.87 L503.53 336.46 L503.59 336.36 L503.78 336.04 L504.03 335.62 L504.28 335.20 L504.53 334.79 L504.64 334.60 L504.78 334.38 L505.02 333.97 L505.27 333.56 L505.52 333.15 L505.69 332.88 L505.77 332.75 L506.02 332.35 L506.27 331.96 L506.51 331.57 L506.74 331.22 L506.76 331.19 L507.01 330.81 L507.26 330.43 L507.51 330.06 L507.76 329.70 L507.79 329.66 L508.00 329.34 L508.25 328.98 L508.50 328.63 L508.75 328.27 L508.84 328.14 L509.00 327.91 L509.25 327.55 L509.50 327.20 L509.74 326.84 L509.89 326.64 L509.99 326.49 L510.24 326.14 L510.49 325.79 L510.74 325.44 L510.94 325.17 L510.99 325.10 L511.23 324.76 L511.48 324.42 L511.73 324.08 L511.98 323.75 L511.99 323.75 L512.23 323.43 L512.48 323.10 L512.72 322.79 L512.97 322.47 L513.04 322.40 L513.22 322.16 L513.47 321.86 L513.72 321.56 L513.97 321.27 L514.08 321.13 L514.22 320.98 L514.46 320.70 L514.71 320.42 L514.96 320.14 L515.13 319.95 L515.21 319.87 L515.46 319.59 L515.71 319.33 L515.95 319.06 L516.18 318.83 L516.20 318.80 L516.45 318.55 L516.70 318.30 L516.95 318.05 L517.20 317.80 L517.23 317.77 L517.44 317.56 L517.69 317.32 L517.94 317.09 L518.19 316.86 L518.28 316.78 L518.44 316.64 L518.69 316.41 L518.93 316.19 L519.18 315.98 L519.33 315.85 L519.43 315.77 L519.68 315.56 L519.93 315.36 L520.18 315.16 L520.38 315.00 L520.43 314.96 L520.67 314.76 L520.92 314.57 L521.17 314.37 L521.42 314.17 L521.43 314.17 L521.67 313.98 L521.92 313.78 L522.16 313.59 L522.41 313.40 L522.48 313.35 L522.66 313.21 L522.91 313.02 L523.16 312.83 L523.41 312.64 L523.53 312.55 L523.65 312.45 L523.90 312.26 L524.15 312.08 L524.40 311.89 L524.58 311.76 L524.65 311.71 L524.90 311.52 L525.15 311.34 L525.39 311.16 L525.63 310.99 L525.64 310.98 L525.89 310.80 L526.14 310.62 L526.39 310.44 L526.64 310.27 L526.67 310.24 L526.88 310.09 L527.13 309.92 L527.38 309.75 L527.63 309.57 L527.72 309.51 L528.77 308.80 L529.82 308.09 L530.87 307.39 L531.92 306.71 L532.97 306.03 L534.02 305.36 L535.07 304.70 L536.12 304.06 L537.17 303.44 L538.22 302.84 L539.27 302.30 L540.31 301.83 L541.36 301.39 L542.41 300.89 L543.46 300.29 L544.51 299.66 L545.56 299.02 L546.61 298.37 L547.66 297.71 L548.71 297.05 L549.76 296.38 L550.81 295.72 L551.86 295.05 L552.91 294.40 L553.95 293.74 L555.00 293.10 L556.05 292.47 L557.10 291.85 L558.15 291.22 L559.20 290.60 L560.25 289.97 L561.30 289.35 L562.35 288.74 L563.40 288.12 L564.45 287.51 L565.50 286.91 L566.54 286.32 L567.59 285.73 L568.64 285.15 L569.69 284.58 L570.74 284.02 L571.79 283.48 L572.84 282.94 L573.89 282.40 L574.94 281.88 L575.99 281.36 L577.04 280.85 L578.09 280.34 L579.14 279.83 L580.18 279.33 L581.23 278.82 L582.28 278.32 L583.33 277.82 L584.38 277.32 L585.43 276.83 L586.48 276.34 L587.53 275.86 L588.58 275.38 L589.63 274.90 L590.68 274.43 L591.73 273.96 L592.78 273.49 L593.82 273.02 L594.87 272.56 L595.92 272.11 L596.97 271.65 L598.02 271.21 L599.07 270.77 L600.12 270.35 L601.17 269.94 L602.22 269.54 L603.27 269.16 L604.32 268.79 L605.37 268.44 L606.42 268.12 L607.46 267.81 L608.51 267.52 L609.56 267.26 L610.61 267.01 L611.66 266.78 L612.71 266.55 L613.76 266.33 L614.81 266.12 L615.86 265.92 L616.91 265.73 L617.96 265.55 L619.01 265.37 L620.05 265.19 L621.10 265.02 L622.15 264.86 L623.20 264.70 L624.25 264.54 L625.30 264.38 L626.35 264.23 L627.40 264.07 L628.45 263.92 L629.50 263.76 L630.55 263.61 L631.60 263.46 L632.65 263.32 L633.69 263.17 L634.74 263.03 L635.79 262.88 L636.84 262.75 L637.89 262.64 L638.94 262.54 L639.99 262.45 L641.04 262.36 L642.09 262.27 L643.14 262.19 L644.19 262.10 L645.24 262.00 L646.29 261.89 L647.33 261.76 L648.38 261.62 L649.43 261.45 L650.48 261.26 L651.53 261.06 L652.58 260.84 L653.63 260.62 L654.68 260.40 L655.73 260.17 L656.78 259.93 L657.83 259.69 L658.88 259.45 L659.93 259.21 L660.97 258.97 L662.02 258.73 L663.07 258.49 L664.12 258.25 L665.17 258.02 L666.22 257.79 L667.27 257.57 L668.32 257.35 L669.37 257.12 L670.42 256.89 L671.47 256.67 L672.52 256.44 L673.56 256.21 L674.61 255.99 L675.66 255.76 L676.71 255.54 L677.76 255.32 L678.81 255.11 L679.86 254.90 L680.91 254.70 L681.96 254.50 L683.01 254.31 L684.06 254.13 L685.11 253.95 L686.16 253.78 L687.20 253.61 L688.25 253.45 L689.30 253.29 L690.35 253.13 L691.40 252.97 L692.45 252.82 L693.50 252.67 L694.55 252.52 L695.60 252.37 L696.65 252.22 L697.70 252.07 L698.75 251.92 L699.80 251.78 L700.84 251.63 L701.89 251.48 L702.94 251.33 L703.99 251.18 L705.04 251.03 L706.09 250.88 L707.14 250.73 L708.19 250.58 L709.24 250.44 L710.29 250.29 L711.34 250.14 L712.39 249.99 L713.43 249.85 L714.48 249.70 L715.53 249.56 L716.58 249.42 L717.63 249.27 L718.68 249.13 L719.73 248.99 L720.78 248.86 L721.83 248.72 L722.88 248.58 L723.93 248.44 L724.98 248.30 L726.03 248.17 L727.07 248.03 L728.12 247.89 L729.17 247.76 L730.22 247.62 L731.27 247.48 L732.32 247.35 L733.37 247.21 L734.42 247.08 L735.47 246.94 L736.52 246.81 L737.57 246.67 L738.62 246.54 L739.67 246.41 L740.71 246.28 L741.76 246.15 L742.81 246.02 L743.86 245.89 L744.91 245.76 L745.96 245.62 L747.01 245.49 L748.06 245.36 L749.11 245.23 L750.16 245.09 L751.21 244.96 L752.26 244.82 L753.31 244.68 L754.35 244.53 L755.40 244.39 L756.45 244.24 L757.50 244.08 L758.55 243.93 L759.60 243.77 L760.65 243.61 L761.70 243.45 L762.75 243.29 L763.80 243.12 L764.85 242.96" fill="none" stroke="#ff0000" stroke-width="2.55" stroke-linecap="butt" stroke-linejoin="miter"/>
</g>
<path d="M510.36 219.22 v6.50 M510.36 393.29 v-6.50 M527.63 219.22 v6.50 M527.63 393.29 v-6.50 M544.89 219.22 v6.50 M544.89 393.29 v-6.50 M562.16 219.22 v13.00 M562.16 393.29 v-13.00 M579.42 219.22 v6.50 M579.42 393.29 v-6.50 M596.69 219.22 v6.50 M596.69 393.29 v-6.50 M613.95 219.22 v6.50 M613.95 393.29 v-6.50 M631.22 219.22 v13.00 M631.22 393.29 v-13.00 M648.48 219.22 v6.50 M648.48 393.29 v-6.50 M665.75 219.22 v6.50 M665.75 393.29 v-6.50 M683.01 219.22 v6.50 M683.01 393.29 v-6.50 M700.28 219.22 v13.00 M700.28 393.29 v-13.00 M717.54 219.22 v6.50 M717.54 393.29 v-6.50 M734.81 219.22 v6.50 M734.81 393.29 v-6.50 M752.07 219.22 v6.50 M752.07 393.29 v-6.50 M769.34 219.22 v13.00 M769.34 393.29 v-13.00 M786.60 219.22 v6.50 M786.60 393.29 v-6.50 M493.10 385.38 h5.90 M786.60 385.38 h-5.90 M493.10 377.47 h12.00 M786.60 377.47 h-12.00 M493.10 369.55 h5.90 M786.60 369.55 h-5.90 M493.10 361.64 h5.90 M786.60 361.64 h-5.90 M493.10 353.73 h5.90 M786.60 353.73 h-5.90 M493.10 345.82 h12.00 M786.60 345.82 h-12.00 M493.10 337.90 h5.90 M786.60 337.90 h-5.90 M493.10 329.99 h5.90 M786.60 329.99 h-5.90 M493.10 322.08 h5.90 M786.60 322.08 h-5.90 M493.10 314.17 h12.00 M786.60 314.17 h-12.00 M493.10 306.25 h5.90 M786.60 306.25 h-5.90 M493.10 298.34 h5.90 M786.60 298.34 h-5.90 M493.10 290.43 h5.90 M786.60 290.43 h-5.90 M493.10 282.52 h12.00 M786.60 282.52 h-12.00 M493.10 274.61 h5.90 M786.60 274.61 h-5.90 M493.10 266.69 h5.90 M786.60 266.69 h-5.90 M493.10 258.78 h5.90 M786.60 258.78 h-5.90 M493.10 250.87 h12.00 M786.60 250.87 h-12.00 M493.10 242.96 h5.90 M786.60 242.96 h-5.90 M493.10 235.04 h5.90 M786.60 235.04 h-5.90 M493.10 227.13 h5.90 M786.60 227.13 h-5.90" stroke="#000" stroke-width="1.05" fill="none"/>
<rect x="493.10" y="219.22" width="293.50" height="174.07" fill="none" stroke="#000" stroke-width="1.05"/>
<text x="501.90" y="250.42" class="t">min</text>
<path d="M493.10 551.54 H786.60" stroke="#000" stroke-width="1.1" fill="none" stroke-dasharray="11.3 3.85 2.5 3.9" stroke-dashoffset="15.5"/>
<path d="M493.10 540.46 V549.95 M489.90 540.46 h6.4 M489.90 549.95 h6.4 M495.86 540.46 V549.95 M492.66 540.46 h6.4 M492.66 549.95 h6.4 M498.80 534.13 V549.95 M495.60 534.13 h6.4 M495.60 549.95 h6.4 M502.25 521.31 V543.46 M499.05 521.31 h6.4 M499.05 543.46 h6.4 M499.49 513.56 V523.05 M496.29 513.56 h6.4 M496.29 523.05 h6.4 M501.04 501.21 V511.34 M497.84 501.21 h6.4 M497.84 511.34 h6.4 M504.15 502.48 V511.97 M500.95 502.48 h6.4 M500.95 511.97 h6.4 M505.88 509.92 V522.58 M502.68 509.92 h6.4 M502.68 522.58 h6.4 M507.60 507.23 V516.72 M504.40 507.23 h6.4 M504.40 516.72 h6.4 M508.98 492.67 V508.49 M505.78 492.67 h6.4 M505.78 508.49 h6.4 M514.85 500.42 V521.94 M511.65 500.42 h6.4 M511.65 521.94 h6.4 M516.93 525.82 V539.75 M513.73 525.82 h6.4 M513.73 539.75 h6.4 M520.38 507.38 V518.46 M517.18 507.38 h6.4 M517.18 518.46 h6.4 M518.65 493.46 V506.12 M515.45 493.46 h6.4 M515.45 506.12 h6.4 M516.58 489.50 V502.16 M513.38 489.50 h6.4 M513.38 502.16 h6.4 M519.86 484.76 V494.25 M516.66 484.76 h6.4 M516.66 494.25 h6.4 M522.80 477.79 V490.45 M519.60 477.79 h6.4 M519.60 490.45 h6.4 M525.56 473.36 V487.61 M522.36 473.36 h6.4 M522.36 487.61 h6.4 M527.97 468.61 V485.38 M524.77 468.61 h6.4 M524.77 485.38 h6.4 M530.67 458.52 V488.27 M527.47 458.52 h6.4 M527.47 488.27 h6.4 M533.84 461.02 V478.43 M530.64 461.02 h6.4 M530.64 478.43 h6.4 M537.16 435.89 V499.19 M533.96 435.89 h6.4 M533.96 499.19 h6.4 M539.89 429.68 V501.84 M536.69 429.68 h6.4 M536.69 501.84 h6.4 M543.17 438.53 V488.85 M539.97 438.53 h6.4 M539.97 488.85 h6.4 M546.28 449.97 V473.71 M543.08 449.97 h6.4 M543.08 473.71 h6.4 M549.04 450.51 V470.13 M545.84 450.51 h6.4 M545.84 470.13 h6.4 M552.15 450.71 V468.44 M548.95 450.71 h6.4 M548.95 468.44 h6.4 M555.25 450.45 V468.17 M552.05 450.45 h6.4 M552.05 468.17 h6.4 M558.36 451.05 V468.77 M555.16 451.05 h6.4 M555.16 468.77 h6.4 M561.47 451.83 V469.55 M558.27 451.83 h6.4 M558.27 469.55 h6.4 M564.40 453.09 V470.81 M561.20 453.09 h6.4 M561.20 470.81 h6.4 M567.34 454.49 V472.21 M564.14 454.49 h6.4 M564.14 472.21 h6.4 M570.27 457.12 V472.95 M567.07 457.12 h6.4 M567.07 472.95 h6.4 M573.21 459.58 V475.41 M570.01 459.58 h6.4 M570.01 475.41 h6.4 M576.14 462.92 V478.74 M572.94 462.92 h6.4 M572.94 478.74 h6.4 M579.42 457.54 V473.36 M576.22 457.54 h6.4 M576.22 473.36 h6.4 M582.36 443.93 V459.75 M579.16 443.93 h6.4 M579.16 459.75 h6.4 M585.47 439.32 V455.14 M582.27 439.32 h6.4 M582.27 455.14 h6.4 M588.75 432.08 V447.90 M585.55 432.08 h6.4 M585.55 447.90 h6.4 M592.03 428.19 V444.01 M588.83 428.19 h6.4 M588.83 444.01 h6.4 M595.31 423.83 V439.65 M592.11 423.83 h6.4 M592.11 439.65 h6.4 M598.59 419.22 V435.04 M595.39 419.22 h6.4 M595.39 435.04 h6.4 M601.87 418.61 V434.43 M598.67 418.61 h6.4 M598.67 434.43 h6.4 M605.15 422.09 V437.92 M601.95 422.09 h6.4 M601.95 437.92 h6.4 M608.43 425.41 V441.23 M605.23 425.41 h6.4 M605.23 441.23 h6.4 M611.71 427.05 V444.46 M608.51 427.05 h6.4 M608.51 444.46 h6.4 M614.99 428.90 V446.30 M611.79 428.90 h6.4 M611.79 446.30 h6.4 M618.27 430.14 V447.54 M615.07 430.14 h6.4 M615.07 447.54 h6.4 M621.55 411.82 V467.21 M618.35 411.82 h6.4 M618.35 467.21 h6.4 M624.66 415.13 V464.18 M621.46 415.13 h6.4 M621.46 464.18 h6.4 M628.46 424.25 V454.63 M625.26 424.25 h6.4 M625.26 454.63 h6.4 M631.91 411.75 V465.55 M628.71 411.75 h6.4 M628.71 465.55 h6.4 M641.92 430.95 V448.68 M638.72 430.95 h6.4 M638.72 448.68 h6.4 M651.94 428.90 V446.62 M648.74 428.90 h6.4 M648.74 446.62 h6.4 M659.19 425.73 V443.14 M655.99 425.73 h6.4 M655.99 443.14 h6.4 M669.20 424.31 V441.71 M666.00 424.31 h6.4 M666.00 441.71 h6.4 M677.83 423.20 V440.29 M674.63 423.20 h6.4 M674.63 440.29 h6.4 M687.16 420.82 V437.92 M683.96 420.82 h6.4 M683.96 437.92 h6.4 M695.10 420.82 V437.92 M691.90 420.82 h6.4 M691.90 437.92 h6.4 M703.38 421.77 V438.86 M700.18 421.77 h6.4 M700.18 438.86 h6.4 M712.02 419.56 V436.65 M708.82 419.56 h6.4 M708.82 436.65 h6.4 M720.99 417.03 V434.43 M717.79 417.03 h6.4 M717.79 434.43 h6.4 M729.63 418.77 V431.11 M726.43 418.77 h6.4 M726.43 431.11 h6.4 M739.12 417.03 V429.37 M735.92 417.03 h6.4 M735.92 429.37 h6.4 M748.62 415.44 V427.47 M745.42 415.44 h6.4 M745.42 427.47 h6.4 M756.21 411.80 V424.46 M753.01 411.80 h6.4 M753.01 424.46 h6.4 M764.85 417.03 V424.94 M761.65 417.03 h6.4 M761.65 424.94 h6.4" stroke="#000" stroke-width="1.05" fill="none"/>
<circle cx="493.10" cy="545.21" r="3.1" fill="#000"/>
<circle cx="495.86" cy="545.21" r="3.1" fill="#000"/>
<circle cx="498.80" cy="542.04" r="3.1" fill="#000"/>
<circle cx="502.25" cy="532.39" r="3.1" fill="#000"/>
<circle cx="499.49" cy="518.30" r="3.1" fill="#000"/>
<circle cx="501.04" cy="506.28" r="3.1" fill="#000"/>
<circle cx="504.15" cy="507.23" r="3.1" fill="#000"/>
<circle cx="505.88" cy="516.25" r="3.1" fill="#000"/>
<circle cx="507.60" cy="511.97" r="3.1" fill="#000"/>
<circle cx="508.98" cy="500.58" r="3.1" fill="#000"/>
<circle cx="514.85" cy="511.18" r="3.1" fill="#000"/>
<circle cx="516.93" cy="532.78" r="3.1" fill="#000"/>
<circle cx="520.38" cy="512.92" r="3.1" fill="#000"/>
<circle cx="518.65" cy="499.79" r="3.1" fill="#000"/>
<circle cx="516.58" cy="495.83" r="3.1" fill="#000"/>
<circle cx="519.86" cy="489.50" r="3.1" fill="#000"/>
<circle cx="522.80" cy="484.12" r="3.1" fill="#000"/>
<circle cx="525.56" cy="480.48" r="3.1" fill="#000"/>
<circle cx="527.97" cy="476.99" r="3.1" fill="#000"/>
<circle cx="530.67" cy="473.39" r="3.1" fill="#000"/>
<circle cx="533.84" cy="469.72" r="3.1" fill="#000"/>
<circle cx="537.16" cy="467.54" r="3.1" fill="#000"/>
<circle cx="539.89" cy="465.76" r="3.1" fill="#000"/>
<circle cx="543.17" cy="463.69" r="3.1" fill="#000"/>
<circle cx="546.28" cy="461.84" r="3.1" fill="#000"/>
<circle cx="549.04" cy="460.32" r="3.1" fill="#000"/>
<circle cx="552.15" cy="459.58" r="3.1" fill="#000"/>
<circle cx="555.25" cy="459.31" r="3.1" fill="#000"/>
<circle cx="558.36" cy="459.91" r="3.1" fill="#000"/>
<circle cx="561.47" cy="460.69" r="3.1" fill="#000"/>
<circle cx="564.40" cy="461.95" r="3.1" fill="#000"/>
<circle cx="567.34" cy="463.35" r="3.1" fill="#000"/>
<circle cx="570.27" cy="465.03" r="3.1" fill="#000"/>
<circle cx="573.21" cy="467.49" r="3.1" fill="#000"/>
<circle cx="576.14" cy="470.83" r="3.1" fill="#000"/>
<circle cx="579.42" cy="465.45" r="3.1" fill="#000"/>
<circle cx="582.36" cy="451.84" r="3.1" fill="#000"/>
<circle cx="585.47" cy="447.23" r="3.1" fill="#000"/>
<circle cx="588.75" cy="439.99" r="3.1" fill="#000"/>
<circle cx="592.03" cy="436.10" r="3.1" fill="#000"/>
<circle cx="595.31" cy="431.74" r="3.1" fill="#000"/>
<circle cx="598.59" cy="427.13" r="3.1" fill="#000"/>
<circle cx="601.87" cy="426.52" r="3.1" fill="#000"/>
<circle cx="605.15" cy="430.00" r="3.1" fill="#000"/>
<circle cx="608.43" cy="433.32" r="3.1" fill="#000"/>
<circle cx="611.71" cy="435.76" r="3.1" fill="#000"/>
<circle cx="614.99" cy="437.60" r="3.1" fill="#000"/>
<circle cx="618.27" cy="438.84" r="3.1" fill="#000"/>
<circle cx="621.55" cy="439.52" r="3.1" fill="#000"/>
<circle cx="624.66" cy="439.66" r="3.1" fill="#000"/>
<circle cx="628.46" cy="439.44" r="3.1" fill="#000"/>
<circle cx="631.91" cy="438.65" r="3.1" fill="#000"/>
<circle cx="641.92" cy="439.81" r="3.1" fill="#000"/>
<circle cx="651.94" cy="437.76" r="3.1" fill="#000"/>
<circle cx="659.19" cy="434.43" r="3.1" fill="#000"/>
<circle cx="669.20" cy="433.01" r="3.1" fill="#000"/>
<circle cx="677.83" cy="431.74" r="3.1" fill="#000"/>
<circle cx="687.16" cy="429.37" r="3.1" fill="#000"/>
<circle cx="695.10" cy="429.37" r="3.1" fill="#000"/>
<circle cx="703.38" cy="430.32" r="3.1" fill="#000"/>
<circle cx="712.02" cy="428.10" r="3.1" fill="#000"/>
<circle cx="720.99" cy="425.73" r="3.1" fill="#000"/>
<circle cx="729.63" cy="424.94" r="3.1" fill="#000"/>
<circle cx="739.12" cy="423.20" r="3.1" fill="#000"/>
<circle cx="748.62" cy="421.46" r="3.1" fill="#000"/>
<circle cx="756.21" cy="418.13" r="3.1" fill="#000"/>
<circle cx="764.85" cy="420.98" r="3.1" fill="#000"/>
<g clip-path="url(#c12)">
<path d="M494.28 550.60 L494.34 550.59 L494.41 550.58 L494.59 550.55 L494.84 550.52 L494.85 550.52 L495.09 550.49 L495.29 550.46 L495.34 550.45 L495.58 550.42 L495.72 550.40 L495.83 550.38 L496.08 550.34 L496.16 550.33 L496.33 550.30 L496.58 550.25 L496.60 550.24 L496.65 550.23 M500.34 549.55 L500.53 549.53 L500.55 549.53 L500.80 549.51 L500.97 549.50 L501.05 549.49 L501.30 549.48 L501.41 549.48 L501.55 549.48 L501.79 549.48 L501.85 549.48 L502.04 549.48 L502.28 549.48 L502.29 549.48 L502.54 549.49 L502.72 549.49 L502.73 549.49 M506.48 549.71 L506.51 549.72 L506.66 549.73 L506.76 549.74 L507.01 549.77 L507.09 549.78 L507.26 549.80 L507.51 549.83 L507.53 549.84 L507.76 549.89 L507.97 549.95 L508.00 549.97 L508.25 550.06 L508.40 550.12 L508.50 550.16 L508.75 550.28 L508.78 550.30 M511.66 552.67 L511.73 552.72 L511.90 552.83 L511.98 552.88 L512.23 553.02 L512.34 553.07 L512.48 553.13 L512.72 553.24 L512.78 553.26 L512.97 553.34 L513.22 553.43 L513.22 553.43 L513.47 553.52 L513.65 553.58 L513.72 553.61 L513.84 553.65 M517.47 554.61 L517.59 554.63 L517.69 554.66 L517.94 554.71 L518.03 554.73 L518.19 554.77 L518.44 554.83 L518.46 554.83 L518.69 554.88 L518.90 554.94 L518.93 554.94 L519.18 555.01 L519.34 555.04 L519.43 555.07 L519.68 555.13 L519.77 555.16 L519.80 555.16 M523.47 555.91 L523.65 555.93 L523.71 555.93 L523.90 555.95 L524.15 555.96 L524.15 555.96 L524.40 555.97 L524.58 555.97 L524.65 555.97 L524.90 555.96 L525.02 555.95 L525.15 555.95 L525.39 555.93 L525.46 555.93 L525.64 555.91 L525.87 555.89 M529.56 555.23 L529.83 555.17 L530.27 555.09 L530.71 555.02 L531.14 554.95 L531.58 554.88 L531.92 554.83 M535.62 554.23 L535.95 554.18 L536.39 554.12 L536.83 554.06 L537.27 554.01 L537.70 553.96 L538.00 553.92 M541.73 553.51 L542.08 553.48 L542.51 553.46 L542.95 553.44 L543.39 553.43 L543.82 553.44 L544.13 553.47 M547.74 554.46 L547.76 554.47 L548.20 554.59 L548.64 554.69 L549.07 554.77 L549.51 554.83 L549.95 554.88 L550.09 554.90 M553.83 555.26 L553.88 555.27 L554.32 555.29 L554.76 555.31 L555.19 555.32 L555.63 555.33 L556.07 555.33 L556.22 555.32 M559.78 554.22 L560.00 554.12 L560.44 553.90 L560.88 553.63 L561.32 553.27 L561.74 552.87 M563.84 549.78 L563.94 549.59 L564.38 548.77 L564.81 548.09 L565.12 547.77 M568.31 545.84 L568.75 545.65 L569.19 545.47 L569.62 545.28 L570.06 545.08 L570.50 544.86 L570.50 544.86 M573.88 543.22 L574.00 543.17 L574.43 542.96 L574.87 542.74 L575.31 542.53 L575.75 542.31 L576.03 542.17 M579.35 540.42 L579.68 540.24 L580.12 540.00 L580.56 539.77 L580.99 539.54 L581.43 539.31 L581.47 539.29 M584.83 537.62 L584.93 537.57 L585.37 537.35 L585.80 537.14 L586.24 536.92 L586.68 536.70 L586.98 536.56 M590.32 534.86 L590.61 534.70 L591.05 534.48 L591.49 534.25 L591.93 534.02 L592.36 533.78 L592.44 533.74 M595.69 531.87 L595.86 531.76 L596.30 531.51 L596.74 531.25 L597.17 530.99 L597.61 530.74 L597.77 530.66 M601.05 528.85 L601.11 528.82 L601.55 528.59 L601.98 528.37 L602.42 528.16 L602.86 527.95 L603.21 527.80" fill="none" stroke="#00ff00" stroke-width="2.60" stroke-linecap="butt" stroke-linejoin="round"/>
<path d="M609.27 525.56 L609.39 525.54 L610.00 525.41 L610.60 525.29 L611.21 525.17 L611.62 525.09 M615.34 524.67 L615.46 524.67 L616.06 524.67 L616.67 524.68 L617.28 524.70 L617.74 524.71 M621.49 524.89 L621.52 524.89 L622.13 524.92 L622.73 524.95 L623.34 524.97 L623.88 525.00 M627.63 525.22 L628.19 525.27 L628.80 525.35 L629.41 525.45 L630.00 525.57 M633.64 526.48 L633.65 526.48 L634.26 526.62 L634.87 526.76 L635.47 526.91 L635.97 527.04 M639.63 527.86 L639.72 527.87 L640.33 527.94 L640.93 528.00 L641.54 528.05 L642.02 528.09 M645.76 528.29 L645.79 528.29 L646.39 528.29 L647.00 528.28 L647.61 528.26 L648.16 528.24 M651.90 527.98 L652.46 527.94 L653.06 527.89 L653.67 527.83 L654.28 527.76 L654.29 527.76 M658.00 527.22 L658.52 527.14 L659.13 527.04 L659.74 526.93 L660.34 526.82 L660.37 526.81 M664.04 526.04 L664.59 525.93 L665.20 525.80 L665.80 525.67 L666.38 525.55 M670.05 524.74 L670.05 524.74 L670.66 524.59 L671.26 524.43 L671.87 524.26 L672.36 524.11 M675.93 522.95 L676.12 522.89 L676.72 522.70 L677.33 522.52 L677.94 522.35 L678.23 522.27 M681.85 521.31 L682.18 521.22 L682.79 521.06 L683.39 520.89 L684.00 520.72 L684.17 520.68 M687.78 519.67 L688.25 519.53 L688.85 519.36 L689.46 519.19 L690.07 519.01 L690.09 519.00 M693.68 517.92 L693.71 517.91 L694.31 517.74 L694.92 517.56 L695.53 517.39 L695.99 517.27 M699.61 516.30 L699.77 516.25 L700.38 516.10 L700.99 515.94 L701.59 515.78 L701.93 515.69 M705.56 514.74 L705.84 514.67 L706.45 514.52 L707.05 514.38 L707.66 514.24 L707.89 514.19 M711.57 513.44 L711.90 513.37 L712.51 513.24 L713.12 513.11 L713.72 512.96 L713.91 512.92 M717.54 511.95 L717.97 511.84 L718.58 511.68 L719.18 511.52 L719.79 511.37 L719.86 511.35 M723.50 510.46 L724.04 510.33 L724.64 510.19 L725.25 510.05 L725.84 509.91 M729.49 509.06 L729.50 509.06 L730.10 508.93 L730.71 508.81 L731.32 508.69 L731.84 508.59 M735.55 508.02 L735.56 508.02 L736.17 507.93 L736.77 507.84 L737.38 507.73 L737.92 507.64 M741.59 506.89 L741.63 506.88 L742.23 506.75 L742.84 506.63 L743.45 506.50 L743.94 506.40 M747.62 505.68 L747.69 505.66 L748.30 505.55 L748.91 505.44 L749.51 505.33 L749.98 505.25 M753.70 504.73 L753.76 504.73 L754.37 504.64 L754.97 504.54 L755.58 504.43 L756.06 504.34 M759.67 503.30 L759.83 503.25 L760.43 503.04 L761.04 502.83 L761.65 502.62 L761.94 502.53" fill="none" stroke="#00ff00" stroke-width="2.60" stroke-linecap="butt" stroke-linejoin="round"/>
<path d="M494.54 539.21 L494.59 538.99 L494.84 537.90 L495.09 536.78 L495.20 536.27 L495.34 535.66 L495.58 534.53 L495.83 533.39 L496.08 532.26 L496.25 531.48 L496.33 531.13 L496.58 530.02 L496.83 528.93 L497.07 527.86 L497.30 526.90 L497.32 526.82 L497.57 525.81 L497.82 524.85 L498.07 523.94 L498.32 523.07 L498.35 522.95 L498.57 522.25 L498.81 521.48 L499.06 520.74 L499.31 520.05 L499.40 519.80 L499.56 519.39 L499.81 518.76 L500.06 518.17 L500.30 517.60 L500.45 517.28 L500.55 517.07 L500.80 516.55 L501.05 516.06 L501.30 515.59 L501.50 515.21 L501.55 515.14 L501.79 514.70 L502.04 514.27 L502.29 513.86 L502.54 513.45 L502.55 513.43 L502.64 513.30 M507.52 505.98 L507.76 505.67 L507.81 505.60 L508.00 505.35 L508.25 505.03 L508.50 504.71 L508.75 504.39 L508.86 504.25 L509.00 504.06 L509.25 503.74 L509.50 503.42 L509.74 503.10 L509.91 502.89 L509.99 502.78 L510.24 502.46 L510.49 502.15 L510.74 501.84 L510.96 501.56 L510.99 501.53 L511.23 501.22 L511.48 500.92 L511.73 500.62 L511.98 500.33 L512.01 500.29 L512.23 500.04 L512.48 499.76 L512.72 499.49 L512.97 499.22 L513.06 499.13 L513.22 498.96 L513.47 498.71 L513.72 498.46 L513.97 498.22 L514.11 498.09 L514.22 497.99 L514.46 497.76 L514.71 497.52 L514.96 497.30 L515.16 497.11 L515.21 497.07 L515.46 496.84 L515.71 496.62 L515.95 496.40 L516.20 496.18 L516.21 496.17 L516.45 495.96 L516.70 495.75 L516.95 495.53 L517.20 495.32 L517.26 495.26 L517.44 495.11 L517.69 494.90 L517.94 494.69 L518.19 494.49 L518.31 494.38 L518.44 494.28 L518.69 494.07 L518.93 493.87 L519.18 493.67 L519.36 493.52 L519.43 493.47 L519.68 493.27 L519.93 493.07 L520.18 492.87 L520.41 492.68 L520.43 492.67 L520.67 492.47 L520.92 492.26 L521.17 492.06 L521.42 491.86 L521.46 491.82 L521.67 491.65 L521.92 491.45 L522.16 491.24 L522.41 491.04 L522.52 490.95 L522.66 490.83 L522.91 490.63 L523.16 490.42 L523.41 490.22 L523.57 490.09 L523.65 490.02 L523.90 489.81 L524.15 489.61 L524.40 489.42 L524.62 489.25 L524.65 489.22 L524.90 489.03 L525.15 488.83 L525.39 488.64 L525.64 488.46 L525.67 488.44 L525.89 488.27 L526.14 488.09 L526.39 487.91 L526.64 487.74 L526.72 487.68 L526.88 487.57 L527.13 487.40 L527.26 487.32 M534.84 482.86 L535.12 482.70 L536.17 482.09 L537.22 481.48 L538.27 480.87 L539.32 480.26 L540.37 479.64 L541.43 479.03 L542.48 478.42 L543.53 477.81 L544.58 477.23 L545.63 476.66 L546.68 476.12 L547.73 475.59 L548.78 475.08 L549.83 474.59 L550.88 474.11 L551.93 473.64 L552.98 473.18 L554.03 472.73 L555.08 472.28 L556.13 471.84 L557.18 471.40 L558.23 470.96 L559.17 470.56 M567.38 467.40 L567.69 467.30 L568.74 466.95 L569.79 466.60 L570.84 466.26 L571.89 465.91 L572.94 465.57 L573.99 465.23 L575.04 464.90 L576.09 464.57 L577.14 464.24 L578.19 463.91 L579.24 463.59 L580.30 463.27 L581.35 462.96 L582.40 462.65 L583.45 462.34 L584.50 462.03 L585.55 461.73 L586.60 461.43 L587.65 461.14 L588.70 460.85 L589.75 460.56 L590.80 460.28 L591.85 460.00 L592.90 459.73 L593.53 459.56 M602.09 457.52 L602.36 457.47 L603.41 457.25 L604.46 457.04 L605.51 456.82 L606.56 456.61 L607.61 456.40 L608.66 456.18 L609.71 455.97 L610.76 455.76 L611.81 455.54 L612.86 455.33 L613.91 455.12 L614.96 454.91 L616.01 454.69 L617.06 454.48 L618.12 454.27 L619.17 454.06 L620.22 453.84 L621.27 453.63 L622.32 453.42 L623.37 453.20 L624.42 452.99 L625.47 452.78 L626.52 452.57 L627.57 452.35 L628.62 452.14 L628.84 452.09 M637.46 450.32 L638.08 450.20 L639.13 450.00 L640.18 449.82 L641.23 449.66 L642.28 449.51 L643.33 449.37 L644.38 449.24 L645.43 449.12 L646.48 449.01 L647.53 448.90 L648.58 448.79 L649.63 448.69 L650.68 448.59 L651.73 448.49 L652.78 448.38 L653.83 448.27 L654.88 448.17 L655.93 448.08 L656.99 447.99 L658.04 447.90 L659.09 447.81 L660.14 447.72 L661.19 447.63 L662.24 447.54 L663.29 447.44 L664.34 447.33 L664.58 447.30 M673.30 446.11 L673.79 446.07 L674.84 445.96 L675.90 445.86 L676.95 445.75 L678.00 445.65 L679.05 445.55 L680.10 445.44 L681.15 445.34 L682.20 445.24 L683.25 445.14 L684.30 445.03 L685.35 444.93 L686.40 444.83 L687.45 444.73 L688.50 444.62 L689.55 444.52 L690.60 444.42 L691.65 444.32 L692.70 444.22 L693.75 444.12 L694.81 444.01 L695.86 443.91 L696.91 443.81 L697.96 443.71 L699.01 443.61 L700.06 443.51 L700.47 443.47 M709.23 442.63 L709.51 442.61 L710.56 442.51 L711.61 442.41 L712.66 442.32 L713.71 442.23 L714.77 442.14 L715.82 442.05 L716.87 441.96 L717.92 441.88 L718.97 441.79 L720.02 441.71 L721.07 441.63 L722.12 441.55 L723.17 441.47 L724.22 441.40 L725.27 441.32 L726.32 441.25 L727.37 441.18 L728.42 441.11 L729.47 441.04 L730.52 440.97 L731.57 440.90 L732.62 440.84 L733.68 440.77 L734.73 440.71 L735.78 440.65 L736.46 440.61 M745.25 440.27 L746.28 440.21 L747.33 440.15 L748.38 440.10 L749.43 440.04 L750.48 439.98 L751.53 439.92 L752.59 439.86 L753.64 439.79 L754.69 439.73 L755.74 439.67 L756.79 439.60 L757.84 439.53 L758.89 439.46 L759.94 439.39 L760.99 439.32 L762.04 439.25 L763.09 439.18 L764.14 439.10 L765.19 439.02" fill="none" stroke="#0000f5" stroke-width="2.55" stroke-linecap="butt" stroke-linejoin="round"/>
<path d="M493.10 549.16 L493.35 549.73 L493.60 550.30 L493.85 550.87 L494.09 551.44 L494.14 551.55 L494.34 552.01 L494.59 552.58 L494.84 553.15 L495.09 553.73 L495.19 553.98 L495.34 554.34 L495.58 554.96 L495.83 555.57 L496.08 556.17 L496.23 556.52 L496.33 556.74 L496.58 557.26 L496.83 557.74 L497.07 558.16 L497.28 558.50 L497.29 558.52 M503.23 563.32 L503.28 563.27 L503.53 562.95 L503.54 562.94 L503.78 562.54 L504.03 562.06 L504.28 561.52 L504.53 560.95 L504.58 560.80 L504.78 560.15 L505.02 559.06 L505.27 557.76 L505.52 556.34 L505.63 555.67 L505.77 554.61 L506.02 552.59 L506.03 552.51 M507.07 544.37 L507.26 543.46 L507.51 542.72 L507.71 542.17 L507.76 542.06 L508.00 541.49 L508.25 540.98 L508.50 540.53 L508.75 540.12 L508.76 540.11 L509.00 539.76 L509.25 539.41 L509.50 539.09 L509.74 538.77 L509.80 538.69 L509.99 538.44 L510.24 538.10 L510.49 537.75 L510.74 537.40 L510.85 537.25 L510.99 537.06 L511.23 536.73 L511.48 536.42 L511.73 536.11 L511.89 535.91 L511.98 535.81 L512.23 535.51 L512.48 535.22 L512.72 534.94 L512.83 534.82 M518.60 529.02 L518.69 528.96 L518.93 528.79 L519.18 528.62 L519.20 528.61 L519.43 528.46 L519.68 528.30 L519.93 528.13 L520.18 527.98 L520.24 527.94 L520.43 527.82 L520.67 527.67 L520.92 527.52 L521.17 527.37 L521.28 527.30 L521.42 527.22 L521.67 527.08 L521.92 526.93 L522.16 526.79 L522.33 526.70 L522.41 526.66 L522.66 526.52 L522.91 526.39 L523.16 526.26 L523.37 526.15 L523.41 526.13 L523.65 526.01 L523.90 525.88 L524.15 525.76 L524.40 525.64 L524.42 525.64 L524.65 525.53 L524.90 525.41 L525.15 525.30 L525.39 525.20 L525.46 525.17 L525.64 525.09 L525.89 524.99 L526.14 524.88 L526.39 524.79 L526.50 524.74 L526.64 524.69 L526.88 524.60 L527.13 524.51 L527.38 524.42 L527.55 524.36 L527.63 524.33 L528.59 524.02 L528.67 524.00 M536.68 522.23 L536.94 522.17 L537.99 521.90 L539.03 521.61 L540.07 521.32 L541.12 521.03 L542.16 520.73 L543.21 520.44 L544.25 520.15 L545.29 519.88 L546.34 519.62 L547.38 519.38 L547.60 519.34 M555.68 517.95 L555.73 517.94 L556.78 517.73 L557.82 517.49 L558.86 517.25 L559.91 516.99 L560.95 516.71 L562.00 516.43 L563.04 516.14 L564.08 515.85 L565.13 515.55 L566.17 515.25 L566.62 515.13 M574.48 512.80 L574.52 512.78 L575.57 512.50 L576.61 512.22 L577.65 511.96 L578.70 511.70 L579.74 511.44 L580.79 511.18 L581.83 510.92 L582.87 510.65 L583.92 510.37 L584.96 510.07 L585.41 509.93 M593.10 507.11 L593.31 507.04 L594.36 506.73 L595.40 506.41 L596.44 506.10 L597.49 505.81 L598.53 505.52 L599.58 505.25 L600.62 504.99 L601.66 504.74 L602.71 504.52 L603.75 504.32 L604.03 504.27 M612.16 503.16 L613.15 503.05 L614.19 502.94 L615.23 502.82 L616.28 502.71 L617.32 502.60 L618.37 502.50 L619.41 502.40 L620.45 502.31 L621.50 502.23 L622.54 502.16 L623.41 502.11 M631.60 501.85 L631.94 501.85 L632.98 501.85 L634.02 501.85 L635.07 501.85 L636.11 501.85 L637.16 501.85 L638.20 501.85 L639.24 501.85 L640.29 501.85 L641.33 501.85 L642.38 501.85 L642.90 501.85 M651.10 501.85 L651.77 501.86 L652.81 501.86 L653.86 501.86 L654.90 501.86 L655.95 501.87 L656.99 501.87 L658.03 501.87 L659.08 501.87 L660.12 501.88 L661.16 501.88 L662.21 501.88 L662.40 501.88 M670.60 501.91 L671.60 501.91 L672.65 501.91 L673.69 501.91 L674.74 501.92 L675.78 501.92 L676.82 501.92 L677.87 501.92 L678.91 501.92 L679.95 501.92 L681.00 501.92 L681.90 501.93 M690.10 501.92 L690.39 501.92 L691.44 501.92 L692.48 501.92 L693.53 501.92 L694.57 501.92 L695.61 501.91 L696.66 501.91 L697.70 501.91 L698.74 501.91 L699.79 501.91 L700.83 501.90 L701.40 501.90 M709.60 501.88 L710.23 501.88 L711.27 501.87 L712.32 501.87 L713.36 501.86 L714.40 501.86 L715.45 501.86 L716.49 501.85 L717.53 501.85 L718.58 501.84 L719.62 501.83 L720.67 501.82 L720.90 501.81 M729.10 501.63 L730.06 501.60 L731.10 501.57 L732.15 501.53 L733.19 501.50 L734.24 501.47 L735.28 501.44 L736.32 501.40 L737.37 501.36 L738.41 501.33 L739.46 501.28 L740.39 501.24 M748.58 500.82 L748.85 500.80 L749.89 500.73 L750.94 500.66 L751.98 500.58 L753.03 500.49 L754.07 500.40 L755.11 500.30 L756.16 500.21 L757.20 500.11 L758.25 500.00 L759.29 499.90 L759.84 499.85" fill="none" stroke="#ffd000" stroke-width="2.40" stroke-linecap="butt" stroke-linejoin="round"/>
<path d="M493.10 545.21 L493.35 544.06 L493.60 542.92 L493.85 541.78 L494.09 540.65 L494.15 540.40 L494.34 539.52 L494.59 538.38 L494.84 537.25 L495.09 536.12 L495.20 535.61 L495.34 534.99 L495.58 533.87 L495.83 532.76 L496.08 531.65 L496.25 530.91 L496.33 530.55 L496.58 529.45 L496.83 528.37 L497.07 527.30 L497.30 526.34 L497.32 526.23 L497.57 525.18 L497.82 524.16 L498.07 523.20 L498.32 522.29 L498.35 522.19 L498.57 521.43 L498.81 520.62 L499.06 519.85 L499.31 519.13 L499.40 518.89 L499.56 518.44 L499.81 517.79 L500.06 517.18 L500.30 516.59 L500.44 516.27 L500.55 516.03 L500.80 515.50 L501.05 514.99 L501.30 514.50 L501.49 514.12 L501.55 514.02 L501.79 513.56 L502.04 513.10 L502.29 512.66 L502.54 512.22 L502.54 512.21 L502.79 511.78 L503.04 511.34 L503.28 510.91 L503.53 510.47 L503.59 510.37 L503.78 510.04 L504.03 509.61 L504.28 509.18 L504.53 508.76 L504.64 508.56 L504.78 508.33 L505.02 507.91 L505.27 507.50 L505.52 507.09 L505.69 506.81 L505.77 506.68 L506.02 506.28 L506.27 505.88 L506.51 505.49 L506.74 505.14 L506.76 505.10 L507.01 504.72 L507.26 504.35 L507.51 503.98 L507.76 503.61 L507.79 503.57 L508.00 503.25 L508.25 502.89 L508.50 502.53 L508.75 502.17 L508.84 502.04 L509.00 501.81 L509.25 501.45 L509.50 501.09 L509.74 500.73 L509.89 500.52 L509.99 500.37 L510.24 500.01 L510.49 499.66 L510.74 499.31 L510.94 499.03 L510.99 498.96 L511.23 498.61 L511.48 498.27 L511.73 497.94 L511.98 497.61 L511.99 497.60 L512.23 497.28 L512.48 496.96 L512.72 496.65 L512.97 496.34 L513.04 496.27 L513.22 496.04 L513.47 495.75 L513.72 495.47 L513.97 495.19 L514.08 495.06 L514.22 494.92 L514.46 494.65 L514.71 494.38 L514.96 494.12 L515.13 493.93 L515.21 493.85 L515.46 493.59 L515.71 493.34 L515.95 493.08 L516.18 492.85 L516.20 492.83 L516.45 492.58 L516.70 492.33 L516.95 492.08 L517.20 491.84 L517.23 491.81 L517.44 491.60 L517.69 491.36 L517.94 491.12 L518.19 490.88 L518.28 490.80 L518.44 490.65 L518.69 490.42 L518.93 490.19 L519.18 489.96 L519.33 489.82 L519.43 489.73 L519.68 489.50 L519.93 489.28 L520.18 489.06 L520.38 488.88 L520.43 488.83 L520.67 488.61 L520.92 488.39 L521.17 488.17 L521.42 487.95 L521.43 487.94 L521.67 487.73 L521.92 487.51 L522.16 487.29 L522.41 487.07 L522.48 487.01 L522.66 486.85 L522.91 486.63 L523.16 486.42 L523.41 486.20 L523.53 486.09 L523.65 485.98 L523.90 485.77 L524.15 485.55 L524.40 485.34 L524.58 485.19 L524.65 485.13 L524.90 484.91 L525.15 484.70 L525.39 484.49 L525.63 484.29 L525.64 484.28 L525.89 484.07 L526.14 483.86 L526.39 483.65 L526.64 483.45 L526.67 483.41 L526.88 483.24 L527.13 483.03 L527.38 482.83 L527.63 482.63 L527.72 482.55 L528.77 481.70 L529.82 480.87 L530.87 480.04 L531.92 479.24 L532.97 478.46 L534.02 477.70 L535.07 476.98 L536.12 476.28 L537.17 475.63 L538.22 475.01 L539.27 474.46 L540.31 473.99 L541.36 473.53 L542.41 473.04 L543.46 472.48 L544.51 471.90 L545.56 471.31 L546.61 470.72 L547.66 470.12 L548.71 469.53 L549.76 468.93 L550.81 468.34 L551.86 467.74 L552.91 467.15 L553.95 466.57 L555.00 465.99 L556.05 465.42 L557.10 464.85 L558.15 464.29 L559.20 463.72 L560.25 463.16 L561.30 462.60 L562.35 462.04 L563.40 461.48 L564.45 460.92 L565.50 460.37 L566.54 459.82 L567.59 459.27 L568.64 458.72 L569.69 458.18 L570.74 457.65 L571.79 457.11 L572.84 456.59 L573.89 456.06 L574.94 455.54 L575.99 455.02 L577.04 454.50 L578.09 453.98 L579.14 453.47 L580.18 452.95 L581.23 452.44 L582.28 451.92 L583.33 451.41 L584.38 450.90 L585.43 450.40 L586.48 449.89 L587.53 449.40 L588.58 448.91 L589.63 448.42 L590.68 447.93 L591.73 447.45 L592.78 446.97 L593.82 446.49 L594.87 446.02 L595.92 445.54 L596.97 445.08 L598.02 444.62 L599.07 444.18 L600.12 443.75 L601.17 443.34 L602.22 442.94 L603.27 442.56 L604.32 442.20 L605.37 441.86 L606.42 441.54 L607.46 441.24 L608.51 440.96 L609.56 440.70 L610.61 440.45 L611.66 440.22 L612.71 439.99 L613.76 439.78 L614.81 439.57 L615.86 439.38 L616.91 439.19 L617.96 439.01 L619.01 438.83 L620.05 438.67 L621.10 438.52 L622.15 438.37 L623.20 438.23 L624.25 438.09 L625.30 437.95 L626.35 437.81 L627.40 437.67 L628.45 437.53 L629.50 437.39 L630.55 437.26 L631.60 437.12 L632.65 436.98 L633.69 436.84 L634.74 436.70 L635.79 436.56 L636.84 436.42 L637.89 436.28 L638.94 436.14 L639.99 436.00 L641.04 435.86 L642.09 435.71 L643.14 435.57 L644.19 435.43 L645.24 435.29 L646.29 435.15 L647.33 435.00 L648.38 434.86 L649.43 434.72 L650.48 434.57 L651.53 434.43 L652.58 434.28 L653.63 434.13 L654.68 433.96 L655.73 433.78 L656.78 433.59 L657.83 433.39 L658.88 433.18 L659.93 432.97 L660.97 432.74 L662.02 432.52 L663.07 432.29 L664.12 432.07 L665.17 431.84 L666.22 431.62 L667.27 431.39 L668.32 431.18 L669.37 430.97 L670.42 430.77 L671.47 430.58 L672.52 430.40 L673.56 430.23 L674.61 430.06 L675.66 429.89 L676.71 429.73 L677.76 429.56 L678.81 429.40 L679.86 429.23 L680.91 429.07 L681.96 428.91 L683.01 428.74 L684.06 428.58 L685.11 428.42 L686.16 428.26 L687.20 428.11 L688.25 427.95 L689.30 427.79 L690.35 427.64 L691.40 427.49 L692.45 427.34 L693.50 427.19 L694.55 427.04 L695.60 426.89 L696.65 426.74 L697.70 426.59 L698.75 426.44 L699.80 426.29 L700.84 426.14 L701.89 425.99 L702.94 425.84 L703.99 425.69 L705.04 425.55 L706.09 425.40 L707.14 425.25 L708.19 425.11 L709.24 424.96 L710.29 424.82 L711.34 424.68 L712.39 424.53 L713.43 424.39 L714.48 424.25 L715.53 424.11 L716.58 423.98 L717.63 423.84 L718.68 423.70 L719.73 423.56 L720.78 423.42 L721.83 423.28 L722.88 423.14 L723.93 423.00 L724.98 422.87 L726.03 422.73 L727.07 422.59 L728.12 422.45 L729.17 422.31 L730.22 422.17 L731.27 422.04 L732.32 421.90 L733.37 421.76 L734.42 421.62 L735.47 421.48 L736.52 421.35 L737.57 421.21 L738.62 421.07 L739.67 420.93 L740.71 420.80 L741.76 420.66 L742.81 420.52 L743.86 420.39 L744.91 420.25 L745.96 420.11 L747.01 419.97 L748.06 419.84 L749.11 419.70 L750.16 419.56 L751.21 419.43 L752.26 419.29 L753.31 419.15 L754.35 419.01 L755.40 418.87 L756.45 418.73 L757.50 418.59 L758.55 418.44 L759.60 418.29 L760.65 418.13 L761.70 417.98 L762.75 417.82 L763.80 417.66 L764.85 417.50" fill="none" stroke="#ff0000" stroke-width="2.55" stroke-linecap="butt" stroke-linejoin="miter"/>
</g>
<path d="M510.36 393.29 v6.50 M510.36 567.36 v-6.50 M527.63 393.29 v6.50 M527.63 567.36 v-6.50 M544.89 393.29 v6.50 M544.89 567.36 v-6.50 M562.16 393.29 v13.00 M562.16 567.36 v-13.00 M579.42 393.29 v6.50 M579.42 567.36 v-6.50 M596.69 393.29 v6.50 M596.69 567.36 v-6.50 M613.95 393.29 v6.50 M613.95 567.36 v-6.50 M631.22 393.29 v13.00 M631.22 567.36 v-13.00 M648.48 393.29 v6.50 M648.48 567.36 v-6.50 M665.75 393.29 v6.50 M665.75 567.36 v-6.50 M683.01 393.29 v6.50 M683.01 567.36 v-6.50 M700.28 393.29 v13.00 M700.28 567.36 v-13.00 M717.54 393.29 v6.50 M717.54 567.36 v-6.50 M734.81 393.29 v6.50 M734.81 567.36 v-6.50 M752.07 393.29 v6.50 M752.07 567.36 v-6.50 M769.34 393.29 v13.00 M769.34 567.36 v-13.00 M786.60 393.29 v6.50 M786.60 567.36 v-6.50 M493.10 559.45 h5.90 M786.60 559.45 h-5.90 M493.10 551.54 h12.00 M786.60 551.54 h-12.00 M493.10 543.62 h5.90 M786.60 543.62 h-5.90 M493.10 535.71 h5.90 M786.60 535.71 h-5.90 M493.10 527.80 h5.90 M786.60 527.80 h-5.90 M493.10 519.89 h12.00 M786.60 519.89 h-12.00 M493.10 511.97 h5.90 M786.60 511.97 h-5.90 M493.10 504.06 h5.90 M786.60 504.06 h-5.90 M493.10 496.15 h5.90 M786.60 496.15 h-5.90 M493.10 488.24 h12.00 M786.60 488.24 h-12.00 M493.10 480.32 h5.90 M786.60 480.32 h-5.90 M493.10 472.41 h5.90 M786.60 472.41 h-5.90 M493.10 464.50 h5.90 M786.60 464.50 h-5.90 M493.10 456.59 h12.00 M786.60 456.59 h-12.00 M493.10 448.68 h5.90 M786.60 448.68 h-5.90 M493.10 440.76 h5.90 M786.60 440.76 h-5.90 M493.10 432.85 h5.90 M786.60 432.85 h-5.90 M493.10 424.94 h12.00 M786.60 424.94 h-12.00 M493.10 417.03 h5.90 M786.60 417.03 h-5.90 M493.10 409.11 h5.90 M786.60 409.11 h-5.90 M493.10 401.20 h5.90 M786.60 401.20 h-5.90" stroke="#000" stroke-width="1.05" fill="none"/>
<rect x="493.10" y="393.29" width="293.50" height="174.07" fill="none" stroke="#000" stroke-width="1.05"/>
<text x="501.90" y="424.49" class="t">popsynth</text>
<path d="M493.10 725.61 H786.60" stroke="#000" stroke-width="1.1" fill="none" stroke-dasharray="11.3 3.85 2.5 3.9" stroke-dashoffset="15.5"/>
<path d="M493.10 714.53 V724.02 M489.90 714.53 h6.4 M489.90 724.02 h6.4 M495.86 714.53 V724.02 M492.66 714.53 h6.4 M492.66 724.02 h6.4 M498.80 708.20 V724.02 M495.60 708.20 h6.4 M495.60 724.02 h6.4 M502.25 695.38 V717.53 M499.05 695.38 h6.4 M499.05 717.53 h6.4 M499.49 687.63 V697.12 M496.29 687.63 h6.4 M496.29 697.12 h6.4 M501.04 675.28 V685.41 M497.84 675.28 h6.4 M497.84 685.41 h6.4 M504.15 676.55 V686.04 M500.95 676.55 h6.4 M500.95 686.04 h6.4 M505.88 683.99 V696.65 M502.68 683.99 h6.4 M502.68 696.65 h6.4 M507.60 681.30 V690.79 M504.40 681.30 h6.4 M504.40 690.79 h6.4 M508.98 666.74 V682.56 M505.78 666.74 h6.4 M505.78 682.56 h6.4 M514.85 674.49 V696.01 M511.65 674.49 h6.4 M511.65 696.01 h6.4 M516.93 699.89 V713.82 M513.73 699.89 h6.4 M513.73 713.82 h6.4 M520.38 681.45 V692.53 M517.18 681.45 h6.4 M517.18 692.53 h6.4 M518.65 667.53 V680.19 M515.45 667.53 h6.4 M515.45 680.19 h6.4 M516.58 663.57 V676.23 M513.38 663.57 h6.4 M513.38 676.23 h6.4 M519.86 658.83 V668.32 M516.66 658.83 h6.4 M516.66 668.32 h6.4 M522.80 651.86 V664.52 M519.60 651.86 h6.4 M519.60 664.52 h6.4 M525.56 647.43 V661.68 M522.36 647.43 h6.4 M522.36 661.68 h6.4 M527.97 642.68 V659.45 M524.77 642.68 h6.4 M524.77 659.45 h6.4 M530.67 632.59 V662.34 M527.47 632.59 h6.4 M527.47 662.34 h6.4 M533.84 635.09 V652.50 M530.64 635.09 h6.4 M530.64 652.50 h6.4 M537.16 609.96 V673.26 M533.96 609.96 h6.4 M533.96 673.26 h6.4 M539.89 603.75 V675.91 M536.69 603.75 h6.4 M536.69 675.91 h6.4 M543.17 612.60 V662.92 M539.97 612.60 h6.4 M539.97 662.92 h6.4 M546.28 624.04 V647.78 M543.08 624.04 h6.4 M543.08 647.78 h6.4 M549.04 624.58 V644.20 M545.84 624.58 h6.4 M545.84 644.20 h6.4 M552.15 624.78 V642.51 M548.95 624.78 h6.4 M548.95 642.51 h6.4 M555.25 624.52 V642.24 M552.05 624.52 h6.4 M552.05 642.24 h6.4 M558.36 625.12 V642.84 M555.16 625.12 h6.4 M555.16 642.84 h6.4 M561.47 625.90 V643.62 M558.27 625.90 h6.4 M558.27 643.62 h6.4 M564.40 627.16 V644.88 M561.20 627.16 h6.4 M561.20 644.88 h6.4 M567.34 628.56 V646.28 M564.14 628.56 h6.4 M564.14 646.28 h6.4 M570.27 631.19 V647.02 M567.07 631.19 h6.4 M567.07 647.02 h6.4 M573.21 633.65 V649.48 M570.01 633.65 h6.4 M570.01 649.48 h6.4 M576.14 636.99 V652.81 M572.94 636.99 h6.4 M572.94 652.81 h6.4 M579.42 631.61 V647.43 M576.22 631.61 h6.4 M576.22 647.43 h6.4 M582.36 618.00 V633.82 M579.16 618.00 h6.4 M579.16 633.82 h6.4 M585.47 613.39 V629.21 M582.27 613.39 h6.4 M582.27 629.21 h6.4 M588.75 606.15 V621.97 M585.55 606.15 h6.4 M585.55 621.97 h6.4 M592.03 602.26 V618.08 M588.83 602.26 h6.4 M588.83 618.08 h6.4 M595.31 597.90 V613.72 M592.11 597.90 h6.4 M592.11 613.72 h6.4 M598.59 593.29 V609.11 M595.39 593.29 h6.4 M595.39 609.11 h6.4 M601.87 592.68 V608.50 M598.67 592.68 h6.4 M598.67 608.50 h6.4 M605.15 596.16 V611.99 M601.95 596.16 h6.4 M601.95 611.99 h6.4 M608.43 599.48 V615.30 M605.23 599.48 h6.4 M605.23 615.30 h6.4 M611.71 601.12 V618.53 M608.51 601.12 h6.4 M608.51 618.53 h6.4 M614.99 602.97 V620.37 M611.79 602.97 h6.4 M611.79 620.37 h6.4 M618.27 604.21 V621.61 M615.07 604.21 h6.4 M615.07 621.61 h6.4 M621.55 585.89 V641.28 M618.35 585.89 h6.4 M618.35 641.28 h6.4 M624.66 589.20 V638.25 M621.46 589.20 h6.4 M621.46 638.25 h6.4 M628.46 598.32 V628.70 M625.26 598.32 h6.4 M625.26 628.70 h6.4 M631.91 585.82 V639.62 M628.71 585.82 h6.4 M628.71 639.62 h6.4 M641.92 605.02 V622.75 M638.72 605.02 h6.4 M638.72 622.75 h6.4 M651.94 602.97 V620.69 M648.74 602.97 h6.4 M648.74 620.69 h6.4 M659.19 599.80 V617.21 M655.99 599.80 h6.4 M655.99 617.21 h6.4 M669.20 598.38 V615.78 M666.00 598.38 h6.4 M666.00 615.78 h6.4 M677.83 597.27 V614.36 M674.63 597.27 h6.4 M674.63 614.36 h6.4 M687.16 594.89 V611.99 M683.96 594.89 h6.4 M683.96 611.99 h6.4 M695.10 594.89 V611.99 M691.90 594.89 h6.4 M691.90 611.99 h6.4 M703.38 595.84 V612.93 M700.18 595.84 h6.4 M700.18 612.93 h6.4 M712.02 593.63 V610.72 M708.82 593.63 h6.4 M708.82 610.72 h6.4 M720.99 591.10 V608.50 M717.79 591.10 h6.4 M717.79 608.50 h6.4 M729.63 592.84 V605.18 M726.43 592.84 h6.4 M726.43 605.18 h6.4 M739.12 591.10 V603.44 M735.92 591.10 h6.4 M735.92 603.44 h6.4 M748.62 589.51 V601.54 M745.42 589.51 h6.4 M745.42 601.54 h6.4 M756.21 585.87 V598.53 M753.01 585.87 h6.4 M753.01 598.53 h6.4 M764.85 591.10 V599.01 M761.65 591.10 h6.4 M761.65 599.01 h6.4" stroke="#000" stroke-width="1.05" fill="none"/>
<circle cx="493.10" cy="719.28" r="3.1" fill="#000"/>
<circle cx="495.86" cy="719.28" r="3.1" fill="#000"/>
<circle cx="498.80" cy="716.11" r="3.1" fill="#000"/>
<circle cx="502.25" cy="706.46" r="3.1" fill="#000"/>
<circle cx="499.49" cy="692.37" r="3.1" fill="#000"/>
<circle cx="501.04" cy="680.35" r="3.1" fill="#000"/>
<circle cx="504.15" cy="681.30" r="3.1" fill="#000"/>
<circle cx="505.88" cy="690.32" r="3.1" fill="#000"/>
<circle cx="507.60" cy="686.04" r="3.1" fill="#000"/>
<circle cx="508.98" cy="674.65" r="3.1" fill="#000"/>
<circle cx="514.85" cy="685.25" r="3.1" fill="#000"/>
<circle cx="516.93" cy="706.85" r="3.1" fill="#000"/>
<circle cx="520.38" cy="686.99" r="3.1" fill="#000"/>
<circle cx="518.65" cy="673.86" r="3.1" fill="#000"/>
<circle cx="516.58" cy="669.90" r="3.1" fill="#000"/>
<circle cx="519.86" cy="663.57" r="3.1" fill="#000"/>
<circle cx="522.80" cy="658.19" r="3.1" fill="#000"/>
<circle cx="525.56" cy="654.55" r="3.1" fill="#000"/>
<circle cx="527.97" cy="651.06" r="3.1" fill="#000"/>
<circle cx="530.67" cy="647.46" r="3.1" fill="#000"/>
<circle cx="533.84" cy="643.79" r="3.1" fill="#000"/>
<circle cx="537.16" cy="641.61" r="3.1" fill="#000"/>
<circle cx="539.89" cy="639.83" r="3.1" fill="#000"/>
<circle cx="543.17" cy="637.76" r="3.1" fill="#000"/>
<circle cx="546.28" cy="635.91" r="3.1" fill="#000"/>
<circle cx="549.04" cy="634.39" r="3.1" fill="#000"/>
<circle cx="552.15" cy="633.65" r="3.1" fill="#000"/>
<circle cx="555.25" cy="633.38" r="3.1" fill="#000"/>
<circle cx="558.36" cy="633.98" r="3.1" fill="#000"/>
<circle cx="561.47" cy="634.76" r="3.1" fill="#000"/>
<circle cx="564.40" cy="636.02" r="3.1" fill="#000"/>
<circle cx="567.34" cy="637.42" r="3.1" fill="#000"/>
<circle cx="570.27" cy="639.10" r="3.1" fill="#000"/>
<circle cx="573.21" cy="641.56" r="3.1" fill="#000"/>
<circle cx="576.14" cy="644.90" r="3.1" fill="#000"/>
<circle cx="579.42" cy="639.52" r="3.1" fill="#000"/>
<circle cx="582.36" cy="625.91" r="3.1" fill="#000"/>
<circle cx="585.47" cy="621.30" r="3.1" fill="#000"/>
<circle cx="588.75" cy="614.06" r="3.1" fill="#000"/>
<circle cx="592.03" cy="610.17" r="3.1" fill="#000"/>
<circle cx="595.31" cy="605.81" r="3.1" fill="#000"/>
<circle cx="598.59" cy="601.20" r="3.1" fill="#000"/>
<circle cx="601.87" cy="600.59" r="3.1" fill="#000"/>
<circle cx="605.15" cy="604.07" r="3.1" fill="#000"/>
<circle cx="608.43" cy="607.39" r="3.1" fill="#000"/>
<circle cx="611.71" cy="609.83" r="3.1" fill="#000"/>
<circle cx="614.99" cy="611.67" r="3.1" fill="#000"/>
<circle cx="618.27" cy="612.91" r="3.1" fill="#000"/>
<circle cx="621.55" cy="613.59" r="3.1" fill="#000"/>
<circle cx="624.66" cy="613.73" r="3.1" fill="#000"/>
<circle cx="628.46" cy="613.51" r="3.1" fill="#000"/>
<circle cx="631.91" cy="612.72" r="3.1" fill="#000"/>
<circle cx="641.92" cy="613.88" r="3.1" fill="#000"/>
<circle cx="651.94" cy="611.83" r="3.1" fill="#000"/>
<circle cx="659.19" cy="608.50" r="3.1" fill="#000"/>
<circle cx="669.20" cy="607.08" r="3.1" fill="#000"/>
<circle cx="677.83" cy="605.81" r="3.1" fill="#000"/>
<circle cx="687.16" cy="603.44" r="3.1" fill="#000"/>
<circle cx="695.10" cy="603.44" r="3.1" fill="#000"/>
<circle cx="703.38" cy="604.39" r="3.1" fill="#000"/>
<circle cx="712.02" cy="602.17" r="3.1" fill="#000"/>
<circle cx="720.99" cy="599.80" r="3.1" fill="#000"/>
<circle cx="729.63" cy="599.01" r="3.1" fill="#000"/>
<circle cx="739.12" cy="597.27" r="3.1" fill="#000"/>
<circle cx="748.62" cy="595.53" r="3.1" fill="#000"/>
<circle cx="756.21" cy="592.20" r="3.1" fill="#000"/>
<circle cx="764.85" cy="595.05" r="3.1" fill="#000"/>
<g clip-path="url(#c13)">
<path d="M494.28 724.67 L494.34 724.66 L494.41 724.65 L494.59 724.62 L494.84 724.59 L494.85 724.59 L495.09 724.56 L495.29 724.53 L495.34 724.52 L495.58 724.49 L495.72 724.47 L495.83 724.45 L496.08 724.41 L496.16 724.40 L496.33 724.37 L496.58 724.32 L496.60 724.31 L496.65 724.30 M500.34 723.62 L500.53 723.60 L500.55 723.60 L500.80 723.58 L500.97 723.57 L501.05 723.56 L501.30 723.55 L501.41 723.55 L501.55 723.55 L501.79 723.55 L501.85 723.55 L502.04 723.55 L502.28 723.55 L502.29 723.55 L502.54 723.56 L502.72 723.56 L502.73 723.56 M506.48 723.78 L506.51 723.79 L506.66 723.80 L506.76 723.81 L507.01 723.84 L507.09 723.85 L507.26 723.87 L507.51 723.90 L507.53 723.91 L507.76 723.96 L507.97 724.02 L508.00 724.04 L508.25 724.13 L508.40 724.19 L508.50 724.23 L508.75 724.35 L508.78 724.37 M511.66 726.74 L511.73 726.79 L511.90 726.90 L511.98 726.95 L512.23 727.09 L512.34 727.14 L512.48 727.20 L512.72 727.31 L512.78 727.33 L512.97 727.41 L513.22 727.50 L513.22 727.50 L513.47 727.59 L513.65 727.65 L513.72 727.68 L513.84 727.72 M517.47 728.68 L517.59 728.70 L517.69 728.73 L517.94 728.78 L518.03 728.80 L518.19 728.84 L518.44 728.90 L518.46 728.90 L518.69 728.95 L518.90 729.01 L518.93 729.01 L519.18 729.08 L519.34 729.11 L519.43 729.14 L519.68 729.20 L519.77 729.23 L519.80 729.23 M523.47 729.98 L523.65 730.00 L523.71 730.00 L523.90 730.02 L524.15 730.03 L524.15 730.03 L524.40 730.04 L524.58 730.04 L524.65 730.04 L524.90 730.03 L525.02 730.02 L525.15 730.02 L525.39 730.00 L525.46 730.00 L525.64 729.98 L525.87 729.96 M529.56 729.30 L529.83 729.24 L530.27 729.16 L530.71 729.09 L531.14 729.02 L531.58 728.95 L531.92 728.90 M535.62 728.30 L535.95 728.25 L536.39 728.19 L536.83 728.13 L537.27 728.08 L537.70 728.03 L538.00 727.99 M541.73 727.58 L542.08 727.55 L542.51 727.53 L542.95 727.51 L543.39 727.50 L543.82 727.51 L544.13 727.54 M547.74 728.53 L547.76 728.54 L548.20 728.66 L548.64 728.76 L549.07 728.84 L549.51 728.90 L549.95 728.95 L550.09 728.97 M553.83 729.33 L553.88 729.34 L554.32 729.36 L554.76 729.38 L555.19 729.39 L555.63 729.40 L556.07 729.40 L556.22 729.39 M559.78 728.29 L560.00 728.19 L560.44 727.97 L560.88 727.70 L561.32 727.34 L561.74 726.94 M563.84 723.85 L563.94 723.66 L564.38 722.84 L564.81 722.16 L565.12 721.84 M568.31 719.91 L568.75 719.72 L569.19 719.54 L569.62 719.35 L570.06 719.15 L570.50 718.93 L570.50 718.93 M573.88 717.29 L574.00 717.24 L574.43 717.03 L574.87 716.81 L575.31 716.60 L575.75 716.38 L576.03 716.24 M579.35 714.49 L579.68 714.31 L580.12 714.07 L580.56 713.84 L580.99 713.61 L581.43 713.38 L581.47 713.36 M584.83 711.69 L584.93 711.64 L585.37 711.42 L585.80 711.21 L586.24 710.99 L586.68 710.77 L586.98 710.63 M590.32 708.93 L590.61 708.77 L591.05 708.55 L591.49 708.32 L591.93 708.09 L592.36 707.85 L592.44 707.81 M595.69 705.94 L595.86 705.83 L596.30 705.58 L596.74 705.32 L597.17 705.06 L597.61 704.81 L597.77 704.73 M601.05 702.92 L601.11 702.89 L601.55 702.66 L601.98 702.44 L602.42 702.23 L602.86 702.02 L603.21 701.87" fill="none" stroke="#00ff00" stroke-width="2.60" stroke-linecap="butt" stroke-linejoin="round"/>
<path d="M609.27 699.63 L609.39 699.61 L610.00 699.48 L610.60 699.36 L611.21 699.24 L611.62 699.16 M615.34 698.74 L615.46 698.74 L616.06 698.74 L616.67 698.75 L617.28 698.77 L617.74 698.78 M621.49 698.96 L621.52 698.96 L622.13 698.99 L622.73 699.02 L623.34 699.04 L623.88 699.07 M627.63 699.29 L628.19 699.34 L628.80 699.42 L629.41 699.52 L630.00 699.64 M633.64 700.55 L633.65 700.55 L634.26 700.69 L634.87 700.83 L635.47 700.98 L635.97 701.11 M639.63 701.93 L639.72 701.94 L640.33 702.01 L640.93 702.07 L641.54 702.12 L642.02 702.16 M645.76 702.36 L645.79 702.36 L646.39 702.36 L647.00 702.35 L647.61 702.33 L648.16 702.31 M651.90 702.05 L652.46 702.01 L653.06 701.96 L653.67 701.90 L654.28 701.83 L654.29 701.83 M658.00 701.29 L658.52 701.21 L659.13 701.11 L659.74 701.00 L660.34 700.89 L660.37 700.88 M664.04 700.11 L664.59 700.00 L665.20 699.87 L665.80 699.74 L666.38 699.62 M670.05 698.81 L670.05 698.81 L670.66 698.66 L671.26 698.50 L671.87 698.33 L672.36 698.18 M675.93 697.02 L676.12 696.96 L676.72 696.77 L677.33 696.59 L677.94 696.42 L678.23 696.34 M681.85 695.38 L682.18 695.29 L682.79 695.13 L683.39 694.96 L684.00 694.79 L684.17 694.75 M687.78 693.74 L688.25 693.60 L688.85 693.43 L689.46 693.26 L690.07 693.08 L690.09 693.07 M693.68 691.99 L693.71 691.98 L694.31 691.81 L694.92 691.63 L695.53 691.46 L695.99 691.34 M699.61 690.37 L699.77 690.32 L700.38 690.17 L700.99 690.01 L701.59 689.85 L701.93 689.76 M705.56 688.81 L705.84 688.74 L706.45 688.59 L707.05 688.45 L707.66 688.31 L707.89 688.26 M711.57 687.51 L711.90 687.44 L712.51 687.31 L713.12 687.18 L713.72 687.03 L713.91 686.99 M717.54 686.02 L717.97 685.91 L718.58 685.75 L719.18 685.59 L719.79 685.44 L719.86 685.42 M723.50 684.53 L724.04 684.40 L724.64 684.26 L725.25 684.12 L725.84 683.98 M729.49 683.13 L729.50 683.13 L730.10 683.00 L730.71 682.88 L731.32 682.76 L731.84 682.66 M735.55 682.09 L735.56 682.09 L736.17 682.00 L736.77 681.91 L737.38 681.80 L737.92 681.71 M741.59 680.96 L741.63 680.95 L742.23 680.82 L742.84 680.70 L743.45 680.57 L743.94 680.47 M747.62 679.75 L747.69 679.73 L748.30 679.62 L748.91 679.51 L749.51 679.40 L749.98 679.32 M753.70 678.80 L753.76 678.80 L754.37 678.71 L754.97 678.61 L755.58 678.50 L756.06 678.41 M759.67 677.37 L759.83 677.32 L760.43 677.11 L761.04 676.90 L761.65 676.69 L761.94 676.60" fill="none" stroke="#00ff00" stroke-width="2.60" stroke-linecap="butt" stroke-linejoin="round"/>
<path d="M493.10 724.66 L493.35 724.21 L493.60 723.76 L493.85 723.29 L494.09 722.80 L494.15 722.68 L494.34 722.29 L494.59 721.76 L494.84 721.21 L495.09 720.64 L495.20 720.37 L495.34 720.04 L495.58 719.42 L495.83 718.73 L496.08 717.95 L496.25 717.39 L496.33 717.10 L496.58 716.18 L496.83 715.20 L497.07 714.18 L497.30 713.22 L497.32 713.10 L497.57 711.99 L497.82 710.86 L498.07 709.70 L498.32 708.53 L498.35 708.39 L498.57 707.36 L498.81 706.19 L499.06 705.03 L499.31 703.89 L499.40 703.50 L499.56 702.77 L499.81 701.69 L500.06 700.66 L500.30 699.67 L500.44 699.13 L500.55 698.74 L500.80 697.88 L501.05 697.09 L501.30 696.38 L501.49 695.88 L501.55 695.76 L501.79 695.24 L502.04 694.82 L502.29 694.51 L502.54 694.33 L502.54 694.33 L502.79 694.27 L503.04 694.57 L503.28 695.28 L503.53 696.30 L503.59 696.58 L503.78 697.52 L504.03 698.82 L504.28 700.09 L504.53 701.22 L504.64 701.75 L504.78 702.45 L505.02 703.88 L505.27 705.37 L505.52 706.75 L505.69 707.56 L505.77 707.88 L506.02 708.62 L506.27 708.81 L506.51 708.00 L506.74 706.54 L506.76 706.37 L507.01 704.42 L507.26 702.64 L507.51 701.03 L507.76 699.31 L507.79 699.08 L508.00 697.57 L508.25 695.90 L508.50 694.39 L508.75 693.12 L508.84 692.72 L509.00 692.00 L509.25 690.94 L509.50 689.94 L509.74 688.99 L509.89 688.46 L509.99 688.09 L510.24 687.23 L510.49 686.42 L510.74 685.64 L510.94 685.03 L510.99 684.89 L511.23 684.16 L511.48 683.45 L511.73 682.76 L511.98 682.09 L511.99 682.07 L512.23 681.44 L512.48 680.80 L512.72 680.19 L512.97 679.59 L513.04 679.45 L513.22 679.01 L513.47 678.44 L513.72 677.89 L513.97 677.34 L514.08 677.09 L514.22 676.81 L514.46 676.29 L514.71 675.77 L514.96 675.26 L515.13 674.91 L515.21 674.76 L515.46 674.26 L515.71 673.76 L515.95 673.26 L516.18 672.81 L516.20 672.77 L516.45 672.27 L516.70 671.77 L516.95 671.27 L517.20 670.77 L517.23 670.69 L517.44 670.27 L517.69 669.78 L517.94 669.29 L518.19 668.82 L518.28 668.64 L518.44 668.35 L518.69 667.90 L518.93 667.46 L519.18 667.04 L519.33 666.80 L519.43 666.64 L519.68 666.26 L519.93 665.90 L520.18 665.57 L520.38 665.31 L520.43 665.26 L520.67 664.96 L520.92 664.68 L521.17 664.40 L521.42 664.14 L521.43 664.13 L521.67 663.88 L521.92 663.62 L522.16 663.38 L522.41 663.14 L522.48 663.08 L522.66 662.91 L522.91 662.68 L523.16 662.46 L523.41 662.25 L523.53 662.14 L523.65 662.04 L523.90 661.83 L524.15 661.63 L524.40 661.43 L524.58 661.29 L524.65 661.23 L524.90 661.04 L525.15 660.85 L525.39 660.66 L525.63 660.49 L525.64 660.48 L525.89 660.29 L526.14 660.11 L526.39 659.92 L526.64 659.74 L526.67 659.71 L526.88 659.55 L527.13 659.37 L527.38 659.18 L527.63 659.00 L527.72 658.93 L528.77 658.11 L529.82 657.27 L530.87 656.44 L531.92 655.61 L532.97 654.80 L534.02 654.01 L535.07 653.23 L536.12 652.47 L537.17 651.73 L538.22 651.01 L539.27 650.33 L540.31 649.67 L541.36 649.03 L542.41 648.40 L543.46 647.79 L544.51 647.20 L545.56 646.61 L546.61 646.04 L547.66 645.47 L548.71 644.92 L549.76 644.37 L550.81 643.87 L551.86 643.39 L552.91 642.92 L553.95 642.46 L555.00 642.00 L556.05 641.51 L557.10 640.99 L558.15 640.42 L559.20 639.80 L560.25 639.11 L561.30 638.33 L562.35 637.47 L563.40 636.55 L564.45 635.58 L565.50 634.58 L566.54 633.54 L567.59 632.49 L568.64 631.44 L569.69 630.39 L570.74 629.30 L571.79 628.15 L572.84 626.95 L573.89 625.72 L574.94 624.49 L575.99 623.27 L577.04 622.08 L578.09 620.94 L579.14 619.87 L580.18 618.88 L581.23 617.95 L582.28 617.06 L583.33 616.20 L584.38 615.37 L585.43 614.55 L586.48 613.76 L587.53 612.97 L588.58 612.19 L589.63 611.41 L590.68 610.62 L591.73 609.83 L592.78 609.03 L593.82 608.25 L594.87 607.47 L595.92 606.70 L596.97 605.96 L598.02 605.25 L599.07 604.57 L600.12 603.93 L601.17 603.31 L602.22 602.69 L603.27 602.08 L604.32 601.49 L605.37 600.92 L606.42 600.38 L607.46 599.88 L608.51 599.42 L609.56 599.01 L610.61 598.66 L611.66 598.33 L612.71 598.02 L613.76 597.72 L614.81 597.44 L615.86 597.18 L616.91 596.95 L617.96 596.74 L619.01 596.56 L620.05 596.41 L621.10 596.29 L622.15 596.19 L623.20 596.10 L624.25 596.00 L625.30 595.92 L626.35 595.85 L627.40 595.78 L628.45 595.74 L629.50 595.70 L630.55 595.69 L631.60 595.69 L632.65 595.73 L633.69 595.79 L634.74 595.88 L635.79 595.98 L636.84 596.10 L637.89 596.23 L638.94 596.37 L639.99 596.51 L641.04 596.65 L642.09 596.78 L643.14 596.91 L644.19 597.03 L645.24 597.13 L646.29 597.24 L647.33 597.35 L648.38 597.47 L649.43 597.57 L650.48 597.66 L651.53 597.72 L652.58 597.74 L653.63 597.74 L654.68 597.72 L655.73 597.68 L656.78 597.64 L657.83 597.59 L658.88 597.52 L659.93 597.45 L660.97 597.38 L662.02 597.29 L663.07 597.20 L664.12 597.11 L665.17 597.01 L666.22 596.92 L667.27 596.82 L668.32 596.72 L669.37 596.63 L670.42 596.53 L671.47 596.44 L672.52 596.36 L673.56 596.28 L674.61 596.19 L675.66 596.11 L676.71 596.03 L677.76 595.95 L678.81 595.86 L679.86 595.78 L680.91 595.69 L681.96 595.61 L683.01 595.52 L684.06 595.43 L685.11 595.34 L686.16 595.25 L687.20 595.16 L688.25 595.07 L689.30 594.98 L690.35 594.88 L691.40 594.79 L692.45 594.69 L693.50 594.60 L694.55 594.50 L695.60 594.40 L696.65 594.30 L697.70 594.20 L698.75 594.10 L699.80 594.00 L700.84 593.90 L701.89 593.79 L702.94 593.69 L703.99 593.58 L705.04 593.48 L706.09 593.37 L707.14 593.26 L708.19 593.15 L709.24 593.04 L710.29 592.93 L711.34 592.82 L712.39 592.70 L713.43 592.59 L714.48 592.48 L715.53 592.37 L716.58 592.25 L717.63 592.14 L718.68 592.03 L719.73 591.92 L720.78 591.81 L721.83 591.70 L722.88 591.59 L723.93 591.47 L724.98 591.36 L726.03 591.24 L727.07 591.11 L728.12 590.99 L729.17 590.86 L730.22 590.73 L731.27 590.59 L732.32 590.45 L733.37 590.30 L734.42 590.15 L735.47 590.00 L736.52 589.83 L737.57 589.66 L738.62 589.49 L739.67 589.31 L740.71 589.12 L741.76 588.92 L742.81 588.72 L743.86 588.51 L744.91 588.30 L745.96 588.08 L747.01 587.85 L748.06 587.61 L749.11 587.37 L750.16 587.11 L751.21 586.85 L752.26 586.58 L753.31 586.28 L754.35 585.98 L755.40 585.65 L756.45 585.32 L757.50 584.97 L758.55 584.61 L759.60 584.24 L760.65 583.85 L761.70 583.46 L762.75 583.06 L763.80 582.65 L764.85 582.24" fill="none" stroke="#ff00ff" stroke-width="2.40" stroke-linecap="butt" stroke-linejoin="miter"/>
<path d="M493.10 716.51 L493.35 716.53 L493.37 716.54 L493.60 716.61 L493.63 716.62 L493.85 716.72 L493.90 716.75 L494.09 716.87 L494.17 716.93 L494.34 717.17 L494.43 717.36 L494.59 717.79 L494.70 718.15 L494.84 718.66 L494.97 719.17 L495.09 719.69 L495.23 720.37 L495.34 721.02 L495.50 722.28 L495.58 723.00 L495.67 723.70 M496.76 731.83 L496.83 732.25 L496.83 732.30 L497.07 733.86 L497.10 734.02 L497.32 735.39 L497.37 735.65 L497.57 736.87 L497.63 737.23 L497.82 738.32 L497.90 738.78 L498.07 739.77 L498.17 740.34 L498.32 741.24 L498.43 741.95 L498.57 742.80 L498.59 742.98 M500.11 751.03 L500.30 751.75 L500.30 751.77 L500.55 752.64 L500.57 752.69 L500.80 753.45 L500.83 753.54 L501.05 754.16 L501.10 754.30 L501.30 754.77 L501.37 754.91 L501.55 755.23 L501.63 755.36 L501.79 755.54 L501.90 755.62 L502.04 755.67 L502.17 755.66 L502.29 755.59 L502.43 755.45 L502.54 755.30 L502.70 755.02 L502.79 754.84 L502.97 754.41 L503.04 754.21 L503.23 753.63 L503.28 753.46 L503.50 752.72 L503.53 752.59 L503.77 751.70 L503.78 751.64 L504.03 750.63 L504.03 750.62 L504.17 750.05 M505.21 741.93 L505.27 741.14 L505.37 738.65 L505.52 732.87 L505.60 730.63 M505.94 722.44 L506.02 720.61 L506.17 717.44 L506.27 715.51 L506.43 712.60 L506.51 711.39 L506.53 711.16 M507.32 703.00 L507.50 701.49 L507.51 701.41 L507.76 699.48 L507.77 699.42 L508.00 697.73 L508.03 697.55 L508.25 696.15 L508.30 695.88 L508.50 694.72 L508.56 694.38 L508.75 693.43 L508.83 693.02 L509.00 692.23 L509.08 691.84 M511.36 683.97 L511.48 683.61 L511.50 683.57 L511.73 682.91 L511.76 682.82 L511.98 682.24 L512.03 682.10 L512.23 681.59 L512.30 681.40 L512.48 680.95 L512.56 680.73 L512.72 680.34 L512.83 680.08 L512.97 679.74 L513.10 679.44 L513.22 679.16 L513.36 678.83 L513.47 678.59 L513.63 678.23 L513.72 678.03 L513.90 677.64 L513.97 677.49 L514.16 677.07 L514.22 676.96 L514.43 676.50 L514.46 676.44 L514.70 675.95 L514.71 675.92 L514.96 675.41 L514.96 675.41 L515.21 674.91 L515.23 674.87 L515.46 674.41 L515.50 674.33 L515.71 673.92 L515.76 673.80 L515.86 673.61 M519.70 666.38 L519.76 666.29 L519.93 666.05 L520.03 665.91 L520.18 665.72 L520.30 665.57 L520.43 665.42 L520.56 665.25 L520.67 665.13 L520.83 664.95 L520.92 664.85 L521.10 664.66 L521.17 664.58 L521.36 664.37 L521.42 664.32 L521.63 664.10 L521.67 664.06 L521.90 663.83 L521.92 663.81 L522.16 663.58 L522.16 663.58 L522.41 663.34 L522.43 663.33 L522.66 663.12 L522.70 663.09 L522.91 662.90 L522.96 662.85 L523.16 662.68 L523.23 662.62 L523.41 662.47 L523.50 662.40 L523.65 662.27 L523.76 662.18 L523.90 662.07 L524.03 661.97 L524.15 661.87 L524.30 661.76 L524.40 661.68 L524.56 661.56 L524.65 661.49 L524.83 661.35 L524.90 661.30 L525.10 661.16 L525.15 661.12 L525.36 660.96 L525.39 660.94 L525.63 660.77 L525.64 660.76 L525.89 660.58 L525.90 660.57 L526.14 660.40 L526.16 660.38 L526.39 660.22 L526.43 660.19 L526.64 660.04 L526.70 659.99 L526.88 659.86 L526.96 659.80 L527.13 659.68 L527.23 659.60 L527.38 659.49 L527.50 659.41 L527.63 659.31 L527.76 659.21 L528.03 659.01 L528.13 658.93 M534.55 653.83 L534.70 653.73 L534.96 653.52 L535.23 653.32 L535.50 653.12 L535.76 652.92 L536.03 652.73 L536.30 652.53 L536.56 652.34 L536.83 652.14 L537.10 651.95 L537.36 651.77 L537.63 651.58 L537.89 651.40 L538.16 651.22 L538.43 651.04 L538.69 650.86 L538.96 650.68 L539.23 650.51 L539.49 650.34 L539.76 650.17 L540.03 650.00 L540.29 649.83 L540.56 649.67 L540.83 649.50 L541.09 649.34 L541.36 649.18 L541.63 649.02 L541.89 648.86 L542.16 648.70 L542.43 648.54 L542.69 648.39 L542.96 648.23 L543.23 648.08 L543.49 647.92 L543.76 647.77 L543.99 647.64 M551.25 643.82 L551.49 643.71 L551.76 643.59 L552.03 643.47 L552.29 643.35 L552.56 643.23 L552.83 643.12 L553.09 643.00 L553.36 642.88 L553.63 642.77 L553.89 642.65 L554.16 642.53 L554.43 642.41 L554.69 642.29 L554.96 642.17 L555.23 642.05 L555.49 641.93 L555.76 641.80 L556.03 641.68 L556.29 641.55 L556.56 641.42 L556.83 641.29 L557.09 641.15 L557.36 641.01 L557.63 640.87 L557.89 640.72 L558.16 640.58 L558.43 640.42 L558.69 640.27 L558.96 640.11 L559.23 639.94 L559.49 639.78 L559.76 639.60 L560.03 639.42 L560.29 639.23 L560.56 639.04 L560.83 638.84 L561.09 638.64 L561.21 638.55" fill="none" stroke="#ffd000" stroke-width="2.40" stroke-linecap="butt" stroke-linejoin="round"/>
<path d="M562.16 637.78 L562.94 637.11 L563.01 637.05 M568.89 631.34 L569.18 631.06 L569.96 630.28 L570.74 629.47 L571.52 628.63 L572.30 627.76 L573.08 626.88 L573.86 625.98 L574.64 625.08 L575.42 624.18 L576.20 623.29 L576.48 622.97 M582.38 617.29 L582.44 617.25 L583.22 616.60 L584.00 615.98 L584.78 615.36 L585.56 614.76 L586.34 614.16 L587.12 613.57 L587.90 612.99 L588.68 612.42 L589.46 611.84 L590.24 611.27 L591.02 610.70 L591.36 610.44 M598.07 605.72 L598.81 605.28 L599.59 604.84 L600.37 604.43 L601.15 604.03 L601.93 603.63 L602.71 603.25 L603.49 602.87 L604.27 602.50 L605.05 602.15 L605.83 601.82 L606.61 601.50 L607.39 601.20 L608.17 600.93 L608.27 600.90 M616.26 599.10 L616.75 599.02 L617.53 598.92 L618.31 598.83 L619.09 598.76 L619.87 598.71 L620.65 598.69 L621.43 598.69 L622.21 598.69 L622.99 598.69 L623.77 598.69 L624.55 598.69 L625.33 598.69 L626.11 598.69 L626.89 598.69 L627.54 598.69 M635.73 598.91 L636.25 598.94 L637.03 599.01 L637.81 599.07 L638.59 599.13 L639.37 599.19 L640.15 599.24 L640.93 599.29 L641.71 599.33 L642.49 599.37 L643.27 599.41 L644.05 599.46 L644.83 599.50 L645.61 599.54 L646.39 599.59 L647.01 599.62 M655.20 600.02 L655.75 600.04 L656.53 600.06 L657.31 600.08 L658.09 600.09 L658.87 600.11 L659.65 600.11 L660.43 600.12 L661.21 600.12 L661.99 600.11 L662.77 600.11 L663.55 600.10 L664.33 600.10 L665.11 600.09 L665.89 600.08 L666.50 600.07 M674.70 599.91 L675.25 599.90 L676.03 599.88 L676.81 599.86 L677.59 599.84 L678.37 599.83 L679.15 599.81 L679.93 599.79 L680.71 599.78 L681.49 599.76 L682.27 599.74 L683.05 599.72 L683.83 599.70 L684.60 599.68 L685.38 599.66 L685.99 599.64 M694.19 599.41 L694.74 599.39 L695.52 599.37 L696.30 599.34 L697.08 599.32 L697.86 599.29 L698.64 599.27 L699.42 599.25 L700.20 599.23 L700.98 599.20 L701.76 599.18 L702.54 599.16 L703.32 599.14 L704.10 599.11 L704.88 599.09 L705.49 599.07 M713.68 598.80 L714.24 598.78 L715.02 598.75 L715.80 598.71 L716.58 598.68 L717.36 598.64 L718.14 598.61 L718.92 598.57 L719.70 598.53 L720.48 598.49 L721.26 598.44 L722.04 598.39 L722.82 598.33 L723.60 598.28 L724.38 598.21 L724.96 598.16 M733.12 597.34 L733.74 597.26 L734.52 597.17 L735.30 597.08 L736.08 596.99 L736.86 596.89 L737.64 596.80 L738.42 596.70 L739.20 596.60 L739.98 596.51 L740.76 596.41 L741.54 596.31 L742.32 596.20 L743.10 596.10 L743.88 595.99 L744.33 595.93 M752.42 594.59 L752.46 594.58 L753.24 594.43 L754.02 594.27 L754.80 594.10 L755.58 593.93 L756.36 593.75 L757.14 593.55 L757.92 593.34 L758.70 593.11 L759.48 592.87 L760.26 592.62 L761.04 592.36 L761.82 592.09 L762.60 591.82 L763.29 591.57" fill="none" stroke="#ffd000" stroke-width="2.40" stroke-linecap="butt" stroke-linejoin="round"/>
</g>
<path d="M510.36 567.36 v6.50 M510.36 741.43 v-6.50 M527.63 567.36 v6.50 M527.63 741.43 v-6.50 M544.89 567.36 v6.50 M544.89 741.43 v-6.50 M562.16 567.36 v13.00 M562.16 741.43 v-13.00 M579.42 567.36 v6.50 M579.42 741.43 v-6.50 M596.69 567.36 v6.50 M596.69 741.43 v-6.50 M613.95 567.36 v6.50 M613.95 741.43 v-6.50 M631.22 567.36 v13.00 M631.22 741.43 v-13.00 M648.48 567.36 v6.50 M648.48 741.43 v-6.50 M665.75 567.36 v6.50 M665.75 741.43 v-6.50 M683.01 567.36 v6.50 M683.01 741.43 v-6.50 M700.28 567.36 v13.00 M700.28 741.43 v-13.00 M717.54 567.36 v6.50 M717.54 741.43 v-6.50 M734.81 567.36 v6.50 M734.81 741.43 v-6.50 M752.07 567.36 v6.50 M752.07 741.43 v-6.50 M769.34 567.36 v13.00 M769.34 741.43 v-13.00 M786.60 567.36 v6.50 M786.60 741.43 v-6.50 M493.10 733.52 h5.90 M786.60 733.52 h-5.90 M493.10 725.61 h12.00 M786.60 725.61 h-12.00 M493.10 717.69 h5.90 M786.60 717.69 h-5.90 M493.10 709.78 h5.90 M786.60 709.78 h-5.90 M493.10 701.87 h5.90 M786.60 701.87 h-5.90 M493.10 693.96 h12.00 M786.60 693.96 h-12.00 M493.10 686.04 h5.90 M786.60 686.04 h-5.90 M493.10 678.13 h5.90 M786.60 678.13 h-5.90 M493.10 670.22 h5.90 M786.60 670.22 h-5.90 M493.10 662.31 h12.00 M786.60 662.31 h-12.00 M493.10 654.39 h5.90 M786.60 654.39 h-5.90 M493.10 646.48 h5.90 M786.60 646.48 h-5.90 M493.10 638.57 h5.90 M786.60 638.57 h-5.90 M493.10 630.66 h12.00 M786.60 630.66 h-12.00 M493.10 622.75 h5.90 M786.60 622.75 h-5.90 M493.10 614.83 h5.90 M786.60 614.83 h-5.90 M493.10 606.92 h5.90 M786.60 606.92 h-5.90 M493.10 599.01 h12.00 M786.60 599.01 h-12.00 M493.10 591.10 h5.90 M786.60 591.10 h-5.90 M493.10 583.18 h5.90 M786.60 583.18 h-5.90 M493.10 575.27 h5.90 M786.60 575.27 h-5.90" stroke="#000" stroke-width="1.05" fill="none"/>
<rect x="493.10" y="567.36" width="293.50" height="174.07" fill="none" stroke="#000" stroke-width="1.05"/>
<text x="501.90" y="598.56" class="t">max</text>
<text x="90.45" y="770.7" class="t" text-anchor="middle">0</text>
<text x="159.51" y="770.7" class="t" text-anchor="middle">2</text>
<text x="228.57" y="770.7" class="t" text-anchor="middle">4</text>
<text x="297.63" y="770.7" class="t" text-anchor="middle">6</text>
<text x="366.69" y="770.7" class="t" text-anchor="middle">8</text>
<text x="229.35" y="799.3" class="t" text-anchor="middle">r(kpc)</text>
<text transform="translate(80.85 725.61) rotate(-90)" class="t" text-anchor="middle">0</text>
<text transform="translate(80.85 693.96) rotate(-90)" class="t" text-anchor="middle">20</text>
<text transform="translate(80.85 662.31) rotate(-90)" class="t" text-anchor="middle">40</text>
<text transform="translate(80.85 630.66) rotate(-90)" class="t" text-anchor="middle">60</text>
<text transform="translate(80.85 599.01) rotate(-90)" class="t" text-anchor="middle">80</text>
<text transform="translate(80.85 567.36) rotate(-90)" class="t" text-anchor="middle">100</text>
<text transform="translate(56.65 688.60) rotate(-90)" class="s" style="font-size:19.5px" text-anchor="middle">V</text>
<text transform="translate(56.65 677.00) rotate(-90)" class="s" style="font-size:20.5px" text-anchor="middle">(</text>
<text transform="translate(56.65 667.70) rotate(-90)" class="s" style="font-size:19.5px" text-anchor="middle">k</text>
<text transform="translate(56.65 654.50) rotate(-90)" class="s" style="font-size:19.5px" text-anchor="middle">m</text>
<text transform="translate(56.65 628.40) rotate(-90)" class="s" style="font-size:19.5px" text-anchor="middle">s</text>
<text transform="translate(56.65 621.30) rotate(-90)" class="s" style="font-size:20.5px" text-anchor="middle">)</text>
<path d="M42.05 633.3 L60.25 644.9" stroke="#000" stroke-width="1.25" fill="none"/>
<text x="493.10" y="770.7" class="t" text-anchor="middle">0</text>
<text x="562.16" y="770.7" class="t" text-anchor="middle">2</text>
<text x="631.22" y="770.7" class="t" text-anchor="middle">4</text>
<text x="700.28" y="770.7" class="t" text-anchor="middle">6</text>
<text x="769.34" y="770.7" class="t" text-anchor="middle">8</text>
<text x="632.00" y="799.3" class="t" text-anchor="middle">r(kpc)</text>
<text transform="translate(483.50 725.61) rotate(-90)" class="t" text-anchor="middle">0</text>
<text transform="translate(483.50 693.96) rotate(-90)" class="t" text-anchor="middle">20</text>
<text transform="translate(483.50 662.31) rotate(-90)" class="t" text-anchor="middle">40</text>
<text transform="translate(483.50 630.66) rotate(-90)" class="t" text-anchor="middle">60</text>
<text transform="translate(483.50 599.01) rotate(-90)" class="t" text-anchor="middle">80</text>
<text transform="translate(483.50 567.36) rotate(-90)" class="t" text-anchor="middle">100</text>
<text transform="translate(459.30 688.60) rotate(-90)" class="s" style="font-size:19.5px" text-anchor="middle">V</text>
<text transform="translate(459.30 677.00) rotate(-90)" class="s" style="font-size:20.5px" text-anchor="middle">(</text>
<text transform="translate(459.30 667.70) rotate(-90)" class="s" style="font-size:19.5px" text-anchor="middle">k</text>
<text transform="translate(459.30 654.50) rotate(-90)" class="s" style="font-size:19.5px" text-anchor="middle">m</text>
<text transform="translate(459.30 628.40) rotate(-90)" class="s" style="font-size:19.5px" text-anchor="middle">s</text>
<text transform="translate(459.30 621.30) rotate(-90)" class="s" style="font-size:20.5px" text-anchor="middle">)</text>
<path d="M444.70 633.3 L462.90 644.9" stroke="#000" stroke-width="1.25" fill="none"/>
<text x="176.4" y="29.0" class="t">NGC 4395 ISO</text>
<text x="579.3" y="29.0" class="t">NGC 4395 NFW</text>
</svg>
</body></html>
